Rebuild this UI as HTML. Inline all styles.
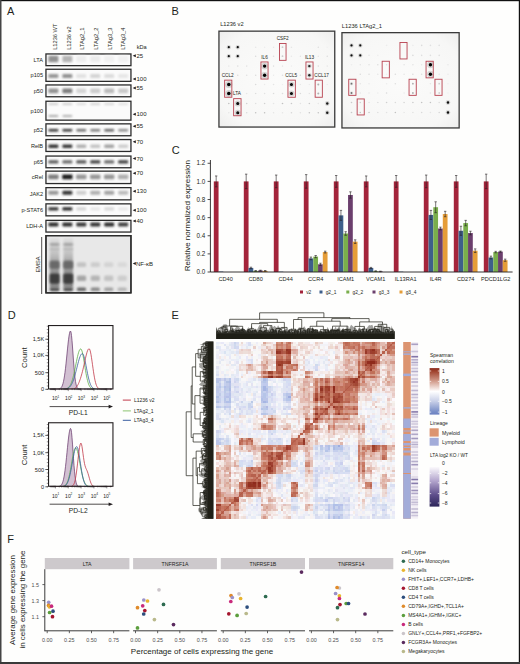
<!DOCTYPE html>
<html><head><meta charset="utf-8"><style>
html,body{margin:0;padding:0;background:#fff;}
svg{display:block;font-family:"Liberation Sans", sans-serif;}
</style></head><body>
<svg width="520" height="664" viewBox="0 0 520 664">
<defs>
<filter id="bl" x="-50%" y="-50%" width="200%" height="200%"><feGaussianBlur stdDeviation="0.7"/></filter>
<filter id="bb" x="-50%" y="-80%" width="200%" height="260%"><feGaussianBlur stdDeviation="1.1 0.85"/></filter>
<filter id="bl3" x="-50%" y="-80%" width="200%" height="260%"><feGaussianBlur stdDeviation="1.0 1.1"/></filter>
<linearGradient id="smear" x1="0" y1="0" x2="0" y2="1"><stop offset="0" stop-color="#dedede"/><stop offset="0.3" stop-color="#c4c4c4"/><stop offset="0.55" stop-color="#9a9a9a"/><stop offset="1" stop-color="#8a8a8a"/></linearGradient>
<filter id="bs" x="-50%" y="-50%" width="200%" height="200%"><feGaussianBlur stdDeviation="0.35"/></filter>
<filter id="bl2" x="-50%" y="-50%" width="200%" height="200%"><feGaussianBlur stdDeviation="1.6"/></filter>
<clipPath id="emsaclip"><rect x="46" y="236" width="85" height="57"/></clipPath>
<radialGradient id="memb" cx="50%" cy="50%" r="72%"><stop offset="0" stop-color="#fbfbfa"/><stop offset="0.75" stop-color="#f7f7f6"/><stop offset="1" stop-color="#ededec"/></radialGradient>
<linearGradient id="spear" x1="0" y1="0" x2="0" y2="1"><stop offset="0" stop-color="#8c2a1a"/><stop offset="0.07" stop-color="#a0432e"/><stop offset="0.29" stop-color="#d4a090"/><stop offset="0.5" stop-color="#ffffff"/><stop offset="0.71" stop-color="#c9d0e8"/><stop offset="0.93" stop-color="#7b90c8"/><stop offset="1" stop-color="#6a80c0"/></linearGradient>
<linearGradient id="ltag" x1="0" y1="0" x2="0" y2="1"><stop offset="0" stop-color="#fbf9fc"/><stop offset="0.35" stop-color="#b3a5cd"/><stop offset="0.7" stop-color="#5f4f8c"/><stop offset="1" stop-color="#2c2559"/></linearGradient>
</defs>
<rect x="0" y="0" width="520" height="664" fill="#fefefd"/>
<text x="7.00" y="15.20" font-size="11" text-anchor="start" fill="#231f20" >A</text><text transform="translate(56.80,49.80) rotate(-90)" font-size="5.7" text-anchor="start" fill="#231f20" >L1236 WT</text><text transform="translate(70.50,49.80) rotate(-90)" font-size="5.7" text-anchor="start" fill="#231f20" >L1236 v2</text><text transform="translate(84.20,49.80) rotate(-90)" font-size="5.7" text-anchor="start" fill="#231f20" >LTAg2_1</text><text transform="translate(97.90,49.80) rotate(-90)" font-size="5.7" text-anchor="start" fill="#231f20" >LTAg2_2</text><text transform="translate(111.60,49.80) rotate(-90)" font-size="5.7" text-anchor="start" fill="#231f20" >LTAg3_3</text><text transform="translate(125.30,49.80) rotate(-90)" font-size="5.7" text-anchor="start" fill="#231f20" >LTAg3_4</text><text x="136.70" y="49.00" font-size="5.6" text-anchor="start" fill="#231f20" >kDa</text><rect x="45.95" y="53.95" width="85.00" height="11.70" fill="#fbfbfb" stroke="#2b2b2b" stroke-width="1.3"/><text x="43.00" y="61.80" font-size="5.6" text-anchor="end" fill="#231f20" >LTA</text><path d="M132.7 55.70 L135.8 54.20 L135.8 57.20 Z" fill="#231f20"/><text x="136.50" y="57.80" font-size="6.0" text-anchor="start" fill="#231f20" >25</text><rect x="48.40" y="55.80" width="10.00" height="6.40" rx="1.2" fill="rgb(145,145,145)" filter="url(#bb)"/><rect x="62.35" y="55.80" width="10.00" height="6.40" rx="1.2" fill="rgb(180,180,180)" filter="url(#bb)"/><rect x="76.30" y="55.80" width="10.00" height="6.40" rx="1.2" fill="rgb(237,237,237)" filter="url(#bb)"/><rect x="90.25" y="55.80" width="10.00" height="6.40" rx="1.2" fill="rgb(235,235,235)" filter="url(#bb)"/><rect x="104.20" y="55.80" width="10.00" height="6.40" rx="1.2" fill="rgb(240,240,240)" filter="url(#bb)"/><rect x="118.15" y="55.80" width="10.00" height="6.40" rx="1.2" fill="rgb(240,240,240)" filter="url(#bb)"/><rect x="45.95" y="69.25" width="85.00" height="12.10" fill="#fbfbfb" stroke="#2b2b2b" stroke-width="1.3"/><text x="43.00" y="77.30" font-size="5.6" text-anchor="end" fill="#231f20" >p105</text><path d="M132.7 79.00 L135.8 77.50 L135.8 80.50 Z" fill="#231f20"/><text x="136.50" y="81.10" font-size="6.0" text-anchor="start" fill="#231f20" >100</text><rect x="48.40" y="73.90" width="10.00" height="4.20" rx="1.2" fill="rgb(150,150,150)" filter="url(#bb)"/><rect x="62.35" y="73.90" width="10.00" height="4.20" rx="1.2" fill="rgb(145,145,145)" filter="url(#bb)"/><rect x="76.30" y="73.90" width="10.00" height="4.20" rx="1.2" fill="rgb(225,225,225)" filter="url(#bb)"/><rect x="90.25" y="73.90" width="10.00" height="4.20" rx="1.2" fill="rgb(212,212,212)" filter="url(#bb)"/><rect x="104.20" y="73.90" width="10.00" height="4.20" rx="1.2" fill="rgb(220,220,220)" filter="url(#bb)"/><rect x="118.15" y="73.90" width="10.00" height="4.20" rx="1.2" fill="rgb(230,230,230)" filter="url(#bb)"/><rect x="45.95" y="84.95" width="85.00" height="11.80" fill="#fbfbfb" stroke="#2b2b2b" stroke-width="1.3"/><text x="43.00" y="92.85" font-size="5.6" text-anchor="end" fill="#231f20" >p50</text><path d="M132.7 88.00 L135.8 86.50 L135.8 89.50 Z" fill="#231f20"/><text x="136.50" y="90.10" font-size="6.0" text-anchor="start" fill="#231f20" >55</text><rect x="48.40" y="88.50" width="10.00" height="4.80" rx="1.2" fill="rgb(145,145,145)" filter="url(#bb)"/><rect x="62.35" y="88.50" width="10.00" height="4.80" rx="1.2" fill="rgb(125,125,125)" filter="url(#bb)"/><rect x="76.30" y="88.50" width="10.00" height="4.80" rx="1.2" fill="rgb(212,212,212)" filter="url(#bb)"/><rect x="90.25" y="88.50" width="10.00" height="4.80" rx="1.2" fill="rgb(202,202,202)" filter="url(#bb)"/><rect x="104.20" y="88.50" width="10.00" height="4.80" rx="1.2" fill="rgb(185,185,185)" filter="url(#bb)"/><rect x="118.15" y="88.50" width="10.00" height="4.80" rx="1.2" fill="rgb(200,200,200)" filter="url(#bb)"/><rect x="45.95" y="101.25" width="85.00" height="18.90" fill="#fbfbfb" stroke="#2b2b2b" stroke-width="1.3"/><text x="43.00" y="112.70" font-size="5.6" text-anchor="end" fill="#231f20" >p100</text><path d="M132.7 114.20 L135.8 112.70 L135.8 115.70 Z" fill="#231f20"/><text x="136.50" y="116.30" font-size="6.0" text-anchor="start" fill="#231f20" >100</text><rect x="48.40" y="103.30" width="10.00" height="1.80" rx="1.2" fill="rgb(200,200,200)" filter="url(#bb)"/><rect x="62.35" y="103.30" width="10.00" height="1.80" rx="1.2" fill="rgb(200,200,200)" filter="url(#bb)"/><rect x="76.30" y="103.30" width="10.00" height="1.80" rx="1.2" fill="rgb(215,215,215)" filter="url(#bb)"/><rect x="90.25" y="103.30" width="10.00" height="1.80" rx="1.2" fill="rgb(205,205,205)" filter="url(#bb)"/><rect x="104.20" y="103.30" width="10.00" height="1.80" rx="1.2" fill="rgb(210,210,210)" filter="url(#bb)"/><rect x="118.15" y="103.30" width="10.00" height="1.80" rx="1.2" fill="rgb(220,220,220)" filter="url(#bb)"/><rect x="48.40" y="115.00" width="10.00" height="2.00" rx="1.2" fill="rgb(169,169,169)" filter="url(#bb)"/><rect x="62.35" y="115.00" width="10.00" height="2.00" rx="1.2" fill="rgb(175,175,175)" filter="url(#bb)"/><rect x="45.95" y="123.85" width="85.00" height="11.90" fill="#fbfbfb" stroke="#2b2b2b" stroke-width="1.3"/><text x="43.00" y="131.80" font-size="5.6" text-anchor="end" fill="#231f20" >p52</text><path d="M132.7 126.30 L135.8 124.80 L135.8 127.80 Z" fill="#231f20"/><text x="136.50" y="128.40" font-size="6.0" text-anchor="start" fill="#231f20" >55</text><rect x="48.40" y="128.90" width="10.00" height="2.60" rx="1.2" fill="rgb(45,45,45)" filter="url(#bb)"/><rect x="62.35" y="128.90" width="10.00" height="2.60" rx="1.2" fill="rgb(49,49,49)" filter="url(#bb)"/><rect x="76.30" y="128.90" width="10.00" height="2.60" rx="1.2" fill="rgb(105,105,105)" filter="url(#bb)"/><rect x="90.25" y="128.90" width="10.00" height="2.60" rx="1.2" fill="rgb(120,120,120)" filter="url(#bb)"/><rect x="104.20" y="128.90" width="10.00" height="2.60" rx="1.2" fill="rgb(95,95,95)" filter="url(#bb)"/><rect x="118.15" y="128.90" width="10.00" height="2.60" rx="1.2" fill="rgb(137,137,137)" filter="url(#bb)"/><rect x="45.95" y="139.55" width="85.00" height="11.90" fill="#fbfbfb" stroke="#2b2b2b" stroke-width="1.3"/><text x="43.00" y="147.50" font-size="5.6" text-anchor="end" fill="#231f20" >RelB</text><path d="M132.7 141.70 L135.8 140.20 L135.8 143.20 Z" fill="#231f20"/><text x="136.50" y="143.80" font-size="6.0" text-anchor="start" fill="#231f20" >70</text><rect x="48.40" y="144.50" width="10.00" height="3.40" rx="1.2" fill="rgb(49,49,49)" filter="url(#bb)"/><rect x="62.35" y="144.50" width="10.00" height="3.40" rx="1.2" fill="rgb(54,54,54)" filter="url(#bb)"/><rect x="76.30" y="144.50" width="10.00" height="3.40" rx="1.2" fill="rgb(175,175,175)" filter="url(#bb)"/><rect x="90.25" y="144.50" width="10.00" height="3.40" rx="1.2" fill="rgb(195,195,195)" filter="url(#bb)"/><rect x="104.20" y="144.50" width="10.00" height="3.40" rx="1.2" fill="rgb(162,162,162)" filter="url(#bb)"/><rect x="118.15" y="144.50" width="10.00" height="3.40" rx="1.2" fill="rgb(205,205,205)" filter="url(#bb)"/><rect x="45.95" y="156.05" width="85.00" height="11.70" fill="#fbfbfb" stroke="#2b2b2b" stroke-width="1.3"/><text x="43.00" y="163.90" font-size="5.6" text-anchor="end" fill="#231f20" >p65</text><path d="M132.7 158.50 L135.8 157.00 L135.8 160.00 Z" fill="#231f20"/><text x="136.50" y="160.60" font-size="6.0" text-anchor="start" fill="#231f20" >70</text><rect x="48.40" y="160.20" width="10.00" height="3.40" rx="1.2" fill="rgb(90,90,90)" filter="url(#bb)"/><rect x="62.35" y="160.20" width="10.00" height="3.40" rx="1.2" fill="rgb(105,105,105)" filter="url(#bb)"/><rect x="76.30" y="160.20" width="10.00" height="3.40" rx="1.2" fill="rgb(84,84,84)" filter="url(#bb)"/><rect x="90.25" y="160.20" width="10.00" height="3.40" rx="1.2" fill="rgb(65,65,65)" filter="url(#bb)"/><rect x="104.20" y="160.20" width="10.00" height="3.40" rx="1.2" fill="rgb(107,107,107)" filter="url(#bb)"/><rect x="118.15" y="160.20" width="10.00" height="3.40" rx="1.2" fill="rgb(60,60,60)" filter="url(#bb)"/><rect x="45.95" y="171.15" width="85.00" height="12.40" fill="#fbfbfb" stroke="#2b2b2b" stroke-width="1.3"/><text x="43.00" y="179.35" font-size="5.6" text-anchor="end" fill="#231f20" >cRel</text><path d="M132.7 173.30 L135.8 171.80 L135.8 174.80 Z" fill="#231f20"/><text x="136.50" y="175.40" font-size="6.0" text-anchor="start" fill="#231f20" >70</text><rect x="48.20" y="174.40" width="10.40" height="4.80" rx="1.2" fill="rgb(125,125,125)" filter="url(#bb)"/><rect x="62.15" y="174.40" width="10.40" height="4.80" rx="1.2" fill="rgb(30,30,30)" filter="url(#bb)"/><rect x="76.10" y="174.40" width="10.40" height="4.80" rx="1.2" fill="rgb(150,150,150)" filter="url(#bb)"/><rect x="90.05" y="174.40" width="10.40" height="4.80" rx="1.2" fill="rgb(150,150,150)" filter="url(#bb)"/><rect x="104.00" y="174.40" width="10.40" height="4.80" rx="1.2" fill="rgb(150,150,150)" filter="url(#bb)"/><rect x="117.95" y="174.40" width="10.40" height="4.80" rx="1.2" fill="rgb(175,175,175)" filter="url(#bb)"/><rect x="45.95" y="187.65" width="85.00" height="12.20" fill="#fbfbfb" stroke="#2b2b2b" stroke-width="1.3"/><text x="43.00" y="195.75" font-size="5.6" text-anchor="end" fill="#231f20" >JAK2</text><path d="M132.7 191.20 L135.8 189.70 L135.8 192.70 Z" fill="#231f20"/><text x="136.50" y="193.30" font-size="6.0" text-anchor="start" fill="#231f20" >130</text><rect x="48.40" y="190.70" width="10.00" height="4.00" rx="1.2" fill="rgb(150,150,150)" filter="url(#bb)"/><rect x="62.35" y="190.70" width="10.00" height="4.00" rx="1.2" fill="rgb(54,54,54)" filter="url(#bb)"/><rect x="76.30" y="190.70" width="10.00" height="4.00" rx="1.2" fill="rgb(205,205,205)" filter="url(#bb)"/><rect x="90.25" y="190.70" width="10.00" height="4.00" rx="1.2" fill="rgb(175,175,175)" filter="url(#bb)"/><rect x="104.20" y="190.70" width="10.00" height="4.00" rx="1.2" fill="rgb(162,162,162)" filter="url(#bb)"/><rect x="118.15" y="190.70" width="10.00" height="4.00" rx="1.2" fill="rgb(187,187,187)" filter="url(#bb)"/><rect x="45.95" y="203.85" width="85.00" height="12.00" fill="#fbfbfb" stroke="#2b2b2b" stroke-width="1.3"/><text x="43.00" y="211.85" font-size="5.6" text-anchor="end" fill="#231f20" >p-STAT6</text><path d="M132.7 210.20 L135.8 208.70 L135.8 211.70 Z" fill="#231f20"/><text x="136.50" y="212.30" font-size="6.0" text-anchor="start" fill="#231f20" >100</text><rect x="48.40" y="207.20" width="10.00" height="3.20" rx="1.2" fill="rgb(49,49,49)" filter="url(#bb)"/><rect x="62.35" y="207.20" width="10.00" height="3.20" rx="1.2" fill="rgb(40,40,40)" filter="url(#bb)"/><rect x="76.30" y="207.20" width="10.00" height="3.20" rx="1.2" fill="rgb(212,212,212)" filter="url(#bb)"/><rect x="90.25" y="207.20" width="10.00" height="3.20" rx="1.2" fill="rgb(230,230,230)" filter="url(#bb)"/><rect x="104.20" y="207.20" width="10.00" height="3.20" rx="1.2" fill="rgb(215,215,215)" filter="url(#bb)"/><rect x="118.15" y="207.20" width="10.00" height="3.20" rx="1.2" fill="rgb(232,232,232)" filter="url(#bb)"/><rect x="45.95" y="220.35" width="85.00" height="11.70" fill="#fbfbfb" stroke="#2b2b2b" stroke-width="1.3"/><text x="43.00" y="228.20" font-size="5.6" text-anchor="end" fill="#231f20" >LDH-A</text><path d="M132.7 221.10 L135.8 219.60 L135.8 222.60 Z" fill="#231f20"/><text x="136.50" y="223.20" font-size="6.0" text-anchor="start" fill="#231f20" >40</text><rect x="48.40" y="222.60" width="10.00" height="3.80" rx="1.2" fill="rgb(45,45,45)" filter="url(#bb)"/><rect x="62.35" y="222.60" width="10.00" height="3.80" rx="1.2" fill="rgb(45,45,45)" filter="url(#bb)"/><rect x="76.30" y="222.60" width="10.00" height="3.80" rx="1.2" fill="rgb(57,57,57)" filter="url(#bb)"/><rect x="90.25" y="222.60" width="10.00" height="3.80" rx="1.2" fill="rgb(52,52,52)" filter="url(#bb)"/><rect x="104.20" y="222.60" width="10.00" height="3.80" rx="1.2" fill="rgb(45,45,45)" filter="url(#bb)"/><rect x="118.15" y="222.60" width="10.00" height="3.80" rx="1.2" fill="rgb(65,65,65)" filter="url(#bb)"/><rect x="45.95" y="235.65" width="85.00" height="57.20" fill="#e8e8e8" stroke="#2b2b2b" stroke-width="1.3"/><g clip-path="url(#emsaclip)"><rect x="49.80" y="238" width="9.6" height="50" fill="url(#smear)" filter="url(#bb)"/><rect x="49.70" y="243.10" width="9.8" height="2.80" rx="2" fill="rgb(165,165,165)" filter="url(#bl3)"/><rect x="49.70" y="247.90" width="9.8" height="2.40" rx="2" fill="rgb(185,185,185)" filter="url(#bl3)"/><rect x="49.70" y="260.70" width="9.8" height="8.00" rx="2" fill="rgb(105,105,105)" filter="url(#bl3)"/><rect x="49.70" y="273.40" width="9.8" height="10.40" rx="2" fill="rgb(62,62,62)" filter="url(#bl3)"/><rect x="49.70" y="287.40" width="9.8" height="3.80" rx="2" fill="rgb(80,80,80)" filter="url(#bl3)"/><rect x="63.40" y="238" width="9.6" height="50" fill="url(#smear)" filter="url(#bb)"/><rect x="63.30" y="243.10" width="9.8" height="2.80" rx="2" fill="rgb(165,165,165)" filter="url(#bl3)"/><rect x="63.30" y="247.90" width="9.8" height="2.40" rx="2" fill="rgb(185,185,185)" filter="url(#bl3)"/><rect x="63.30" y="260.70" width="9.8" height="8.00" rx="2" fill="rgb(105,105,105)" filter="url(#bl3)"/><rect x="63.30" y="273.40" width="9.8" height="10.40" rx="2" fill="rgb(62,62,62)" filter="url(#bl3)"/><rect x="63.30" y="287.40" width="9.8" height="3.80" rx="2" fill="rgb(80,80,80)" filter="url(#bl3)"/><rect x="76.90" y="262.30" width="9.2" height="4.80" rx="1.5" fill="rgb(195,195,195)" filter="url(#bl3)"/><rect x="76.90" y="275.50" width="9.2" height="5.60" rx="1.5" fill="rgb(165,165,165)" filter="url(#bl3)"/><rect x="76.90" y="287.50" width="9.2" height="3.60" rx="1.5" fill="rgb(105,105,105)" filter="url(#bl3)"/><rect x="90.70" y="262.30" width="9.2" height="4.80" rx="1.5" fill="rgb(204,204,204)" filter="url(#bl3)"/><rect x="90.70" y="275.50" width="9.2" height="5.60" rx="1.5" fill="rgb(181,181,181)" filter="url(#bl3)"/><rect x="90.70" y="287.50" width="9.2" height="3.60" rx="1.5" fill="rgb(136,136,136)" filter="url(#bl3)"/><rect x="104.10" y="262.30" width="9.2" height="4.80" rx="1.5" fill="rgb(211,211,211)" filter="url(#bl3)"/><rect x="104.10" y="275.50" width="9.2" height="5.60" rx="1.5" fill="rgb(195,195,195)" filter="url(#bl3)"/><rect x="104.10" y="287.50" width="9.2" height="3.60" rx="1.5" fill="rgb(162,162,162)" filter="url(#bl3)"/><rect x="117.60" y="262.30" width="9.2" height="4.80" rx="1.5" fill="rgb(217,217,217)" filter="url(#bl3)"/><rect x="117.60" y="275.50" width="9.2" height="5.60" rx="1.5" fill="rgb(205,205,205)" filter="url(#bl3)"/><rect x="117.60" y="287.50" width="9.2" height="3.60" rx="1.5" fill="rgb(181,181,181)" filter="url(#bl3)"/></g><rect x="45.95" y="235.65" width="85.00" height="57.20" fill="none" stroke="#2b2b2b" stroke-width="1.3"/><line x1="41.7" y1="237" x2="41.7" y2="294" stroke="#231f20" stroke-width="0.8"/><text transform="translate(40.00,264.40) rotate(-90)" font-size="5.7" text-anchor="middle" fill="#231f20" >EMSA</text><path d="M132.7 263.6 L135.8 262.1 L135.8 265.1 Z" fill="#231f20"/><text x="136.00" y="265.70" font-size="6.0" text-anchor="start" fill="#231f20" >NF-κB</text><text x="171.60" y="15.00" font-size="11" text-anchor="start" fill="#231f20" >B</text><text x="220.20" y="26.30" font-size="5.7" text-anchor="start" fill="#231f20" >L1236 v2</text><text x="341.80" y="27.90" font-size="5.75" text-anchor="start" fill="#231f20" >L1236 LTAg2_1</text><rect x="218.95" y="31.15" width="115.80" height="95.90" fill="url(#memb)" stroke="#3a3a3a" stroke-width="1.3"/><circle cx="228.80" cy="47.20" r="2.20" fill="#000" opacity="0.13" filter="url(#bl)"/><circle cx="228.80" cy="47.20" r="1.10" fill="rgb(12,12,12)" filter="url(#bs)"/><circle cx="237.75" cy="47.20" r="2.20" fill="#000" opacity="0.13" filter="url(#bl)"/><circle cx="237.75" cy="47.20" r="1.10" fill="rgb(12,12,12)" filter="url(#bs)"/><circle cx="255.65" cy="47.20" r="0.80" fill="rgb(231,231,231)" filter="url(#bs)"/><circle cx="264.60" cy="47.20" r="0.80" fill="rgb(236,236,236)" filter="url(#bs)"/><circle cx="273.55" cy="47.20" r="0.80" fill="rgb(230,230,230)" filter="url(#bs)"/><circle cx="282.50" cy="47.20" r="0.90" fill="rgb(203,203,203)" filter="url(#bs)"/><circle cx="291.45" cy="47.20" r="0.80" fill="rgb(229,229,229)" filter="url(#bs)"/><circle cx="318.30" cy="47.20" r="0.80" fill="rgb(223,223,223)" filter="url(#bs)"/><circle cx="327.25" cy="47.20" r="0.80" fill="rgb(240,240,240)" filter="url(#bs)"/><circle cx="228.80" cy="56.20" r="2.20" fill="#000" opacity="0.13" filter="url(#bl)"/><circle cx="228.80" cy="56.20" r="1.10" fill="rgb(12,12,12)" filter="url(#bs)"/><circle cx="237.75" cy="56.20" r="2.20" fill="#000" opacity="0.13" filter="url(#bl)"/><circle cx="237.75" cy="56.20" r="1.10" fill="rgb(12,12,12)" filter="url(#bs)"/><circle cx="255.65" cy="56.20" r="0.80" fill="rgb(218,218,218)" filter="url(#bs)"/><circle cx="264.60" cy="56.20" r="0.80" fill="rgb(234,234,234)" filter="url(#bs)"/><circle cx="273.55" cy="56.20" r="0.80" fill="rgb(223,223,223)" filter="url(#bs)"/><circle cx="282.50" cy="56.20" r="0.90" fill="rgb(203,203,203)" filter="url(#bs)"/><circle cx="291.45" cy="56.20" r="0.80" fill="rgb(233,233,233)" filter="url(#bs)"/><circle cx="300.40" cy="56.20" r="0.80" fill="rgb(228,228,228)" filter="url(#bs)"/><circle cx="318.30" cy="56.20" r="0.80" fill="rgb(229,229,229)" filter="url(#bs)"/><circle cx="327.25" cy="56.20" r="0.80" fill="rgb(222,222,222)" filter="url(#bs)"/><circle cx="228.80" cy="66.10" r="0.80" fill="rgb(232,232,232)" filter="url(#bs)"/><circle cx="237.75" cy="66.10" r="0.80" fill="rgb(225,225,225)" filter="url(#bs)"/><circle cx="246.70" cy="66.10" r="0.80" fill="rgb(228,228,228)" filter="url(#bs)"/><circle cx="264.60" cy="66.10" r="3.40" fill="#000" opacity="0.14" filter="url(#bl)"/><circle cx="264.60" cy="66.10" r="1.70" fill="rgb(0,0,0)" filter="url(#bs)"/><circle cx="273.55" cy="66.10" r="0.80" fill="rgb(225,225,225)" filter="url(#bs)"/><circle cx="282.50" cy="66.10" r="0.80" fill="rgb(230,230,230)" filter="url(#bs)"/><circle cx="291.45" cy="66.10" r="0.80" fill="rgb(239,239,239)" filter="url(#bs)"/><circle cx="309.35" cy="66.10" r="2.40" fill="#000" opacity="0.12" filter="url(#bl)"/><circle cx="309.35" cy="66.10" r="1.20" fill="rgb(37,37,37)" filter="url(#bs)"/><circle cx="318.30" cy="66.10" r="0.80" fill="rgb(222,222,222)" filter="url(#bs)"/><circle cx="327.25" cy="66.10" r="0.80" fill="rgb(233,233,233)" filter="url(#bs)"/><circle cx="228.80" cy="75.30" r="0.80" fill="rgb(226,226,226)" filter="url(#bs)"/><circle cx="237.75" cy="75.30" r="0.80" fill="rgb(221,221,221)" filter="url(#bs)"/><circle cx="246.70" cy="75.30" r="0.80" fill="rgb(226,226,226)" filter="url(#bs)"/><circle cx="255.65" cy="75.30" r="0.80" fill="rgb(220,220,220)" filter="url(#bs)"/><circle cx="264.60" cy="75.30" r="3.40" fill="#000" opacity="0.14" filter="url(#bl)"/><circle cx="264.60" cy="75.30" r="1.70" fill="rgb(0,0,0)" filter="url(#bs)"/><circle cx="273.55" cy="75.30" r="0.80" fill="rgb(236,236,236)" filter="url(#bs)"/><circle cx="282.50" cy="75.30" r="0.80" fill="rgb(224,224,224)" filter="url(#bs)"/><circle cx="291.45" cy="75.30" r="0.80" fill="rgb(234,234,234)" filter="url(#bs)"/><circle cx="300.40" cy="75.30" r="0.80" fill="rgb(220,220,220)" filter="url(#bs)"/><circle cx="309.35" cy="75.30" r="2.40" fill="#000" opacity="0.12" filter="url(#bl)"/><circle cx="309.35" cy="75.30" r="1.20" fill="rgb(37,37,37)" filter="url(#bs)"/><circle cx="318.30" cy="75.30" r="0.80" fill="rgb(221,221,221)" filter="url(#bs)"/><circle cx="228.80" cy="84.50" r="3.60" fill="#000" opacity="0.14" filter="url(#bl)"/><circle cx="228.80" cy="84.50" r="1.80" fill="rgb(0,0,0)" filter="url(#bs)"/><circle cx="255.65" cy="84.50" r="0.80" fill="rgb(219,219,219)" filter="url(#bs)"/><circle cx="264.60" cy="84.50" r="0.80" fill="rgb(235,235,235)" filter="url(#bs)"/><circle cx="273.55" cy="84.50" r="0.80" fill="rgb(229,229,229)" filter="url(#bs)"/><circle cx="282.50" cy="84.50" r="0.80" fill="rgb(239,239,239)" filter="url(#bs)"/><circle cx="291.45" cy="84.50" r="3.00" fill="#000" opacity="0.14" filter="url(#bl)"/><circle cx="291.45" cy="84.50" r="1.50" fill="rgb(7,7,7)" filter="url(#bs)"/><circle cx="300.40" cy="84.50" r="0.80" fill="rgb(232,232,232)" filter="url(#bs)"/><circle cx="309.35" cy="84.50" r="0.80" fill="rgb(236,236,236)" filter="url(#bs)"/><circle cx="318.30" cy="84.50" r="1.00" fill="rgb(178,178,178)" filter="url(#bs)"/><circle cx="327.25" cy="84.50" r="0.80" fill="rgb(237,237,237)" filter="url(#bs)"/><circle cx="228.80" cy="93.50" r="3.60" fill="#000" opacity="0.14" filter="url(#bl)"/><circle cx="228.80" cy="93.50" r="1.80" fill="rgb(0,0,0)" filter="url(#bs)"/><circle cx="237.75" cy="93.50" r="0.80" fill="rgb(230,230,230)" filter="url(#bs)"/><circle cx="246.70" cy="93.50" r="0.80" fill="rgb(230,230,230)" filter="url(#bs)"/><circle cx="255.65" cy="93.50" r="0.80" fill="rgb(221,221,221)" filter="url(#bs)"/><circle cx="264.60" cy="93.50" r="0.80" fill="rgb(227,227,227)" filter="url(#bs)"/><circle cx="273.55" cy="93.50" r="0.80" fill="rgb(220,220,220)" filter="url(#bs)"/><circle cx="282.50" cy="93.50" r="0.80" fill="rgb(222,222,222)" filter="url(#bs)"/><circle cx="291.45" cy="93.50" r="3.00" fill="#000" opacity="0.14" filter="url(#bl)"/><circle cx="291.45" cy="93.50" r="1.50" fill="rgb(7,7,7)" filter="url(#bs)"/><circle cx="300.40" cy="93.50" r="0.80" fill="rgb(218,218,218)" filter="url(#bs)"/><circle cx="309.35" cy="93.50" r="0.80" fill="rgb(228,228,228)" filter="url(#bs)"/><circle cx="318.30" cy="93.50" r="1.00" fill="rgb(178,178,178)" filter="url(#bs)"/><circle cx="228.80" cy="103.50" r="0.80" fill="rgb(194,194,194)" filter="url(#bs)"/><circle cx="237.75" cy="103.50" r="3.00" fill="#000" opacity="0.14" filter="url(#bl)"/><circle cx="237.75" cy="103.50" r="1.50" fill="rgb(7,7,7)" filter="url(#bs)"/><circle cx="246.70" cy="103.50" r="0.80" fill="rgb(210,210,210)" filter="url(#bs)"/><circle cx="255.65" cy="103.50" r="0.80" fill="rgb(224,224,224)" filter="url(#bs)"/><circle cx="264.60" cy="103.50" r="0.80" fill="rgb(210,210,210)" filter="url(#bs)"/><circle cx="273.55" cy="103.50" r="0.80" fill="rgb(230,230,230)" filter="url(#bs)"/><circle cx="282.50" cy="103.50" r="0.80" fill="rgb(193,193,193)" filter="url(#bs)"/><circle cx="291.45" cy="103.50" r="0.80" fill="rgb(201,201,201)" filter="url(#bs)"/><circle cx="300.40" cy="103.50" r="0.80" fill="rgb(227,227,227)" filter="url(#bs)"/><circle cx="309.35" cy="103.50" r="0.80" fill="rgb(202,202,202)" filter="url(#bs)"/><circle cx="318.30" cy="103.50" r="0.80" fill="rgb(231,231,231)" filter="url(#bs)"/><circle cx="327.25" cy="103.50" r="2.40" fill="#000" opacity="0.13" filter="url(#bl)"/><circle cx="327.25" cy="103.50" r="1.20" fill="rgb(24,24,24)" filter="url(#bs)"/><circle cx="228.80" cy="112.70" r="0.80" fill="rgb(231,231,231)" filter="url(#bs)"/><circle cx="237.75" cy="112.70" r="3.00" fill="#000" opacity="0.14" filter="url(#bl)"/><circle cx="237.75" cy="112.70" r="1.50" fill="rgb(7,7,7)" filter="url(#bs)"/><circle cx="246.70" cy="112.70" r="0.80" fill="rgb(219,219,219)" filter="url(#bs)"/><circle cx="255.65" cy="112.70" r="0.80" fill="rgb(194,194,194)" filter="url(#bs)"/><circle cx="264.60" cy="112.70" r="0.80" fill="rgb(193,193,193)" filter="url(#bs)"/><circle cx="273.55" cy="112.70" r="0.80" fill="rgb(230,230,230)" filter="url(#bs)"/><circle cx="282.50" cy="112.70" r="0.80" fill="rgb(231,231,231)" filter="url(#bs)"/><circle cx="291.45" cy="112.70" r="0.80" fill="rgb(216,216,216)" filter="url(#bs)"/><circle cx="300.40" cy="112.70" r="0.80" fill="rgb(226,226,226)" filter="url(#bs)"/><circle cx="309.35" cy="112.70" r="0.80" fill="rgb(198,198,198)" filter="url(#bs)"/><circle cx="318.30" cy="112.70" r="0.80" fill="rgb(195,195,195)" filter="url(#bs)"/><circle cx="327.25" cy="112.70" r="2.40" fill="#000" opacity="0.13" filter="url(#bl)"/><circle cx="327.25" cy="112.70" r="1.20" fill="rgb(24,24,24)" filter="url(#bs)"/><rect x="279.45" y="43.45" width="6.60" height="16.90" fill="none" stroke="#b7414f" stroke-width="0.9"/><rect x="260.95" y="61.95" width="7.10" height="17.10" fill="none" stroke="#b7414f" stroke-width="0.9"/><rect x="305.95" y="61.95" width="7.10" height="17.10" fill="none" stroke="#b7414f" stroke-width="0.9"/><rect x="224.65" y="80.15" width="7.20" height="17.10" fill="none" stroke="#b7414f" stroke-width="0.9"/><rect x="287.95" y="80.15" width="7.40" height="17.10" fill="none" stroke="#b7414f" stroke-width="0.9"/><rect x="315.15" y="80.15" width="7.20" height="17.10" fill="none" stroke="#b7414f" stroke-width="0.9"/><rect x="233.65" y="98.65" width="7.40" height="17.10" fill="none" stroke="#b7414f" stroke-width="0.9"/><rect x="341.95" y="32.65" width="117.20" height="95.30" fill="url(#memb)" stroke="#3a3a3a" stroke-width="1.3"/><circle cx="351.50" cy="45.40" r="2.20" fill="#000" opacity="0.13" filter="url(#bl)"/><circle cx="351.50" cy="45.40" r="1.10" fill="rgb(12,12,12)" filter="url(#bs)"/><circle cx="360.27" cy="45.40" r="2.20" fill="#000" opacity="0.13" filter="url(#bl)"/><circle cx="360.27" cy="45.40" r="1.10" fill="rgb(12,12,12)" filter="url(#bs)"/><circle cx="386.58" cy="45.40" r="0.80" fill="rgb(236,236,236)" filter="url(#bs)"/><circle cx="412.89" cy="45.40" r="0.80" fill="rgb(236,236,236)" filter="url(#bs)"/><circle cx="421.66" cy="45.40" r="0.80" fill="rgb(220,220,220)" filter="url(#bs)"/><circle cx="430.43" cy="45.40" r="0.80" fill="rgb(224,224,224)" filter="url(#bs)"/><circle cx="439.20" cy="45.40" r="0.80" fill="rgb(225,225,225)" filter="url(#bs)"/><circle cx="351.50" cy="55.40" r="2.20" fill="#000" opacity="0.13" filter="url(#bl)"/><circle cx="351.50" cy="55.40" r="1.10" fill="rgb(12,12,12)" filter="url(#bs)"/><circle cx="360.27" cy="55.40" r="2.20" fill="#000" opacity="0.13" filter="url(#bl)"/><circle cx="360.27" cy="55.40" r="1.10" fill="rgb(12,12,12)" filter="url(#bs)"/><circle cx="369.04" cy="55.40" r="0.80" fill="rgb(232,232,232)" filter="url(#bs)"/><circle cx="377.81" cy="55.40" r="0.80" fill="rgb(239,239,239)" filter="url(#bs)"/><circle cx="412.89" cy="55.40" r="0.80" fill="rgb(220,220,220)" filter="url(#bs)"/><circle cx="421.66" cy="55.40" r="0.80" fill="rgb(223,223,223)" filter="url(#bs)"/><circle cx="430.43" cy="55.40" r="0.80" fill="rgb(223,223,223)" filter="url(#bs)"/><circle cx="439.20" cy="55.40" r="0.80" fill="rgb(224,224,224)" filter="url(#bs)"/><circle cx="351.50" cy="64.80" r="0.80" fill="rgb(238,238,238)" filter="url(#bs)"/><circle cx="360.27" cy="64.80" r="0.80" fill="rgb(229,229,229)" filter="url(#bs)"/><circle cx="369.04" cy="64.80" r="0.80" fill="rgb(226,226,226)" filter="url(#bs)"/><circle cx="377.81" cy="64.80" r="0.80" fill="rgb(222,222,222)" filter="url(#bs)"/><circle cx="386.58" cy="64.80" r="0.80" fill="rgb(221,221,221)" filter="url(#bs)"/><circle cx="404.12" cy="64.80" r="0.80" fill="rgb(229,229,229)" filter="url(#bs)"/><circle cx="412.89" cy="64.80" r="0.80" fill="rgb(228,228,228)" filter="url(#bs)"/><circle cx="421.66" cy="64.80" r="0.80" fill="rgb(232,232,232)" filter="url(#bs)"/><circle cx="430.43" cy="64.80" r="3.40" fill="#000" opacity="0.14" filter="url(#bl)"/><circle cx="430.43" cy="64.80" r="1.70" fill="rgb(0,0,0)" filter="url(#bs)"/><circle cx="447.97" cy="64.80" r="0.80" fill="rgb(233,233,233)" filter="url(#bs)"/><circle cx="360.27" cy="74.20" r="0.80" fill="rgb(220,220,220)" filter="url(#bs)"/><circle cx="369.04" cy="74.20" r="0.80" fill="rgb(222,222,222)" filter="url(#bs)"/><circle cx="377.81" cy="74.20" r="0.80" fill="rgb(231,231,231)" filter="url(#bs)"/><circle cx="386.58" cy="74.20" r="0.80" fill="rgb(239,239,239)" filter="url(#bs)"/><circle cx="395.35" cy="74.20" r="0.80" fill="rgb(220,220,220)" filter="url(#bs)"/><circle cx="404.12" cy="74.20" r="0.80" fill="rgb(230,230,230)" filter="url(#bs)"/><circle cx="412.89" cy="74.20" r="0.80" fill="rgb(221,221,221)" filter="url(#bs)"/><circle cx="421.66" cy="74.20" r="0.80" fill="rgb(222,222,222)" filter="url(#bs)"/><circle cx="430.43" cy="74.20" r="3.40" fill="#000" opacity="0.14" filter="url(#bl)"/><circle cx="430.43" cy="74.20" r="1.70" fill="rgb(0,0,0)" filter="url(#bs)"/><circle cx="439.20" cy="74.20" r="0.80" fill="rgb(232,232,232)" filter="url(#bs)"/><circle cx="447.97" cy="74.20" r="0.80" fill="rgb(235,235,235)" filter="url(#bs)"/><circle cx="351.50" cy="83.70" r="1.80" fill="#000" opacity="0.08" filter="url(#bl)"/><circle cx="351.50" cy="83.70" r="0.90" fill="rgb(111,111,111)" filter="url(#bs)"/><circle cx="360.27" cy="83.70" r="0.80" fill="rgb(230,230,230)" filter="url(#bs)"/><circle cx="369.04" cy="83.70" r="0.80" fill="rgb(235,235,235)" filter="url(#bs)"/><circle cx="386.58" cy="83.70" r="0.80" fill="rgb(238,238,238)" filter="url(#bs)"/><circle cx="395.35" cy="83.70" r="0.80" fill="rgb(223,223,223)" filter="url(#bs)"/><circle cx="412.89" cy="83.70" r="0.90" fill="rgb(173,173,173)" filter="url(#bs)"/><circle cx="430.43" cy="83.70" r="0.80" fill="rgb(229,229,229)" filter="url(#bs)"/><circle cx="439.20" cy="83.70" r="0.90" fill="rgb(210,210,210)" filter="url(#bs)"/><circle cx="447.97" cy="83.70" r="0.80" fill="rgb(239,239,239)" filter="url(#bs)"/><circle cx="351.50" cy="93.00" r="1.80" fill="#000" opacity="0.08" filter="url(#bl)"/><circle cx="351.50" cy="93.00" r="0.90" fill="rgb(111,111,111)" filter="url(#bs)"/><circle cx="360.27" cy="93.00" r="0.80" fill="rgb(232,232,232)" filter="url(#bs)"/><circle cx="369.04" cy="93.00" r="0.80" fill="rgb(233,233,233)" filter="url(#bs)"/><circle cx="377.81" cy="93.00" r="0.80" fill="rgb(237,237,237)" filter="url(#bs)"/><circle cx="386.58" cy="93.00" r="0.80" fill="rgb(218,218,218)" filter="url(#bs)"/><circle cx="404.12" cy="93.00" r="0.80" fill="rgb(235,235,235)" filter="url(#bs)"/><circle cx="412.89" cy="93.00" r="0.90" fill="rgb(173,173,173)" filter="url(#bs)"/><circle cx="430.43" cy="93.00" r="0.80" fill="rgb(229,229,229)" filter="url(#bs)"/><circle cx="439.20" cy="93.00" r="0.90" fill="rgb(210,210,210)" filter="url(#bs)"/><circle cx="447.97" cy="93.00" r="0.80" fill="rgb(239,239,239)" filter="url(#bs)"/><circle cx="351.50" cy="102.50" r="0.80" fill="rgb(203,203,203)" filter="url(#bs)"/><circle cx="360.27" cy="102.50" r="0.80" fill="rgb(210,210,210)" filter="url(#bs)"/><circle cx="369.04" cy="102.50" r="0.80" fill="rgb(229,229,229)" filter="url(#bs)"/><circle cx="377.81" cy="102.50" r="0.80" fill="rgb(224,224,224)" filter="url(#bs)"/><circle cx="386.58" cy="102.50" r="0.80" fill="rgb(208,208,208)" filter="url(#bs)"/><circle cx="395.35" cy="102.50" r="0.80" fill="rgb(219,219,219)" filter="url(#bs)"/><circle cx="404.12" cy="102.50" r="0.80" fill="rgb(214,214,214)" filter="url(#bs)"/><circle cx="412.89" cy="102.50" r="0.80" fill="rgb(205,205,205)" filter="url(#bs)"/><circle cx="421.66" cy="102.50" r="0.80" fill="rgb(195,195,195)" filter="url(#bs)"/><circle cx="430.43" cy="102.50" r="0.80" fill="rgb(195,195,195)" filter="url(#bs)"/><circle cx="439.20" cy="102.50" r="0.80" fill="rgb(221,221,221)" filter="url(#bs)"/><circle cx="447.97" cy="102.50" r="2.40" fill="#000" opacity="0.13" filter="url(#bl)"/><circle cx="447.97" cy="102.50" r="1.20" fill="rgb(12,12,12)" filter="url(#bs)"/><circle cx="351.50" cy="112.50" r="0.80" fill="rgb(202,202,202)" filter="url(#bs)"/><circle cx="360.27" cy="112.50" r="0.80" fill="rgb(195,195,195)" filter="url(#bs)"/><circle cx="369.04" cy="112.50" r="0.80" fill="rgb(200,200,200)" filter="url(#bs)"/><circle cx="377.81" cy="112.50" r="0.80" fill="rgb(225,225,225)" filter="url(#bs)"/><circle cx="386.58" cy="112.50" r="0.80" fill="rgb(227,227,227)" filter="url(#bs)"/><circle cx="395.35" cy="112.50" r="0.80" fill="rgb(194,194,194)" filter="url(#bs)"/><circle cx="404.12" cy="112.50" r="0.80" fill="rgb(232,232,232)" filter="url(#bs)"/><circle cx="412.89" cy="112.50" r="0.80" fill="rgb(226,226,226)" filter="url(#bs)"/><circle cx="421.66" cy="112.50" r="0.80" fill="rgb(218,218,218)" filter="url(#bs)"/><circle cx="430.43" cy="112.50" r="0.80" fill="rgb(229,229,229)" filter="url(#bs)"/><circle cx="439.20" cy="112.50" r="0.80" fill="rgb(216,216,216)" filter="url(#bs)"/><circle cx="447.97" cy="112.50" r="2.40" fill="#000" opacity="0.13" filter="url(#bl)"/><circle cx="447.97" cy="112.50" r="1.20" fill="rgb(12,12,12)" filter="url(#bs)"/><rect x="399.95" y="42.45" width="7.10" height="16.50" fill="none" stroke="#b7414f" stroke-width="0.9"/><rect x="382.15" y="61.25" width="7.20" height="16.60" fill="none" stroke="#b7414f" stroke-width="0.9"/><rect x="426.05" y="61.25" width="7.20" height="16.60" fill="none" stroke="#b7414f" stroke-width="0.9"/><rect x="348.75" y="79.25" width="7.20" height="16.10" fill="none" stroke="#b7414f" stroke-width="0.9"/><rect x="409.05" y="79.25" width="7.20" height="16.10" fill="none" stroke="#b7414f" stroke-width="0.9"/><rect x="434.95" y="79.25" width="7.10" height="16.10" fill="none" stroke="#b7414f" stroke-width="0.9"/><rect x="357.15" y="98.95" width="7.10" height="16.00" fill="none" stroke="#b7414f" stroke-width="0.9"/><text x="282.70" y="40.10" font-size="4.7" text-anchor="middle" fill="#231f20" >CSF2</text><text x="264.50" y="58.50" font-size="4.7" text-anchor="middle" fill="#231f20" >IL6</text><text x="309.50" y="58.50" font-size="4.7" text-anchor="middle" fill="#231f20" >IL13</text><text x="227.70" y="76.50" font-size="4.7" text-anchor="middle" fill="#231f20" >CCL2</text><text x="291.20" y="76.50" font-size="4.7" text-anchor="middle" fill="#231f20" >CCL5</text><text x="321.60" y="76.50" font-size="4.7" text-anchor="middle" fill="#231f20" >CCL17</text><text x="237.00" y="95.20" font-size="4.7" text-anchor="middle" fill="#231f20" >LTA</text><text x="171.80" y="153.80" font-size="11" text-anchor="start" fill="#231f20" >C</text><line x1="210.4" y1="160" x2="210.4" y2="272.0" stroke="#231f20" stroke-width="0.9"/><line x1="207.6" y1="272.00" x2="210.4" y2="272.00" stroke="#231f20" stroke-width="0.8"/><text x="205.30" y="274.20" font-size="6.3" text-anchor="end" fill="#231f20" >0.0</text><line x1="207.6" y1="253.88" x2="210.4" y2="253.88" stroke="#231f20" stroke-width="0.8"/><text x="205.30" y="256.08" font-size="6.3" text-anchor="end" fill="#231f20" >0.2</text><line x1="207.6" y1="235.76" x2="210.4" y2="235.76" stroke="#231f20" stroke-width="0.8"/><text x="205.30" y="237.96" font-size="6.3" text-anchor="end" fill="#231f20" >0.4</text><line x1="207.6" y1="217.64" x2="210.4" y2="217.64" stroke="#231f20" stroke-width="0.8"/><text x="205.30" y="219.84" font-size="6.3" text-anchor="end" fill="#231f20" >0.6</text><line x1="207.6" y1="199.52" x2="210.4" y2="199.52" stroke="#231f20" stroke-width="0.8"/><text x="205.30" y="201.72" font-size="6.3" text-anchor="end" fill="#231f20" >0.8</text><line x1="207.6" y1="181.40" x2="210.4" y2="181.40" stroke="#231f20" stroke-width="0.8"/><text x="205.30" y="183.60" font-size="6.3" text-anchor="end" fill="#231f20" >1.0</text><line x1="207.6" y1="163.28" x2="210.4" y2="163.28" stroke="#231f20" stroke-width="0.8"/><text x="205.30" y="165.48" font-size="6.3" text-anchor="end" fill="#231f20" >1.2</text><rect x="213.80" y="181.40" width="4.75" height="90.60" fill="#a4243b"/><path d="M216.18 175.96V186.84M214.98 175.96h2.4M214.98 186.84h2.4" stroke="#231f20" stroke-width="0.6" fill="none"/><rect x="218.55" y="271.55" width="4.75" height="0.45" fill="#3e5f8b"/><text x="225.68" y="281.20" font-size="5.6" text-anchor="middle" fill="#231f20" >CD40</text><rect x="243.80" y="181.40" width="4.75" height="90.60" fill="#a4243b"/><path d="M246.18 174.15V188.65M244.98 174.15h2.4M244.98 188.65h2.4" stroke="#231f20" stroke-width="0.6" fill="none"/><rect x="248.55" y="267.92" width="4.75" height="4.08" fill="#3e5f8b"/><path d="M250.93 267.20V268.65M249.73 267.20h2.4M249.73 268.65h2.4" stroke="#231f20" stroke-width="0.6" fill="none"/><rect x="253.30" y="270.91" width="4.75" height="1.09" fill="#7aae4c"/><path d="M255.68 270.55V271.28M254.48 270.55h2.4M254.48 271.28h2.4" stroke="#231f20" stroke-width="0.6" fill="none"/><rect x="258.05" y="270.55" width="4.75" height="1.45" fill="#6b3f6d"/><path d="M260.43 270.19V270.91M259.23 270.19h2.4M259.23 270.91h2.4" stroke="#231f20" stroke-width="0.6" fill="none"/><rect x="262.80" y="270.91" width="4.75" height="1.09" fill="#e59d38"/><path d="M265.18 270.55V271.28M263.98 270.55h2.4M263.98 271.28h2.4" stroke="#231f20" stroke-width="0.6" fill="none"/><text x="255.68" y="281.20" font-size="5.6" text-anchor="middle" fill="#231f20" >CD80</text><rect x="273.80" y="181.40" width="4.75" height="90.60" fill="#a4243b"/><path d="M276.18 175.06V187.74M274.98 175.06h2.4M274.98 187.74h2.4" stroke="#231f20" stroke-width="0.6" fill="none"/><rect x="278.55" y="271.64" width="4.75" height="0.36" fill="#3e5f8b"/><text x="285.68" y="281.20" font-size="5.6" text-anchor="middle" fill="#231f20" >CD44</text><rect x="303.80" y="181.40" width="4.75" height="90.60" fill="#a4243b"/><path d="M306.18 174.61V188.19M304.98 174.61h2.4M304.98 188.19h2.4" stroke="#231f20" stroke-width="0.6" fill="none"/><rect x="308.55" y="258.41" width="4.75" height="13.59" fill="#3e5f8b"/><path d="M310.93 257.05V259.77M309.73 257.05h2.4M309.73 259.77h2.4" stroke="#231f20" stroke-width="0.6" fill="none"/><rect x="313.30" y="256.60" width="4.75" height="15.40" fill="#7aae4c"/><path d="M315.68 255.51V257.69M314.48 255.51h2.4M314.48 257.69h2.4" stroke="#231f20" stroke-width="0.6" fill="none"/><rect x="318.05" y="264.30" width="4.75" height="7.70" fill="#6b3f6d"/><path d="M320.43 263.21V265.39M319.23 263.21h2.4M319.23 265.39h2.4" stroke="#231f20" stroke-width="0.6" fill="none"/><rect x="322.80" y="252.07" width="4.75" height="19.93" fill="#e59d38"/><path d="M325.18 251.16V252.97M323.98 251.16h2.4M323.98 252.97h2.4" stroke="#231f20" stroke-width="0.6" fill="none"/><text x="315.68" y="281.20" font-size="5.6" text-anchor="middle" fill="#231f20" >CCR4</text><rect x="333.80" y="181.40" width="4.75" height="90.60" fill="#a4243b"/><path d="M336.18 175.51V187.29M334.98 175.51h2.4M334.98 187.29h2.4" stroke="#231f20" stroke-width="0.6" fill="none"/><rect x="338.55" y="215.38" width="4.75" height="56.62" fill="#3e5f8b"/><path d="M340.93 210.39V220.36M339.73 210.39h2.4M339.73 220.36h2.4" stroke="#231f20" stroke-width="0.6" fill="none"/><rect x="343.30" y="233.50" width="4.75" height="38.50" fill="#7aae4c"/><path d="M345.68 231.68V235.31M344.48 231.68h2.4M344.48 235.31h2.4" stroke="#231f20" stroke-width="0.6" fill="none"/><rect x="348.05" y="194.99" width="4.75" height="77.01" fill="#6b3f6d"/><path d="M350.43 191.82V198.16M349.23 191.82h2.4M349.23 198.16h2.4" stroke="#231f20" stroke-width="0.6" fill="none"/><rect x="352.80" y="241.65" width="4.75" height="30.35" fill="#e59d38"/><path d="M355.18 239.84V243.46M353.98 239.84h2.4M353.98 243.46h2.4" stroke="#231f20" stroke-width="0.6" fill="none"/><text x="345.68" y="281.20" font-size="5.6" text-anchor="middle" fill="#231f20" >ICAM1</text><rect x="363.80" y="181.40" width="4.75" height="90.60" fill="#a4243b"/><path d="M366.18 175.96V186.84M364.98 175.96h2.4M364.98 186.84h2.4" stroke="#231f20" stroke-width="0.6" fill="none"/><rect x="368.55" y="267.92" width="4.75" height="4.08" fill="#3e5f8b"/><path d="M370.93 267.38V268.47M369.73 267.38h2.4M369.73 268.47h2.4" stroke="#231f20" stroke-width="0.6" fill="none"/><rect x="373.30" y="271.09" width="4.75" height="0.91" fill="#7aae4c"/><path d="M375.68 270.82V271.37M374.48 270.82h2.4M374.48 271.37h2.4" stroke="#231f20" stroke-width="0.6" fill="none"/><rect x="378.05" y="271.46" width="4.75" height="0.54" fill="#6b3f6d"/><path d="M380.43 271.18V271.73M379.23 271.18h2.4M379.23 271.73h2.4" stroke="#231f20" stroke-width="0.6" fill="none"/><text x="375.68" y="281.20" font-size="5.6" text-anchor="middle" fill="#231f20" >VCAM1</text><rect x="393.80" y="181.40" width="4.75" height="90.60" fill="#a4243b"/><path d="M396.18 175.51V187.29M394.98 175.51h2.4M394.98 187.29h2.4" stroke="#231f20" stroke-width="0.6" fill="none"/><rect x="398.55" y="271.64" width="4.75" height="0.36" fill="#3e5f8b"/><text x="405.68" y="281.20" font-size="5.6" text-anchor="middle" fill="#231f20" >IL13RA1</text><rect x="423.80" y="181.40" width="4.75" height="90.60" fill="#a4243b"/><path d="M426.18 175.06V187.74M424.98 175.06h2.4M424.98 187.74h2.4" stroke="#231f20" stroke-width="0.6" fill="none"/><rect x="428.55" y="214.92" width="4.75" height="57.08" fill="#3e5f8b"/><path d="M430.93 210.39V219.45M429.73 210.39h2.4M429.73 219.45h2.4" stroke="#231f20" stroke-width="0.6" fill="none"/><rect x="433.30" y="207.22" width="4.75" height="64.78" fill="#7aae4c"/><path d="M435.68 201.79V212.66M434.48 201.79h2.4M434.48 212.66h2.4" stroke="#231f20" stroke-width="0.6" fill="none"/><rect x="438.05" y="228.51" width="4.75" height="43.49" fill="#6b3f6d"/><path d="M440.43 227.15V229.87M439.23 227.15h2.4M439.23 229.87h2.4" stroke="#231f20" stroke-width="0.6" fill="none"/><rect x="442.80" y="214.02" width="4.75" height="57.98" fill="#e59d38"/><path d="M445.18 211.30V216.73M443.98 211.30h2.4M443.98 216.73h2.4" stroke="#231f20" stroke-width="0.6" fill="none"/><text x="435.68" y="281.20" font-size="5.6" text-anchor="middle" fill="#231f20" >IL4R</text><rect x="453.80" y="181.40" width="4.75" height="90.60" fill="#a4243b"/><path d="M456.18 175.51V187.29M454.98 175.51h2.4M454.98 187.29h2.4" stroke="#231f20" stroke-width="0.6" fill="none"/><rect x="458.55" y="230.78" width="4.75" height="41.22" fill="#3e5f8b"/><path d="M460.93 226.25V235.31M459.73 226.25h2.4M459.73 235.31h2.4" stroke="#231f20" stroke-width="0.6" fill="none"/><rect x="463.30" y="223.08" width="4.75" height="48.92" fill="#7aae4c"/><path d="M465.68 220.36V225.79M464.48 220.36h2.4M464.48 225.79h2.4" stroke="#231f20" stroke-width="0.6" fill="none"/><rect x="468.05" y="233.04" width="4.75" height="38.96" fill="#6b3f6d"/><path d="M470.43 231.23V234.85M469.23 231.23h2.4M469.23 234.85h2.4" stroke="#231f20" stroke-width="0.6" fill="none"/><rect x="472.80" y="250.71" width="4.75" height="21.29" fill="#e59d38"/><path d="M475.18 248.90V252.52M473.98 248.90h2.4M473.98 252.52h2.4" stroke="#231f20" stroke-width="0.6" fill="none"/><text x="465.68" y="281.20" font-size="5.6" text-anchor="middle" fill="#231f20" >CD274</text><rect x="483.80" y="181.40" width="4.75" height="90.60" fill="#a4243b"/><path d="M486.18 174.15V188.65M484.98 174.15h2.4M484.98 188.65h2.4" stroke="#231f20" stroke-width="0.6" fill="none"/><rect x="488.55" y="257.50" width="4.75" height="14.50" fill="#3e5f8b"/><path d="M490.93 256.14V258.86M489.73 256.14h2.4M489.73 258.86h2.4" stroke="#231f20" stroke-width="0.6" fill="none"/><rect x="493.30" y="252.07" width="4.75" height="19.93" fill="#7aae4c"/><path d="M495.68 251.34V252.79M494.48 251.34h2.4M494.48 252.79h2.4" stroke="#231f20" stroke-width="0.6" fill="none"/><rect x="498.05" y="251.62" width="4.75" height="20.38" fill="#6b3f6d"/><path d="M500.43 251.07V252.16M499.23 251.07h2.4M499.23 252.16h2.4" stroke="#231f20" stroke-width="0.6" fill="none"/><rect x="502.80" y="260.22" width="4.75" height="11.78" fill="#e59d38"/><path d="M505.18 259.13V261.31M503.98 259.13h2.4M503.98 261.31h2.4" stroke="#231f20" stroke-width="0.6" fill="none"/><text x="495.68" y="281.20" font-size="5.6" text-anchor="middle" fill="#231f20" >PDCD1LG2</text><line x1="210.4" y1="272.0" x2="512.6" y2="272.0" stroke="#231f20" stroke-width="0.9"/><text transform="translate(189.80,215.70) rotate(-90)" font-size="8.0" text-anchor="middle" fill="#231f20" >Relative normalized expression</text><rect x="300.00" y="290.5" width="3" height="3" fill="#a4243b"/><text x="306.20" y="293.80" font-size="4.8" text-anchor="start" fill="#231f20" >v2</text><rect x="319.50" y="290.5" width="3" height="3" fill="#3e5f8b"/><text x="325.70" y="293.80" font-size="4.8" text-anchor="start" fill="#231f20" >g2_1</text><rect x="346.30" y="290.5" width="3" height="3" fill="#7aae4c"/><text x="352.50" y="293.80" font-size="4.8" text-anchor="start" fill="#231f20" >g2_2</text><rect x="372.50" y="290.5" width="3" height="3" fill="#6b3f6d"/><text x="378.70" y="293.80" font-size="4.8" text-anchor="start" fill="#231f20" >g3_3</text><rect x="399.50" y="290.5" width="3" height="3" fill="#e59d38"/><text x="405.70" y="293.80" font-size="4.8" text-anchor="start" fill="#231f20" >g3_4</text><text x="7.80" y="319.00" font-size="11" text-anchor="start" fill="#231f20" >D</text><clipPath id="hclip0"><rect x="48.0" y="325.0" width="65.5" height="64.30000000000001"/></clipPath><g clip-path="url(#hclip0)"><path d="M50.0 389.30 L50.5 389.30 L51.0 389.30 L51.5 389.30 L52.0 389.30 L52.5 389.30 L53.0 389.30 L53.5 389.30 L54.0 389.30 L54.5 389.30 L55.0 389.30 L55.5 389.29 L56.0 389.29 L56.5 389.28 L57.0 389.27 L57.5 389.24 L58.0 389.20 L58.5 389.14 L59.0 389.04 L59.5 388.88 L60.0 388.65 L60.5 388.32 L61.0 387.83 L61.5 387.16 L62.0 386.25 L62.5 385.02 L63.0 383.43 L63.5 381.41 L64.0 378.91 L64.5 375.89 L65.0 372.34 L65.5 368.29 L66.0 363.79 L66.5 358.96 L67.0 353.94 L67.5 348.92 L68.0 344.13 L68.5 339.78 L69.0 336.12 L69.5 333.33 L70.0 331.59 L70.5 331.00 L71.0 332.15 L71.5 335.48 L72.0 340.60 L72.5 346.97 L73.0 353.94 L73.5 360.92 L74.0 367.42 L74.5 373.09 L75.0 377.76 L75.5 381.41 L76.0 384.12 L76.5 386.03 L77.0 387.32 L77.5 388.14 L78.0 388.65 L78.5 388.95 L79.0 389.12 L79.5 389.21 L80.0 389.26 L80.5 389.28 L81.0 389.29 L81.5 389.30 L82.0 389.30 L82.5 389.30 L83.0 389.30 L83.5 389.30 L84.0 389.30 L84.5 389.30 L85.0 389.30 L85.5 389.30 L86.0 389.30 L86.5 389.30 L87.0 389.30 L87.5 389.30 L88.0 389.30 L88.5 389.30 L89.0 389.30 L89.5 389.30 L90.0 389.30 L90.5 389.30 L91.0 389.30 L91.5 389.30 L92.0 389.30 L92.5 389.30 L93.0 389.30 L93.5 389.30 L94.0 389.30 L94.5 389.30 L95.0 389.30 L95.5 389.30 L96.0 389.30 L96.5 389.30 L97.0 389.30 L97.5 389.30 L98.0 389.30 L98.5 389.30 L99.0 389.30 L99.5 389.30 L100.0 389.30 L100.5 389.30 L101.0 389.30 L101.5 389.30 L102.0 389.30 L102.5 389.30 L103.0 389.30 L103.5 389.30 L104.0 389.30 L104.5 389.30 L105.0 389.30 L105.5 389.30 L106.0 389.30 L106.5 389.30 L107.0 389.30 L107.5 389.30 L108.0 389.30 L108.5 389.30 L109.0 389.30 L109.5 389.30 L110.0 389.30 L110.5 389.30 L111.0 389.30 L111.5 389.30 L112.0 389.30 L112 389.3 L50 389.3 Z" fill="#d2c0d2" stroke="#6a3b6d" stroke-width="0.75"/><path d="M50.0 389.30 L50.5 389.30 L51.0 389.30 L51.5 389.30 L52.0 389.30 L52.5 389.30 L53.0 389.30 L53.5 389.30 L54.0 389.30 L54.5 389.30 L55.0 389.30 L55.5 389.30 L56.0 389.30 L56.5 389.30 L57.0 389.30 L57.5 389.30 L58.0 389.30 L58.5 389.30 L59.0 389.30 L59.5 389.30 L60.0 389.29 L60.5 389.29 L61.0 389.29 L61.5 389.28 L62.0 389.27 L62.5 389.26 L63.0 389.24 L63.5 389.21 L64.0 389.18 L64.5 389.13 L65.0 389.06 L65.5 388.97 L66.0 388.85 L66.5 388.69 L67.0 388.49 L67.5 388.23 L68.0 387.90 L68.5 387.48 L69.0 386.96 L69.5 386.34 L70.0 385.58 L70.5 384.67 L71.0 383.61 L71.5 382.37 L72.0 380.95 L72.5 379.34 L73.0 377.55 L73.5 375.57 L74.0 373.44 L74.5 371.16 L75.0 368.76 L75.5 366.29 L76.0 363.80 L76.5 361.32 L77.0 358.92 L77.5 356.66 L78.0 354.59 L78.5 352.77 L79.0 351.26 L79.5 350.09 L80.0 349.31 L80.5 348.93 L81.0 349.02 L81.5 349.74 L82.0 351.08 L82.5 352.98 L83.0 355.35 L83.5 358.08 L84.0 361.06 L84.5 364.17 L85.0 367.30 L85.5 370.36 L86.0 373.25 L86.5 375.93 L87.0 378.34 L87.5 380.46 L88.0 382.29 L88.5 383.83 L89.0 385.10 L89.5 386.13 L90.0 386.95 L90.5 387.58 L91.0 388.06 L91.5 388.43 L92.0 388.69 L92.5 388.88 L93.0 389.02 L93.5 389.11 L94.0 389.18 L94.5 389.22 L95.0 389.25 L95.5 389.27 L96.0 389.28 L96.5 389.29 L97.0 389.29 L97.5 389.30 L98.0 389.30 L98.5 389.30 L99.0 389.30 L99.5 389.30 L100.0 389.30 L100.5 389.30 L101.0 389.30 L101.5 389.30 L102.0 389.30 L102.5 389.30 L103.0 389.30 L103.5 389.30 L104.0 389.30 L104.5 389.30 L105.0 389.30 L105.5 389.30 L106.0 389.30 L106.5 389.30 L107.0 389.30 L107.5 389.30 L108.0 389.30 L108.5 389.30 L109.0 389.30 L109.5 389.30 L110.0 389.30 L110.5 389.30 L111.0 389.30 L111.5 389.30 L112.0 389.30" fill="none" stroke="#5fae4a" stroke-width="0.8"/><path d="M50.0 389.30 L50.5 389.30 L51.0 389.30 L51.5 389.30 L52.0 389.30 L52.5 389.30 L53.0 389.30 L53.5 389.30 L54.0 389.30 L54.5 389.30 L55.0 389.30 L55.5 389.30 L56.0 389.30 L56.5 389.30 L57.0 389.30 L57.5 389.30 L58.0 389.30 L58.5 389.30 L59.0 389.30 L59.5 389.30 L60.0 389.29 L60.5 389.29 L61.0 389.29 L61.5 389.28 L62.0 389.27 L62.5 389.26 L63.0 389.24 L63.5 389.22 L64.0 389.19 L64.5 389.14 L65.0 389.09 L65.5 389.02 L66.0 388.92 L66.5 388.81 L67.0 388.66 L67.5 388.47 L68.0 388.23 L68.5 387.94 L69.0 387.58 L69.5 387.15 L70.0 386.63 L70.5 386.02 L71.0 385.30 L71.5 384.47 L72.0 383.51 L72.5 382.42 L73.0 381.20 L73.5 379.84 L74.0 378.34 L74.5 376.72 L75.0 374.98 L75.5 373.14 L76.0 371.22 L76.5 369.25 L77.0 367.25 L77.5 365.25 L78.0 363.30 L78.5 361.43 L79.0 359.68 L79.5 358.09 L80.0 356.70 L80.5 355.53 L81.0 354.62 L81.5 353.99 L82.0 353.66 L82.5 353.64 L83.0 354.12 L83.5 355.10 L84.0 356.54 L84.5 358.39 L85.0 360.56 L85.5 362.97 L86.0 365.54 L86.5 368.17 L87.0 370.79 L87.5 373.33 L88.0 375.72 L88.5 377.92 L89.0 379.91 L89.5 381.66 L90.0 383.18 L90.5 384.47 L91.0 385.54 L91.5 386.42 L92.0 387.13 L92.5 387.68 L93.0 388.12 L93.5 388.44 L94.0 388.69 L94.5 388.87 L95.0 389.01 L95.5 389.10 L96.0 389.17 L96.5 389.21 L97.0 389.24 L97.5 389.26 L98.0 389.28 L98.5 389.29 L99.0 389.29 L99.5 389.29 L100.0 389.30 L100.5 389.30 L101.0 389.30 L101.5 389.30 L102.0 389.30 L102.5 389.30 L103.0 389.30 L103.5 389.30 L104.0 389.30 L104.5 389.30 L105.0 389.30 L105.5 389.30 L106.0 389.30 L106.5 389.30 L107.0 389.30 L107.5 389.30 L108.0 389.30 L108.5 389.30 L109.0 389.30 L109.5 389.30 L110.0 389.30 L110.5 389.30 L111.0 389.30 L111.5 389.30 L112.0 389.30" fill="none" stroke="#3a5ea0" stroke-width="0.8"/><path d="M50.0 389.30 L50.5 389.30 L51.0 389.30 L51.5 389.30 L52.0 389.30 L52.5 389.30 L53.0 389.30 L53.5 389.30 L54.0 389.30 L54.5 389.30 L55.0 389.30 L55.5 389.30 L56.0 389.30 L56.5 389.30 L57.0 389.30 L57.5 389.30 L58.0 389.30 L58.5 389.30 L59.0 389.30 L59.5 389.30 L60.0 389.30 L60.5 389.30 L61.0 389.30 L61.5 389.30 L62.0 389.30 L62.5 389.30 L63.0 389.30 L63.5 389.30 L64.0 389.30 L64.5 389.30 L65.0 389.30 L65.5 389.30 L66.0 389.30 L66.5 389.30 L67.0 389.30 L67.5 389.30 L68.0 389.30 L68.5 389.30 L69.0 389.30 L69.5 389.29 L70.0 389.29 L70.5 389.28 L71.0 389.27 L71.5 389.25 L72.0 389.22 L72.5 389.17 L73.0 389.10 L73.5 389.00 L74.0 388.85 L74.5 388.65 L75.0 388.39 L75.5 388.04 L76.0 387.60 L76.5 387.05 L77.0 386.38 L77.5 385.59 L78.0 384.67 L78.5 383.63 L79.0 382.46 L79.5 381.18 L80.0 379.79 L80.5 378.30 L81.0 376.71 L81.5 375.01 L82.0 373.21 L82.5 371.30 L83.0 369.29 L83.5 367.17 L84.0 364.97 L84.5 362.71 L85.0 360.43 L85.5 358.18 L86.0 356.03 L86.5 354.03 L87.0 352.27 L87.5 350.79 L88.0 349.68 L88.5 348.97 L89.0 348.70 L89.5 349.01 L90.0 350.15 L90.5 352.07 L91.0 354.64 L91.5 357.72 L92.0 361.15 L92.5 364.73 L93.0 368.32 L93.5 371.77 L94.0 374.96 L94.5 377.83 L95.0 380.31 L95.5 382.41 L96.0 384.13 L96.5 385.51 L97.0 386.58 L97.5 387.39 L98.0 387.98 L98.5 388.41 L99.0 388.72 L99.5 388.92 L100.0 389.06 L100.5 389.15 L101.0 389.21 L101.5 389.25 L102.0 389.27 L102.5 389.28 L103.0 389.29 L103.5 389.29 L104.0 389.30 L104.5 389.30 L105.0 389.30 L105.5 389.30 L106.0 389.30 L106.5 389.30 L107.0 389.30 L107.5 389.30 L108.0 389.30 L108.5 389.30 L109.0 389.30 L109.5 389.30 L110.0 389.30 L110.5 389.30 L111.0 389.30 L111.5 389.30 L112.0 389.30" fill="none" stroke="#c23a4a" stroke-width="0.8"/></g><rect x="48.55" y="325.55" width="64.40" height="63.40" fill="none" stroke="#231f20" stroke-width="1.1"/><line x1="45.3" y1="339.2" x2="48.0" y2="339.2" stroke="#231f20" stroke-width="0.7"/><text x="44.20" y="341.20" font-size="5.6" text-anchor="end" fill="#231f20" >1,5K</text><line x1="45.3" y1="355.4" x2="48.0" y2="355.4" stroke="#231f20" stroke-width="0.7"/><text x="44.20" y="357.40" font-size="5.6" text-anchor="end" fill="#231f20" >1,0K</text><line x1="45.3" y1="372.7" x2="48.0" y2="372.7" stroke="#231f20" stroke-width="0.7"/><text x="44.20" y="374.70" font-size="5.6" text-anchor="end" fill="#231f20" >500</text><line x1="45.3" y1="389.3" x2="48.0" y2="389.3" stroke="#231f20" stroke-width="0.7"/><text x="44.20" y="391.30" font-size="5.6" text-anchor="end" fill="#231f20" >0</text><line x1="46.8" y1="389.30" x2="48.0" y2="389.30" stroke="#231f20" stroke-width="0.5"/><line x1="46.8" y1="385.98" x2="48.0" y2="385.98" stroke="#231f20" stroke-width="0.5"/><line x1="46.8" y1="382.66" x2="48.0" y2="382.66" stroke="#231f20" stroke-width="0.5"/><line x1="46.8" y1="379.34" x2="48.0" y2="379.34" stroke="#231f20" stroke-width="0.5"/><line x1="46.8" y1="376.02" x2="48.0" y2="376.02" stroke="#231f20" stroke-width="0.5"/><line x1="46.8" y1="372.70" x2="48.0" y2="372.70" stroke="#231f20" stroke-width="0.5"/><line x1="46.8" y1="369.38" x2="48.0" y2="369.38" stroke="#231f20" stroke-width="0.5"/><line x1="46.8" y1="366.06" x2="48.0" y2="366.06" stroke="#231f20" stroke-width="0.5"/><line x1="46.8" y1="362.74" x2="48.0" y2="362.74" stroke="#231f20" stroke-width="0.5"/><line x1="46.8" y1="359.42" x2="48.0" y2="359.42" stroke="#231f20" stroke-width="0.5"/><line x1="46.8" y1="356.10" x2="48.0" y2="356.10" stroke="#231f20" stroke-width="0.5"/><line x1="46.8" y1="352.78" x2="48.0" y2="352.78" stroke="#231f20" stroke-width="0.5"/><line x1="46.8" y1="349.46" x2="48.0" y2="349.46" stroke="#231f20" stroke-width="0.5"/><line x1="46.8" y1="346.14" x2="48.0" y2="346.14" stroke="#231f20" stroke-width="0.5"/><line x1="46.8" y1="342.82" x2="48.0" y2="342.82" stroke="#231f20" stroke-width="0.5"/><line x1="46.8" y1="339.50" x2="48.0" y2="339.50" stroke="#231f20" stroke-width="0.5"/><line x1="46.8" y1="336.18" x2="48.0" y2="336.18" stroke="#231f20" stroke-width="0.5"/><line x1="46.8" y1="332.86" x2="48.0" y2="332.86" stroke="#231f20" stroke-width="0.5"/><line x1="46.8" y1="329.54" x2="48.0" y2="329.54" stroke="#231f20" stroke-width="0.5"/><line x1="46.8" y1="326.22" x2="48.0" y2="326.22" stroke="#231f20" stroke-width="0.5"/><line x1="50.29" y1="388.5" x2="50.29" y2="390.10" stroke="#231f20" stroke-width="0.5"/><line x1="51.53" y1="388.5" x2="51.53" y2="390.10" stroke="#231f20" stroke-width="0.5"/><line x1="52.55" y1="388.5" x2="52.55" y2="390.10" stroke="#231f20" stroke-width="0.5"/><line x1="53.41" y1="388.5" x2="53.41" y2="390.10" stroke="#231f20" stroke-width="0.5"/><line x1="54.15" y1="388.5" x2="54.15" y2="390.10" stroke="#231f20" stroke-width="0.5"/><line x1="54.81" y1="388.5" x2="54.81" y2="390.10" stroke="#231f20" stroke-width="0.5"/><line x1="55.40" y1="388.5" x2="55.40" y2="391.10" stroke="#231f20" stroke-width="0.5"/><line x1="59.27" y1="388.5" x2="59.27" y2="390.10" stroke="#231f20" stroke-width="0.5"/><line x1="61.53" y1="388.5" x2="61.53" y2="390.10" stroke="#231f20" stroke-width="0.5"/><line x1="63.14" y1="388.5" x2="63.14" y2="390.10" stroke="#231f20" stroke-width="0.5"/><line x1="64.38" y1="388.5" x2="64.38" y2="390.10" stroke="#231f20" stroke-width="0.5"/><line x1="65.40" y1="388.5" x2="65.40" y2="390.10" stroke="#231f20" stroke-width="0.5"/><line x1="66.26" y1="388.5" x2="66.26" y2="390.10" stroke="#231f20" stroke-width="0.5"/><line x1="67.00" y1="388.5" x2="67.00" y2="390.10" stroke="#231f20" stroke-width="0.5"/><line x1="67.66" y1="388.5" x2="67.66" y2="390.10" stroke="#231f20" stroke-width="0.5"/><line x1="68.25" y1="388.5" x2="68.25" y2="391.10" stroke="#231f20" stroke-width="0.5"/><line x1="72.12" y1="388.5" x2="72.12" y2="390.10" stroke="#231f20" stroke-width="0.5"/><line x1="74.38" y1="388.5" x2="74.38" y2="390.10" stroke="#231f20" stroke-width="0.5"/><line x1="75.99" y1="388.5" x2="75.99" y2="390.10" stroke="#231f20" stroke-width="0.5"/><line x1="77.23" y1="388.5" x2="77.23" y2="390.10" stroke="#231f20" stroke-width="0.5"/><line x1="78.25" y1="388.5" x2="78.25" y2="390.10" stroke="#231f20" stroke-width="0.5"/><line x1="79.11" y1="388.5" x2="79.11" y2="390.10" stroke="#231f20" stroke-width="0.5"/><line x1="79.85" y1="388.5" x2="79.85" y2="390.10" stroke="#231f20" stroke-width="0.5"/><line x1="80.51" y1="388.5" x2="80.51" y2="390.10" stroke="#231f20" stroke-width="0.5"/><line x1="81.10" y1="388.5" x2="81.10" y2="391.10" stroke="#231f20" stroke-width="0.5"/><line x1="84.97" y1="388.5" x2="84.97" y2="390.10" stroke="#231f20" stroke-width="0.5"/><line x1="87.23" y1="388.5" x2="87.23" y2="390.10" stroke="#231f20" stroke-width="0.5"/><line x1="88.84" y1="388.5" x2="88.84" y2="390.10" stroke="#231f20" stroke-width="0.5"/><line x1="90.08" y1="388.5" x2="90.08" y2="390.10" stroke="#231f20" stroke-width="0.5"/><line x1="91.10" y1="388.5" x2="91.10" y2="390.10" stroke="#231f20" stroke-width="0.5"/><line x1="91.96" y1="388.5" x2="91.96" y2="390.10" stroke="#231f20" stroke-width="0.5"/><line x1="92.70" y1="388.5" x2="92.70" y2="390.10" stroke="#231f20" stroke-width="0.5"/><line x1="93.36" y1="388.5" x2="93.36" y2="390.10" stroke="#231f20" stroke-width="0.5"/><line x1="93.95" y1="388.5" x2="93.95" y2="391.10" stroke="#231f20" stroke-width="0.5"/><line x1="97.82" y1="388.5" x2="97.82" y2="390.10" stroke="#231f20" stroke-width="0.5"/><line x1="100.08" y1="388.5" x2="100.08" y2="390.10" stroke="#231f20" stroke-width="0.5"/><line x1="101.69" y1="388.5" x2="101.69" y2="390.10" stroke="#231f20" stroke-width="0.5"/><line x1="102.93" y1="388.5" x2="102.93" y2="390.10" stroke="#231f20" stroke-width="0.5"/><line x1="103.95" y1="388.5" x2="103.95" y2="390.10" stroke="#231f20" stroke-width="0.5"/><line x1="104.81" y1="388.5" x2="104.81" y2="390.10" stroke="#231f20" stroke-width="0.5"/><line x1="105.55" y1="388.5" x2="105.55" y2="390.10" stroke="#231f20" stroke-width="0.5"/><line x1="106.21" y1="388.5" x2="106.21" y2="390.10" stroke="#231f20" stroke-width="0.5"/><line x1="106.80" y1="388.5" x2="106.80" y2="391.10" stroke="#231f20" stroke-width="0.5"/><line x1="110.67" y1="388.5" x2="110.67" y2="390.10" stroke="#231f20" stroke-width="0.5"/><text x="54.80" y="400.10" font-size="5.0" text-anchor="middle" fill="#231f20" >10</text><text x="57.40" y="397.90" font-size="3.2" text-anchor="start" fill="#231f20" >1</text><text x="67.90" y="400.10" font-size="5.0" text-anchor="middle" fill="#231f20" >10</text><text x="70.50" y="397.90" font-size="3.2" text-anchor="start" fill="#231f20" >2</text><text x="80.60" y="400.10" font-size="5.0" text-anchor="middle" fill="#231f20" >10</text><text x="83.20" y="397.90" font-size="3.2" text-anchor="start" fill="#231f20" >3</text><text x="93.60" y="400.10" font-size="5.0" text-anchor="middle" fill="#231f20" >10</text><text x="96.20" y="397.90" font-size="3.2" text-anchor="start" fill="#231f20" >4</text><text x="106.00" y="400.10" font-size="5.0" text-anchor="middle" fill="#231f20" >10</text><text x="108.60" y="397.90" font-size="3.2" text-anchor="start" fill="#231f20" >5</text><line x1="49.6" y1="406.6" x2="110.0" y2="406.6" stroke="#231f20" stroke-width="0.8"/><path d="M113.0 406.6 L108.6 404.80 L108.6 408.40 Z" fill="#231f20"/><text x="78.20" y="415.40" font-size="6.7" text-anchor="middle" fill="#231f20" >PD-L1</text><text transform="translate(27.00,357.65) rotate(-90)" font-size="7.75" text-anchor="middle" fill="#231f20" >Count</text><clipPath id="hclip1"><rect x="48.0" y="422.2" width="65.5" height="64.60000000000002"/></clipPath><g clip-path="url(#hclip1)"><path d="M50.0 486.80 L50.5 486.80 L51.0 486.80 L51.5 486.80 L52.0 486.80 L52.5 486.80 L53.0 486.80 L53.5 486.80 L54.0 486.80 L54.5 486.80 L55.0 486.80 L55.5 486.79 L56.0 486.79 L56.5 486.78 L57.0 486.77 L57.5 486.75 L58.0 486.71 L58.5 486.65 L59.0 486.56 L59.5 486.42 L60.0 486.20 L60.5 485.89 L61.0 485.44 L61.5 484.81 L62.0 483.95 L62.5 482.79 L63.0 481.27 L63.5 479.34 L64.0 476.93 L64.5 474.01 L65.0 470.56 L65.5 466.60 L66.0 462.18 L66.5 457.39 L67.0 452.39 L67.5 447.35 L68.0 442.48 L68.5 438.02 L69.0 434.19 L69.5 431.21 L70.0 429.25 L70.5 428.42 L71.0 429.21 L71.5 432.37 L72.0 437.54 L72.5 444.11 L73.0 451.38 L73.5 458.66 L74.0 465.39 L74.5 471.20 L75.0 475.92 L75.5 479.53 L76.0 482.15 L76.5 483.95 L77.0 485.13 L77.5 485.86 L78.0 486.30 L78.5 486.54 L79.0 486.67 L79.5 486.74 L80.0 486.77 L80.5 486.79 L81.0 486.80 L81.5 486.80 L82.0 486.80 L82.5 486.80 L83.0 486.80 L83.5 486.80 L84.0 486.80 L84.5 486.80 L85.0 486.80 L85.5 486.80 L86.0 486.80 L86.5 486.80 L87.0 486.80 L87.5 486.80 L88.0 486.80 L88.5 486.80 L89.0 486.80 L89.5 486.80 L90.0 486.80 L90.5 486.80 L91.0 486.80 L91.5 486.80 L92.0 486.80 L92.5 486.80 L93.0 486.80 L93.5 486.80 L94.0 486.80 L94.5 486.80 L95.0 486.80 L95.5 486.80 L96.0 486.80 L96.5 486.80 L97.0 486.80 L97.5 486.80 L98.0 486.80 L98.5 486.80 L99.0 486.80 L99.5 486.80 L100.0 486.80 L100.5 486.80 L101.0 486.80 L101.5 486.80 L102.0 486.80 L102.5 486.80 L103.0 486.80 L103.5 486.80 L104.0 486.80 L104.5 486.80 L105.0 486.80 L105.5 486.80 L106.0 486.80 L106.5 486.80 L107.0 486.80 L107.5 486.80 L108.0 486.80 L108.5 486.80 L109.0 486.80 L109.5 486.80 L110.0 486.80 L110.5 486.80 L111.0 486.80 L111.5 486.80 L112.0 486.80 L112 486.8 L50 486.8 Z" fill="#d2c0d2" stroke="#6a3b6d" stroke-width="0.75"/><path d="M50.0 486.80 L50.5 486.80 L51.0 486.80 L51.5 486.80 L52.0 486.80 L52.5 486.80 L53.0 486.80 L53.5 486.80 L54.0 486.80 L54.5 486.80 L55.0 486.80 L55.5 486.80 L56.0 486.80 L56.5 486.80 L57.0 486.80 L57.5 486.80 L58.0 486.80 L58.5 486.80 L59.0 486.79 L59.5 486.79 L60.0 486.78 L60.5 486.77 L61.0 486.75 L61.5 486.72 L62.0 486.68 L62.5 486.62 L63.0 486.53 L63.5 486.40 L64.0 486.22 L64.5 485.97 L65.0 485.64 L65.5 485.19 L66.0 484.62 L66.5 483.88 L67.0 482.94 L67.5 481.79 L68.0 480.40 L68.5 478.75 L69.0 476.83 L69.5 474.64 L70.0 472.20 L70.5 469.54 L71.0 466.72 L71.5 463.80 L72.0 460.85 L72.5 457.99 L73.0 455.31 L73.5 452.91 L74.0 450.89 L74.5 449.34 L75.0 448.34 L75.5 447.91 L76.0 448.07 L76.5 448.74 L77.0 449.91 L77.5 451.52 L78.0 453.51 L78.5 455.81 L79.0 458.34 L79.5 461.02 L80.0 463.75 L80.5 466.48 L81.0 469.12 L81.5 471.62 L82.0 473.95 L82.5 476.06 L83.0 477.95 L83.5 479.61 L84.0 481.03 L84.5 482.23 L85.0 483.23 L85.5 484.05 L86.0 484.71 L86.5 485.23 L87.0 485.64 L87.5 485.95 L88.0 486.19 L88.5 486.37 L89.0 486.50 L89.5 486.59 L90.0 486.66 L90.5 486.70 L91.0 486.74 L91.5 486.76 L92.0 486.77 L92.5 486.78 L93.0 486.79 L93.5 486.79 L94.0 486.80 L94.5 486.80 L95.0 486.80 L95.5 486.80 L96.0 486.80 L96.5 486.80 L97.0 486.80 L97.5 486.80 L98.0 486.80 L98.5 486.80 L99.0 486.80 L99.5 486.80 L100.0 486.80 L100.5 486.80 L101.0 486.80 L101.5 486.80 L102.0 486.80 L102.5 486.80 L103.0 486.80 L103.5 486.80 L104.0 486.80 L104.5 486.80 L105.0 486.80 L105.5 486.80 L106.0 486.80 L106.5 486.80 L107.0 486.80 L107.5 486.80 L108.0 486.80 L108.5 486.80 L109.0 486.80 L109.5 486.80 L110.0 486.80 L110.5 486.80 L111.0 486.80 L111.5 486.80 L112.0 486.80" fill="none" stroke="#5fae4a" stroke-width="0.8"/><path d="M50.0 486.80 L50.5 486.80 L51.0 486.80 L51.5 486.80 L52.0 486.80 L52.5 486.80 L53.0 486.80 L53.5 486.80 L54.0 486.80 L54.5 486.80 L55.0 486.80 L55.5 486.80 L56.0 486.80 L56.5 486.80 L57.0 486.80 L57.5 486.80 L58.0 486.80 L58.5 486.79 L59.0 486.79 L59.5 486.79 L60.0 486.78 L60.5 486.77 L61.0 486.75 L61.5 486.72 L62.0 486.68 L62.5 486.63 L63.0 486.55 L63.5 486.44 L64.0 486.29 L64.5 486.08 L65.0 485.81 L65.5 485.45 L66.0 484.98 L66.5 484.39 L67.0 483.64 L67.5 482.72 L68.0 481.61 L68.5 480.28 L69.0 478.71 L69.5 476.91 L70.0 474.86 L70.5 472.58 L71.0 470.10 L71.5 467.45 L72.0 464.68 L72.5 461.85 L73.0 459.04 L73.5 456.32 L74.0 453.79 L74.5 451.53 L75.0 449.62 L75.5 448.14 L76.0 447.13 L76.5 446.64 L77.0 446.74 L77.5 447.58 L78.0 449.14 L78.5 451.32 L79.0 454.02 L79.5 457.09 L80.0 460.39 L80.5 463.77 L81.0 467.10 L81.5 470.27 L82.0 473.20 L82.5 475.82 L83.0 478.11 L83.5 480.05 L84.0 481.66 L84.5 482.96 L85.0 483.98 L85.5 484.77 L86.0 485.37 L86.5 485.81 L87.0 486.13 L87.5 486.35 L88.0 486.51 L88.5 486.61 L89.0 486.68 L89.5 486.73 L90.0 486.76 L90.5 486.77 L91.0 486.78 L91.5 486.79 L92.0 486.80 L92.5 486.80 L93.0 486.80 L93.5 486.80 L94.0 486.80 L94.5 486.80 L95.0 486.80 L95.5 486.80 L96.0 486.80 L96.5 486.80 L97.0 486.80 L97.5 486.80 L98.0 486.80 L98.5 486.80 L99.0 486.80 L99.5 486.80 L100.0 486.80 L100.5 486.80 L101.0 486.80 L101.5 486.80 L102.0 486.80 L102.5 486.80 L103.0 486.80 L103.5 486.80 L104.0 486.80 L104.5 486.80 L105.0 486.80 L105.5 486.80 L106.0 486.80 L106.5 486.80 L107.0 486.80 L107.5 486.80 L108.0 486.80 L108.5 486.80 L109.0 486.80 L109.5 486.80 L110.0 486.80 L110.5 486.80 L111.0 486.80 L111.5 486.80 L112.0 486.80" fill="none" stroke="#3a5ea0" stroke-width="0.8"/><path d="M50.0 486.80 L50.5 486.80 L51.0 486.80 L51.5 486.80 L52.0 486.80 L52.5 486.80 L53.0 486.80 L53.5 486.80 L54.0 486.80 L54.5 486.80 L55.0 486.80 L55.5 486.80 L56.0 486.80 L56.5 486.80 L57.0 486.80 L57.5 486.80 L58.0 486.80 L58.5 486.80 L59.0 486.80 L59.5 486.80 L60.0 486.80 L60.5 486.80 L61.0 486.80 L61.5 486.80 L62.0 486.80 L62.5 486.80 L63.0 486.80 L63.5 486.80 L64.0 486.80 L64.5 486.80 L65.0 486.80 L65.5 486.80 L66.0 486.80 L66.5 486.80 L67.0 486.80 L67.5 486.80 L68.0 486.80 L68.5 486.79 L69.0 486.79 L69.5 486.78 L70.0 486.75 L70.5 486.71 L71.0 486.64 L71.5 486.53 L72.0 486.33 L72.5 486.03 L73.0 485.56 L73.5 484.87 L74.0 483.89 L74.5 482.53 L75.0 480.71 L75.5 478.38 L76.0 475.49 L76.5 472.06 L77.0 468.15 L77.5 463.88 L78.0 459.44 L78.5 455.07 L79.0 451.05 L79.5 447.64 L80.0 445.07 L80.5 443.50 L81.0 443.10 L81.5 444.21 L82.0 446.64 L82.5 449.96 L83.0 453.70 L83.5 457.41 L84.0 460.73 L84.5 463.49 L85.0 465.62 L85.5 467.23 L86.0 468.47 L86.5 469.54 L87.0 470.64 L87.5 471.91 L88.0 473.41 L88.5 475.10 L89.0 476.90 L89.5 478.70 L90.0 480.40 L90.5 481.92 L91.0 483.21 L91.5 484.26 L92.0 485.06 L92.5 485.66 L93.0 486.07 L93.5 486.36 L94.0 486.54 L94.5 486.65 L95.0 486.72 L95.5 486.76 L96.0 486.78 L96.5 486.79 L97.0 486.79 L97.5 486.80 L98.0 486.80 L98.5 486.80 L99.0 486.80 L99.5 486.80 L100.0 486.80 L100.5 486.80 L101.0 486.80 L101.5 486.80 L102.0 486.80 L102.5 486.80 L103.0 486.80 L103.5 486.80 L104.0 486.80 L104.5 486.80 L105.0 486.80 L105.5 486.80 L106.0 486.80 L106.5 486.80 L107.0 486.80 L107.5 486.80 L108.0 486.80 L108.5 486.80 L109.0 486.80 L109.5 486.80 L110.0 486.80 L110.5 486.80 L111.0 486.80 L111.5 486.80 L112.0 486.80" fill="none" stroke="#c23a4a" stroke-width="0.8"/></g><rect x="48.55" y="422.75" width="64.40" height="63.50" fill="none" stroke="#231f20" stroke-width="1.1"/><line x1="45.3" y1="435.4" x2="48.0" y2="435.4" stroke="#231f20" stroke-width="0.7"/><text x="44.20" y="437.40" font-size="5.6" text-anchor="end" fill="#231f20" >1,5K</text><line x1="45.3" y1="452.7" x2="48.0" y2="452.7" stroke="#231f20" stroke-width="0.7"/><text x="44.20" y="454.70" font-size="5.6" text-anchor="end" fill="#231f20" >1,0K</text><line x1="45.3" y1="469.5" x2="48.0" y2="469.5" stroke="#231f20" stroke-width="0.7"/><text x="44.20" y="471.50" font-size="5.6" text-anchor="end" fill="#231f20" >500</text><line x1="45.3" y1="486.8" x2="48.0" y2="486.8" stroke="#231f20" stroke-width="0.7"/><text x="44.20" y="488.80" font-size="5.6" text-anchor="end" fill="#231f20" >0</text><line x1="46.8" y1="486.80" x2="48.0" y2="486.80" stroke="#231f20" stroke-width="0.5"/><line x1="46.8" y1="483.34" x2="48.0" y2="483.34" stroke="#231f20" stroke-width="0.5"/><line x1="46.8" y1="479.88" x2="48.0" y2="479.88" stroke="#231f20" stroke-width="0.5"/><line x1="46.8" y1="476.42" x2="48.0" y2="476.42" stroke="#231f20" stroke-width="0.5"/><line x1="46.8" y1="472.96" x2="48.0" y2="472.96" stroke="#231f20" stroke-width="0.5"/><line x1="46.8" y1="469.50" x2="48.0" y2="469.50" stroke="#231f20" stroke-width="0.5"/><line x1="46.8" y1="466.04" x2="48.0" y2="466.04" stroke="#231f20" stroke-width="0.5"/><line x1="46.8" y1="462.58" x2="48.0" y2="462.58" stroke="#231f20" stroke-width="0.5"/><line x1="46.8" y1="459.12" x2="48.0" y2="459.12" stroke="#231f20" stroke-width="0.5"/><line x1="46.8" y1="455.66" x2="48.0" y2="455.66" stroke="#231f20" stroke-width="0.5"/><line x1="46.8" y1="452.20" x2="48.0" y2="452.20" stroke="#231f20" stroke-width="0.5"/><line x1="46.8" y1="448.74" x2="48.0" y2="448.74" stroke="#231f20" stroke-width="0.5"/><line x1="46.8" y1="445.28" x2="48.0" y2="445.28" stroke="#231f20" stroke-width="0.5"/><line x1="46.8" y1="441.82" x2="48.0" y2="441.82" stroke="#231f20" stroke-width="0.5"/><line x1="46.8" y1="438.36" x2="48.0" y2="438.36" stroke="#231f20" stroke-width="0.5"/><line x1="46.8" y1="434.90" x2="48.0" y2="434.90" stroke="#231f20" stroke-width="0.5"/><line x1="46.8" y1="431.44" x2="48.0" y2="431.44" stroke="#231f20" stroke-width="0.5"/><line x1="46.8" y1="427.98" x2="48.0" y2="427.98" stroke="#231f20" stroke-width="0.5"/><line x1="46.8" y1="424.52" x2="48.0" y2="424.52" stroke="#231f20" stroke-width="0.5"/><line x1="50.29" y1="485.8" x2="50.29" y2="487.40" stroke="#231f20" stroke-width="0.5"/><line x1="51.53" y1="485.8" x2="51.53" y2="487.40" stroke="#231f20" stroke-width="0.5"/><line x1="52.55" y1="485.8" x2="52.55" y2="487.40" stroke="#231f20" stroke-width="0.5"/><line x1="53.41" y1="485.8" x2="53.41" y2="487.40" stroke="#231f20" stroke-width="0.5"/><line x1="54.15" y1="485.8" x2="54.15" y2="487.40" stroke="#231f20" stroke-width="0.5"/><line x1="54.81" y1="485.8" x2="54.81" y2="487.40" stroke="#231f20" stroke-width="0.5"/><line x1="55.40" y1="485.8" x2="55.40" y2="488.40" stroke="#231f20" stroke-width="0.5"/><line x1="59.27" y1="485.8" x2="59.27" y2="487.40" stroke="#231f20" stroke-width="0.5"/><line x1="61.53" y1="485.8" x2="61.53" y2="487.40" stroke="#231f20" stroke-width="0.5"/><line x1="63.14" y1="485.8" x2="63.14" y2="487.40" stroke="#231f20" stroke-width="0.5"/><line x1="64.38" y1="485.8" x2="64.38" y2="487.40" stroke="#231f20" stroke-width="0.5"/><line x1="65.40" y1="485.8" x2="65.40" y2="487.40" stroke="#231f20" stroke-width="0.5"/><line x1="66.26" y1="485.8" x2="66.26" y2="487.40" stroke="#231f20" stroke-width="0.5"/><line x1="67.00" y1="485.8" x2="67.00" y2="487.40" stroke="#231f20" stroke-width="0.5"/><line x1="67.66" y1="485.8" x2="67.66" y2="487.40" stroke="#231f20" stroke-width="0.5"/><line x1="68.25" y1="485.8" x2="68.25" y2="488.40" stroke="#231f20" stroke-width="0.5"/><line x1="72.12" y1="485.8" x2="72.12" y2="487.40" stroke="#231f20" stroke-width="0.5"/><line x1="74.38" y1="485.8" x2="74.38" y2="487.40" stroke="#231f20" stroke-width="0.5"/><line x1="75.99" y1="485.8" x2="75.99" y2="487.40" stroke="#231f20" stroke-width="0.5"/><line x1="77.23" y1="485.8" x2="77.23" y2="487.40" stroke="#231f20" stroke-width="0.5"/><line x1="78.25" y1="485.8" x2="78.25" y2="487.40" stroke="#231f20" stroke-width="0.5"/><line x1="79.11" y1="485.8" x2="79.11" y2="487.40" stroke="#231f20" stroke-width="0.5"/><line x1="79.85" y1="485.8" x2="79.85" y2="487.40" stroke="#231f20" stroke-width="0.5"/><line x1="80.51" y1="485.8" x2="80.51" y2="487.40" stroke="#231f20" stroke-width="0.5"/><line x1="81.10" y1="485.8" x2="81.10" y2="488.40" stroke="#231f20" stroke-width="0.5"/><line x1="84.97" y1="485.8" x2="84.97" y2="487.40" stroke="#231f20" stroke-width="0.5"/><line x1="87.23" y1="485.8" x2="87.23" y2="487.40" stroke="#231f20" stroke-width="0.5"/><line x1="88.84" y1="485.8" x2="88.84" y2="487.40" stroke="#231f20" stroke-width="0.5"/><line x1="90.08" y1="485.8" x2="90.08" y2="487.40" stroke="#231f20" stroke-width="0.5"/><line x1="91.10" y1="485.8" x2="91.10" y2="487.40" stroke="#231f20" stroke-width="0.5"/><line x1="91.96" y1="485.8" x2="91.96" y2="487.40" stroke="#231f20" stroke-width="0.5"/><line x1="92.70" y1="485.8" x2="92.70" y2="487.40" stroke="#231f20" stroke-width="0.5"/><line x1="93.36" y1="485.8" x2="93.36" y2="487.40" stroke="#231f20" stroke-width="0.5"/><line x1="93.95" y1="485.8" x2="93.95" y2="488.40" stroke="#231f20" stroke-width="0.5"/><line x1="97.82" y1="485.8" x2="97.82" y2="487.40" stroke="#231f20" stroke-width="0.5"/><line x1="100.08" y1="485.8" x2="100.08" y2="487.40" stroke="#231f20" stroke-width="0.5"/><line x1="101.69" y1="485.8" x2="101.69" y2="487.40" stroke="#231f20" stroke-width="0.5"/><line x1="102.93" y1="485.8" x2="102.93" y2="487.40" stroke="#231f20" stroke-width="0.5"/><line x1="103.95" y1="485.8" x2="103.95" y2="487.40" stroke="#231f20" stroke-width="0.5"/><line x1="104.81" y1="485.8" x2="104.81" y2="487.40" stroke="#231f20" stroke-width="0.5"/><line x1="105.55" y1="485.8" x2="105.55" y2="487.40" stroke="#231f20" stroke-width="0.5"/><line x1="106.21" y1="485.8" x2="106.21" y2="487.40" stroke="#231f20" stroke-width="0.5"/><line x1="106.80" y1="485.8" x2="106.80" y2="488.40" stroke="#231f20" stroke-width="0.5"/><line x1="110.67" y1="485.8" x2="110.67" y2="487.40" stroke="#231f20" stroke-width="0.5"/><text x="54.80" y="497.60" font-size="5.0" text-anchor="middle" fill="#231f20" >10</text><text x="57.40" y="495.40" font-size="3.2" text-anchor="start" fill="#231f20" >1</text><text x="67.90" y="497.60" font-size="5.0" text-anchor="middle" fill="#231f20" >10</text><text x="70.50" y="495.40" font-size="3.2" text-anchor="start" fill="#231f20" >2</text><text x="80.60" y="497.60" font-size="5.0" text-anchor="middle" fill="#231f20" >10</text><text x="83.20" y="495.40" font-size="3.2" text-anchor="start" fill="#231f20" >3</text><text x="93.60" y="497.60" font-size="5.0" text-anchor="middle" fill="#231f20" >10</text><text x="96.20" y="495.40" font-size="3.2" text-anchor="start" fill="#231f20" >4</text><text x="106.00" y="497.60" font-size="5.0" text-anchor="middle" fill="#231f20" >10</text><text x="108.60" y="495.40" font-size="3.2" text-anchor="start" fill="#231f20" >5</text><line x1="49.6" y1="504.2" x2="110.0" y2="504.2" stroke="#231f20" stroke-width="0.8"/><path d="M113.0 504.2 L108.6 502.40 L108.6 506.00 Z" fill="#231f20"/><text x="78.20" y="513.00" font-size="6.7" text-anchor="middle" fill="#231f20" >PD-L2</text><text transform="translate(27.00,455.00) rotate(-90)" font-size="7.75" text-anchor="middle" fill="#231f20" >Count</text><line x1="122.8" y1="400.1" x2="130.9" y2="400.1" stroke="#c23a4a" stroke-width="1.0"/><text x="134.00" y="401.90" font-size="5.0" text-anchor="start" fill="#231f20" >L1236 v2</text><line x1="122.8" y1="410.9" x2="130.9" y2="410.9" stroke="#8cc470" stroke-width="1.0"/><text x="134.00" y="412.70" font-size="5.0" text-anchor="start" fill="#231f20" >LTAg2_1</text><line x1="122.8" y1="420.3" x2="130.9" y2="420.3" stroke="#3a5ea0" stroke-width="1.0"/><text x="134.00" y="422.10" font-size="5.0" text-anchor="start" fill="#231f20" >LTAg3_4</text><text x="7.20" y="542.50" font-size="11" text-anchor="start" fill="#231f20" >F</text><rect x="44.8" y="558.0" width="84.60" height="11.2" fill="#cdc9cc"/><text x="87.10" y="565.60" font-size="5.2" text-anchor="middle" fill="#231f20" >LTA</text><line x1="44.8" y1="630.8" x2="129.4" y2="630.8" stroke="#3b3b3b" stroke-width="1.0"/><line x1="47.20" y1="630.8" x2="47.20" y2="633.2" stroke="#3b3b3b" stroke-width="0.8"/><text x="47.20" y="642.00" font-size="5.4" text-anchor="middle" fill="#4d4d4d" >0.00</text><line x1="69.35" y1="630.8" x2="69.35" y2="633.2" stroke="#3b3b3b" stroke-width="0.8"/><text x="69.35" y="642.00" font-size="5.4" text-anchor="middle" fill="#4d4d4d" >0.25</text><line x1="91.50" y1="630.8" x2="91.50" y2="633.2" stroke="#3b3b3b" stroke-width="0.8"/><text x="91.50" y="642.00" font-size="5.4" text-anchor="middle" fill="#4d4d4d" >0.50</text><line x1="113.65" y1="630.8" x2="113.65" y2="633.2" stroke="#3b3b3b" stroke-width="0.8"/><text x="113.65" y="642.00" font-size="5.4" text-anchor="middle" fill="#4d4d4d" >0.75</text><rect x="133.1" y="558.0" width="83.80" height="11.2" fill="#cdc9cc"/><text x="175.00" y="565.60" font-size="5.2" text-anchor="middle" fill="#231f20" >TNFRSF1A</text><line x1="133.1" y1="630.8" x2="216.9" y2="630.8" stroke="#3b3b3b" stroke-width="1.0"/><line x1="135.50" y1="630.8" x2="135.50" y2="633.2" stroke="#3b3b3b" stroke-width="0.8"/><text x="135.50" y="642.00" font-size="5.4" text-anchor="middle" fill="#4d4d4d" >0.00</text><line x1="157.65" y1="630.8" x2="157.65" y2="633.2" stroke="#3b3b3b" stroke-width="0.8"/><text x="157.65" y="642.00" font-size="5.4" text-anchor="middle" fill="#4d4d4d" >0.25</text><line x1="179.80" y1="630.8" x2="179.80" y2="633.2" stroke="#3b3b3b" stroke-width="0.8"/><text x="179.80" y="642.00" font-size="5.4" text-anchor="middle" fill="#4d4d4d" >0.50</text><line x1="201.95" y1="630.8" x2="201.95" y2="633.2" stroke="#3b3b3b" stroke-width="0.8"/><text x="201.95" y="642.00" font-size="5.4" text-anchor="middle" fill="#4d4d4d" >0.75</text><rect x="220.8" y="558.0" width="84.20" height="11.2" fill="#cdc9cc"/><text x="262.90" y="565.60" font-size="5.2" text-anchor="middle" fill="#231f20" >TNFRSF1B</text><line x1="220.8" y1="630.8" x2="305.0" y2="630.8" stroke="#3b3b3b" stroke-width="1.0"/><line x1="223.20" y1="630.8" x2="223.20" y2="633.2" stroke="#3b3b3b" stroke-width="0.8"/><text x="223.20" y="642.00" font-size="5.4" text-anchor="middle" fill="#4d4d4d" >0.00</text><line x1="245.35" y1="630.8" x2="245.35" y2="633.2" stroke="#3b3b3b" stroke-width="0.8"/><text x="245.35" y="642.00" font-size="5.4" text-anchor="middle" fill="#4d4d4d" >0.25</text><line x1="267.50" y1="630.8" x2="267.50" y2="633.2" stroke="#3b3b3b" stroke-width="0.8"/><text x="267.50" y="642.00" font-size="5.4" text-anchor="middle" fill="#4d4d4d" >0.50</text><line x1="289.65" y1="630.8" x2="289.65" y2="633.2" stroke="#3b3b3b" stroke-width="0.8"/><text x="289.65" y="642.00" font-size="5.4" text-anchor="middle" fill="#4d4d4d" >0.75</text><rect x="309.0" y="558.0" width="84.30" height="11.2" fill="#cdc9cc"/><text x="351.15" y="565.60" font-size="5.2" text-anchor="middle" fill="#231f20" >TNFRSF14</text><line x1="309.0" y1="630.8" x2="393.3" y2="630.8" stroke="#3b3b3b" stroke-width="1.0"/><line x1="311.40" y1="630.8" x2="311.40" y2="633.2" stroke="#3b3b3b" stroke-width="0.8"/><text x="311.40" y="642.00" font-size="5.4" text-anchor="middle" fill="#4d4d4d" >0.00</text><line x1="333.55" y1="630.8" x2="333.55" y2="633.2" stroke="#3b3b3b" stroke-width="0.8"/><text x="333.55" y="642.00" font-size="5.4" text-anchor="middle" fill="#4d4d4d" >0.25</text><line x1="355.70" y1="630.8" x2="355.70" y2="633.2" stroke="#3b3b3b" stroke-width="0.8"/><text x="355.70" y="642.00" font-size="5.4" text-anchor="middle" fill="#4d4d4d" >0.50</text><line x1="377.85" y1="630.8" x2="377.85" y2="633.2" stroke="#3b3b3b" stroke-width="0.8"/><text x="377.85" y="642.00" font-size="5.4" text-anchor="middle" fill="#4d4d4d" >0.75</text><line x1="44.8" y1="569.2" x2="44.8" y2="631.3" stroke="#3b3b3b" stroke-width="1.0"/><line x1="42.4" y1="584.6" x2="44.8" y2="584.6" stroke="#3b3b3b" stroke-width="0.8"/><text x="38.90" y="586.50" font-size="5.4" text-anchor="end" fill="#4d4d4d" >1.5</text><line x1="42.4" y1="600.6" x2="44.8" y2="600.6" stroke="#3b3b3b" stroke-width="0.8"/><text x="38.90" y="602.50" font-size="5.4" text-anchor="end" fill="#4d4d4d" >1.3</text><line x1="42.4" y1="616.7" x2="44.8" y2="616.7" stroke="#3b3b3b" stroke-width="0.8"/><text x="38.90" y="618.60" font-size="5.4" text-anchor="end" fill="#4d4d4d" >1.1</text><text transform="translate(14.60,600.00) rotate(-90)" font-size="7.95" text-anchor="middle" fill="#231f20" >Average gene expression</text><text transform="translate(25.20,599.60) rotate(-90)" font-size="7.95" text-anchor="middle" fill="#231f20" >in cells expressing the gene</text><text x="202.00" y="654.00" font-size="8.0" text-anchor="middle" fill="#231f20" >Percentage of cells expressing the gene</text><circle cx="48.7" cy="602.3" r="1.85" fill="#9b92c9"/><circle cx="48.5" cy="605.4" r="1.85" fill="#e08b2b"/><circle cx="49.4" cy="606.8" r="1.85" fill="#e9b52f"/><circle cx="51.5" cy="606.2" r="1.85" fill="#c92a7c"/><circle cx="53.0" cy="611.2" r="1.85" fill="#2d4e7d"/><circle cx="49.6" cy="612.5" r="1.85" fill="#5c9e3d"/><circle cx="52.5" cy="616.7" r="1.85" fill="#a5172f"/><circle cx="159.0" cy="589.8" r="1.85" fill="#cbc5ca"/><circle cx="143.8" cy="600.0" r="1.85" fill="#9b92c9"/><circle cx="147.5" cy="601.0" r="1.85" fill="#e9b52f"/><circle cx="163.5" cy="604.4" r="1.85" fill="#2e6b50"/><circle cx="142.7" cy="605.8" r="1.85" fill="#c92a7c"/><circle cx="137.5" cy="607.7" r="1.85" fill="#e08b2b"/><circle cx="144.8" cy="610.6" r="1.85" fill="#a5172f"/><circle cx="143.7" cy="614.0" r="1.85" fill="#2d4e7d"/><circle cx="154.4" cy="619.6" r="1.85" fill="#b9b98b"/><circle cx="173.5" cy="624.6" r="1.85" fill="#5b2b5f"/><circle cx="137.5" cy="627.9" r="1.85" fill="#5c9e3d"/><circle cx="301.5" cy="572.1" r="1.85" fill="#5b2b5f"/><circle cx="239.0" cy="593.8" r="1.85" fill="#cbc5ca"/><circle cx="231.0" cy="595.6" r="1.85" fill="#e08b2b"/><circle cx="232.3" cy="597.5" r="1.85" fill="#9b92c9"/><circle cx="240.6" cy="598.5" r="1.85" fill="#e9b52f"/><circle cx="265.6" cy="596.5" r="1.85" fill="#2e6b50"/><circle cx="230.8" cy="601.5" r="1.85" fill="#c92a7c"/><circle cx="247.1" cy="607.1" r="1.85" fill="#2d4e7d"/><circle cx="246.2" cy="613.5" r="1.85" fill="#b9b98b"/><circle cx="228.8" cy="613.8" r="1.85" fill="#a5172f"/><circle cx="237.1" cy="615.4" r="1.85" fill="#5c9e3d"/><circle cx="339.4" cy="588.0" r="1.85" fill="#cbc5ca"/><circle cx="337.1" cy="587.5" r="1.85" fill="#e08b2b"/><circle cx="335.6" cy="593.5" r="1.85" fill="#9b92c9"/><circle cx="339.4" cy="595.8" r="1.85" fill="#e9b52f"/><circle cx="339.4" cy="598.5" r="1.85" fill="#c92a7c"/><circle cx="346.2" cy="603.5" r="1.85" fill="#5c9e3d"/><circle cx="348.5" cy="603.5" r="1.85" fill="#2d4e7d"/><circle cx="340.0" cy="604.6" r="1.85" fill="#a5172f"/><circle cx="337.5" cy="607.7" r="1.85" fill="#2e6b50"/><circle cx="365.0" cy="614.0" r="1.85" fill="#5b2b5f"/><circle cx="337.5" cy="619.6" r="1.85" fill="#b9b98b"/><text x="401.40" y="553.80" font-size="6.25" text-anchor="start" fill="#231f20" >cell_type</text><circle cx="403.4" cy="561.20" r="1.75" fill="#2e6b50"/><text x="408.20" y="563.00" font-size="5.0" text-anchor="start" fill="#231f20" >CD14+ Monocytes</text><circle cx="403.4" cy="570.23" r="1.75" fill="#e9b52f"/><text x="408.20" y="572.03" font-size="5.0" text-anchor="start" fill="#231f20" >NK cells</text><circle cx="403.4" cy="579.26" r="1.75" fill="#9b92c9"/><text x="408.20" y="581.06" font-size="5.0" text-anchor="start" fill="#231f20" >FHIT+,LEF1+,CCR7+,LDHB+</text><circle cx="403.4" cy="588.29" r="1.75" fill="#a5172f"/><text x="408.20" y="590.09" font-size="5.0" text-anchor="start" fill="#231f20" >CD8 T cells</text><circle cx="403.4" cy="597.32" r="1.75" fill="#2d4e7d"/><text x="408.20" y="599.12" font-size="5.0" text-anchor="start" fill="#231f20" >CD4 T cells</text><circle cx="403.4" cy="606.35" r="1.75" fill="#e08b2b"/><text x="408.20" y="608.15" font-size="5.0" text-anchor="start" fill="#231f20" >CD79A+,IGHD+,TCL1A+</text><circle cx="403.4" cy="615.38" r="1.75" fill="#5c9e3d"/><text x="408.20" y="617.18" font-size="5.0" text-anchor="start" fill="#231f20" >MS4A1+,IGHM+,IGKC+</text><circle cx="403.4" cy="624.41" r="1.75" fill="#c92a7c"/><text x="408.20" y="626.21" font-size="5.0" text-anchor="start" fill="#231f20" >B cells</text><circle cx="403.4" cy="633.44" r="1.75" fill="#cbc5ca"/><text x="408.20" y="635.24" font-size="5.0" text-anchor="start" fill="#231f20" >GNLY+,CCL4+,PRF1,+FGFBP2+</text><circle cx="403.4" cy="642.47" r="1.75" fill="#5b2b5f"/><text x="408.20" y="644.27" font-size="5.0" text-anchor="start" fill="#231f20" >FCGR3A+ Monocytes</text><circle cx="403.4" cy="651.50" r="1.75" fill="#b9b98b"/><text x="408.20" y="653.30" font-size="5.0" text-anchor="start" fill="#231f20" >Megakaryocytes</text><text x="171.60" y="319.20" font-size="11" text-anchor="start" fill="#231f20" >E</text><g transform="translate(216.2,341.5) scale(2.47917,2.46250)" shape-rendering="crispEdges"><path fill="#e8edf7" d="M0 0h1v1h-1zM5 0h1v1h-1zM12 1h1v1h-1zM14 1h1v1h-1zM4 3h1v1h-1zM2 4h1v1h-1zM5 4h1v1h-1zM7 4h1v1h-1zM47 4h1v1h-1zM4 5h2v1h-2zM38 6h1v1h-1zM43 6h2v1h-2zM6 7h1v1h-1zM8 7h1v1h-1zM39 7h1v1h-1zM36 8h1v1h-1zM44 10h1v1h-1zM0 11h1v1h-1zM4 13h1v1h-1zM7 13h1v1h-1zM10 13h1v1h-1zM0 14h1v1h-1zM3 14h1v1h-1zM6 14h1v1h-1zM9 15h1v1h-1zM14 15h1v1h-1zM23 15h1v1h-1zM14 16h1v1h-1zM26 16h1v1h-1zM11 17h1v1h-1zM11 18h3v1h-3zM25 18h1v1h-1zM23 19h1v1h-1zM15 20h1v1h-1zM64 21h2v1h-2zM10 22h1v1h-1zM26 22h1v1h-1zM63 22h1v1h-1zM64 23h1v1h-1zM11 24h2v1h-2zM67 24h1v1h-1zM9 25h1v1h-1zM25 25h1v1h-1zM27 25h1v1h-1zM25 26h1v1h-1zM61 27h1v1h-1zM0 28h2v1h-2zM11 28h1v1h-1zM4 29h1v1h-1zM11 29h1v1h-1zM58 29h1v1h-1zM5 30h1v1h-1zM61 31h1v1h-1zM1 32h1v1h-1zM12 32h1v1h-1zM61 32h1v1h-1zM64 32h1v1h-1zM65 33h1v1h-1zM10 34h1v1h-1zM13 35h1v1h-1zM63 35h1v1h-1zM13 36h1v1h-1zM16 36h1v1h-1zM24 36h1v1h-1zM29 36h1v1h-1zM63 36h1v1h-1zM17 37h3v1h-3zM1 38h1v1h-1zM13 38h1v1h-1zM16 38h1v1h-1zM29 39h1v1h-1zM67 39h1v1h-1zM18 40h1v1h-1zM29 40h1v1h-1zM67 40h1v1h-1zM28 41h1v1h-1zM54 42h1v1h-1zM41 43h1v1h-1zM56 43h1v1h-1zM46 45h1v1h-1zM55 45h1v1h-1zM12 46h1v1h-1zM35 47h1v1h-1zM41 47h1v1h-1zM46 47h1v1h-1zM12 48h1v1h-1zM71 48h1v1h-1zM42 49h1v1h-1zM35 50h1v1h-1zM52 50h1v1h-1zM34 54h1v1h-1zM31 55h1v1h-1zM33 55h1v1h-1zM35 55h1v1h-1zM39 55h1v1h-1zM51 56h1v1h-1zM23 57h1v1h-1zM43 57h1v1h-1zM55 57h2v1h-2zM70 57h1v1h-1zM33 58h1v1h-1zM35 58h1v1h-1zM44 58h1v1h-1zM53 58h1v1h-1zM41 59h1v1h-1zM43 59h1v1h-1zM53 59h1v1h-1zM70 59h1v1h-1zM53 60h2v1h-2zM43 61h1v1h-1zM49 61h1v1h-1zM58 61h1v1h-1zM42 62h1v1h-1zM56 62h1v1h-1zM67 64h1v1h-1zM17 65h1v1h-1zM44 65h1v1h-1zM54 66h1v1h-1zM71 66h1v1h-1zM12 67h1v1h-1zM42 67h1v1h-1zM61 67h1v1h-1zM65 67h1v1h-1zM14 68h1v1h-1zM41 68h1v1h-1zM60 68h1v1h-1zM25 69h1v1h-1zM63 69h1v1h-1zM65 69h1v1h-1zM16 70h1v1h-1zM35 70h1v1h-1zM39 70h1v1h-1zM43 70h1v1h-1zM14 71h2v1h-2zM43 71h1v1h-1zM55 71h1v1h-1zM57 71h1v1h-1zM60 71h1v1h-1zM71 71h1v1h-1z"/><path fill="#ededf7" d="M1 0h1v1h-1zM16 0h1v1h-1zM11 1h1v1h-1zM10 2h1v1h-1zM17 2h1v1h-1zM2 3h2v1h-2zM1 4h1v1h-1zM0 5h1v1h-1zM8 5h1v1h-1zM17 5h1v1h-1zM0 6h1v1h-1zM14 6h1v1h-1zM1 7h1v1h-1zM7 7h1v1h-1zM37 7h1v1h-1zM7 8h1v1h-1zM12 8h1v1h-1zM39 8h1v1h-1zM45 8h1v1h-1zM37 9h1v1h-1zM8 10h1v1h-1zM36 10h3v1h-3zM39 11h1v1h-1zM41 11h1v1h-1zM2 12h1v1h-1zM13 12h1v1h-1zM8 14h1v1h-1zM13 15h1v1h-1zM25 15h1v1h-1zM24 17h1v1h-1zM17 18h1v1h-1zM6 19h1v1h-1zM12 19h1v1h-1zM24 19h1v1h-1zM9 20h1v1h-1zM11 20h1v1h-1zM11 21h1v1h-1zM25 21h2v1h-2zM68 21h1v1h-1zM11 22h1v1h-1zM16 22h1v1h-1zM9 23h2v1h-2zM14 23h1v1h-1zM25 23h2v1h-2zM16 24h1v1h-1zM32 24h1v1h-1zM28 25h1v1h-1zM17 26h1v1h-1zM24 26h1v1h-1zM8 27h1v1h-1zM3 28h1v1h-1zM17 28h1v1h-1zM7 29h1v1h-1zM17 29h1v1h-1zM57 29h1v1h-1zM1 30h1v1h-1zM62 30h1v1h-1zM3 31h1v1h-1zM7 31h2v1h-2zM3 32h1v1h-1zM7 32h1v1h-1zM63 32h1v1h-1zM61 33h1v1h-1zM9 34h1v1h-1zM11 34h1v1h-1zM61 34h2v1h-2zM64 34h1v1h-1zM1 35h2v1h-2zM61 35h1v1h-1zM11 36h1v1h-1zM14 36h1v1h-1zM19 36h1v1h-1zM25 36h1v1h-1zM27 36h1v1h-1zM64 36h1v1h-1zM11 37h1v1h-1zM65 37h1v1h-1zM67 37h1v1h-1zM2 38h1v1h-1zM15 38h1v1h-1zM22 38h3v1h-3zM60 38h1v1h-1zM63 38h1v1h-1zM7 39h1v1h-1zM28 39h1v1h-1zM52 39h1v1h-1zM71 39h1v1h-1zM52 40h2v1h-2zM66 40h1v1h-1zM20 41h1v1h-1zM29 41h1v1h-1zM55 41h1v1h-1zM55 42h1v1h-1zM55 43h1v1h-1zM11 45h1v1h-1zM10 46h1v1h-1zM35 46h1v1h-1zM56 46h1v1h-1zM12 47h2v1h-2zM33 47h1v1h-1zM43 47h1v1h-1zM54 47h1v1h-1zM44 48h1v1h-1zM47 48h1v1h-1zM51 48h1v1h-1zM55 48h1v1h-1zM40 49h1v1h-1zM44 50h1v1h-1zM46 51h1v1h-1zM41 52h1v1h-1zM32 53h1v1h-1zM43 53h1v1h-1zM71 53h1v1h-1zM31 54h1v1h-1zM42 54h2v1h-2zM45 54h1v1h-1zM53 54h1v1h-1zM56 54h1v1h-1zM41 55h1v1h-1zM47 55h1v1h-1zM49 55h1v1h-1zM30 56h1v1h-1zM33 56h1v1h-1zM56 56h1v1h-1zM35 57h1v1h-1zM41 57h1v1h-1zM49 57h1v1h-1zM65 57h1v1h-1zM49 58h1v1h-1zM56 58h1v1h-1zM42 59h1v1h-1zM48 59h3v1h-3zM52 59h1v1h-1zM63 59h1v1h-1zM26 60h1v1h-1zM39 60h1v1h-1zM46 60h1v1h-1zM49 60h3v1h-3zM63 60h1v1h-1zM25 61h1v1h-1zM48 61h1v1h-1zM65 61h1v1h-1zM48 62h1v1h-1zM51 62h1v1h-1zM71 62h1v1h-1zM61 63h1v1h-1zM66 63h1v1h-1zM71 63h1v1h-1zM56 64h1v1h-1zM16 65h1v1h-1zM30 65h3v1h-3zM42 65h1v1h-1zM52 65h1v1h-1zM54 65h1v1h-1zM63 65h1v1h-1zM70 65h2v1h-2zM13 66h1v1h-1zM17 66h1v1h-1zM62 66h1v1h-1zM13 67h1v1h-1zM17 67h1v1h-1zM54 67h1v1h-1zM12 68h1v1h-1zM15 68h1v1h-1zM43 68h1v1h-1zM56 68h1v1h-1zM58 68h1v1h-1zM61 68h1v1h-1zM13 69h1v1h-1zM17 69h1v1h-1zM36 69h1v1h-1zM52 69h1v1h-1zM56 69h1v1h-1zM59 69h1v1h-1zM30 70h1v1h-1zM32 70h1v1h-1zM36 70h1v1h-1zM41 70h1v1h-1zM54 70h1v1h-1zM71 70h1v1h-1zM30 71h1v1h-1zM56 71h1v1h-1z"/><path fill="#e8e8f7" d="M2 0h1v1h-1zM12 0h1v1h-1zM8 3h1v1h-1zM5 6h1v1h-1zM9 6h1v1h-1zM12 6h1v1h-1zM42 6h1v1h-1zM12 7h1v1h-1zM13 8h1v1h-1zM41 8h1v1h-1zM44 11h1v1h-1zM8 13h1v1h-1zM6 15h1v1h-1zM22 15h1v1h-1zM6 16h1v1h-1zM9 18h1v1h-1zM15 18h1v1h-1zM24 18h1v1h-1zM9 19h1v1h-1zM13 20h1v1h-1zM22 20h1v1h-1zM15 22h1v1h-1zM17 22h1v1h-1zM24 23h1v1h-1zM23 25h1v1h-1zM15 27h1v1h-1zM17 27h1v1h-1zM25 27h1v1h-1zM60 27h1v1h-1zM26 28h1v1h-1zM28 28h1v1h-1zM7 30h1v1h-1zM63 30h1v1h-1zM13 31h1v1h-1zM62 31h1v1h-1zM10 33h1v1h-1zM2 36h1v1h-1zM9 36h2v1h-2zM15 36h1v1h-1zM17 36h1v1h-1zM26 36h1v1h-1zM9 37h1v1h-1zM16 37h1v1h-1zM23 37h1v1h-1zM61 37h1v1h-1zM64 39h1v1h-1zM66 41h1v1h-1zM43 42h1v1h-1zM56 42h1v1h-1zM35 45h1v1h-1zM43 46h1v1h-1zM11 47h1v1h-1zM14 47h1v1h-1zM39 47h1v1h-1zM43 49h1v1h-1zM42 50h2v1h-2zM46 50h1v1h-1zM33 51h1v1h-1zM43 51h1v1h-1zM39 53h1v1h-1zM35 54h1v1h-1zM44 54h1v1h-1zM49 54h1v1h-1zM24 55h1v1h-1zM34 55h1v1h-1zM31 56h2v1h-2zM35 56h1v1h-1zM44 56h1v1h-1zM49 56h1v1h-1zM53 56h1v1h-1zM26 57h1v1h-1zM51 58h1v1h-1zM63 58h1v1h-1zM26 59h1v1h-1zM64 59h2v1h-2zM71 59h1v1h-1zM24 60h1v1h-1zM28 60h1v1h-1zM40 60h1v1h-1zM69 60h1v1h-1zM52 62h2v1h-2zM63 62h2v1h-2zM69 62h1v1h-1zM27 63h1v1h-1zM56 63h1v1h-1zM68 63h2v1h-2zM17 64h1v1h-1zM69 64h2v1h-2zM45 65h1v1h-1zM55 66h1v1h-1zM16 67h1v1h-1zM41 67h1v1h-1zM16 68h1v1h-1zM62 68h1v1h-1zM66 68h1v1h-1zM32 69h1v1h-1zM71 69h1v1h-1zM56 70h1v1h-1zM12 71h1v1h-1zM34 71h1v1h-1z"/><path fill="#f7f7fc" d="M3 0h1v1h-1zM38 0h1v1h-1zM43 0h2v1h-2zM2 2h1v1h-1zM44 2h1v1h-1zM40 3h1v1h-1zM50 3h1v1h-1zM42 4h1v1h-1zM20 5h1v1h-1zM47 5h1v1h-1zM11 6h1v1h-1zM38 8h1v1h-1zM3 10h1v1h-1zM34 10h1v1h-1zM42 11h1v1h-1zM7 12h1v1h-1zM9 13h1v1h-1zM12 13h1v1h-1zM17 13h1v1h-1zM43 13h1v1h-1zM16 16h1v1h-1zM26 17h1v1h-1zM13 22h1v1h-1zM68 22h1v1h-1zM66 24h1v1h-1zM6 25h1v1h-1zM59 26h1v1h-1zM6 29h1v1h-1zM60 29h1v1h-1zM9 31h1v1h-1zM68 31h1v1h-1zM29 32h1v1h-1zM26 33h1v1h-1zM32 33h1v1h-1zM63 33h1v1h-1zM71 33h1v1h-1zM13 34h1v1h-1zM6 37h1v1h-1zM14 37h1v1h-1zM32 37h1v1h-1zM6 38h1v1h-1zM6 39h1v1h-1zM20 39h1v1h-1zM27 39h1v1h-1zM46 39h1v1h-1zM56 39h1v1h-1zM6 40h1v1h-1zM6 41h1v1h-1zM8 45h1v1h-1zM12 45h1v1h-1zM54 45h1v1h-1zM32 46h1v1h-1zM39 48h1v1h-1zM67 48h1v1h-1zM65 49h1v1h-1zM68 49h1v1h-1zM71 49h1v1h-1zM27 52h1v1h-1zM28 57h1v1h-1zM34 57h1v1h-1zM36 58h1v1h-1zM47 58h1v1h-1zM41 60h2v1h-2zM41 62h1v1h-1zM58 62h1v1h-1zM15 63h1v1h-1zM26 63h1v1h-1zM58 63h1v1h-1zM35 65h1v1h-1zM12 66h1v1h-1zM71 68h1v1h-1zM12 69h1v1h-1zM69 69h1v1h-1z"/><path fill="#f7f7f7" d="M4 0h1v1h-1zM9 0h1v1h-1zM11 0h1v1h-1zM14 0h2v1h-2zM17 0h1v1h-1zM32 0h1v1h-1zM1 1h2v1h-2zM17 1h1v1h-1zM47 1h1v1h-1zM3 2h1v1h-1zM9 2h1v1h-1zM14 2h1v1h-1zM16 2h1v1h-1zM33 2h1v1h-1zM42 2h1v1h-1zM0 3h1v1h-1zM16 3h1v1h-1zM39 3h1v1h-1zM15 4h3v1h-3zM35 4h1v1h-1zM40 4h1v1h-1zM46 4h1v1h-1zM2 5h1v1h-1zM6 5h1v1h-1zM11 5h1v1h-1zM16 5h1v1h-1zM46 5h1v1h-1zM50 5h1v1h-1zM4 6h1v1h-1zM6 6h2v1h-2zM10 6h1v1h-1zM15 6h2v1h-2zM23 6h1v1h-1zM30 6h1v1h-1zM34 6h1v1h-1zM36 6h1v1h-1zM46 6h1v1h-1zM50 6h1v1h-1zM0 7h1v1h-1zM15 7h1v1h-1zM38 7h1v1h-1zM40 7h1v1h-1zM2 8h2v1h-2zM9 8h1v1h-1zM11 8h1v1h-1zM15 8h1v1h-1zM17 8h1v1h-1zM34 8h1v1h-1zM47 8h1v1h-1zM0 9h2v1h-2zM3 9h1v1h-1zM23 9h1v1h-1zM42 9h1v1h-1zM46 9h1v1h-1zM2 10h1v1h-1zM4 10h1v1h-1zM7 10h1v1h-1zM45 10h2v1h-2zM2 11h1v1h-1zM17 11h1v1h-1zM33 11h1v1h-1zM5 12h1v1h-1zM9 12h1v1h-1zM11 12h1v1h-1zM46 12h1v1h-1zM5 13h1v1h-1zM14 13h1v1h-1zM40 13h1v1h-1zM9 14h1v1h-1zM12 14h1v1h-1zM32 14h4v1h-4zM42 14h2v1h-2zM46 14h1v1h-1zM67 14h1v1h-1zM10 15h2v1h-2zM24 15h1v1h-1zM21 16h1v1h-1zM30 16h1v1h-1zM13 17h1v1h-1zM15 17h1v1h-1zM25 17h1v1h-1zM31 19h2v1h-2zM25 20h1v1h-1zM12 21h1v1h-1zM14 22h1v1h-1zM66 22h1v1h-1zM12 23h1v1h-1zM16 23h1v1h-1zM32 23h1v1h-1zM68 23h1v1h-1zM30 24h2v1h-2zM57 24h1v1h-1zM59 24h1v1h-1zM70 24h1v1h-1zM24 25h1v1h-1zM26 25h1v1h-1zM61 25h2v1h-2zM64 25h4v1h-4zM7 26h1v1h-1zM16 26h1v1h-1zM31 26h1v1h-1zM61 26h1v1h-1zM63 26h1v1h-1zM6 27h1v1h-1zM8 28h1v1h-1zM59 28h1v1h-1zM64 28h1v1h-1zM2 29h1v1h-1zM25 29h1v1h-1zM59 29h1v1h-1zM62 29h1v1h-1zM2 30h2v1h-2zM12 30h1v1h-1zM14 30h1v1h-1zM26 30h2v1h-2zM29 30h2v1h-2zM57 30h1v1h-1zM70 30h1v1h-1zM64 31h1v1h-1zM67 31h1v1h-1zM70 31h1v1h-1zM11 32h1v1h-1zM19 32h1v1h-1zM35 32h1v1h-1zM60 32h1v1h-1zM68 32h1v1h-1zM70 32h1v1h-1zM6 33h1v1h-1zM8 33h1v1h-1zM14 33h1v1h-1zM25 33h1v1h-1zM30 33h1v1h-1zM43 33h1v1h-1zM64 33h1v1h-1zM0 34h1v1h-1zM2 34h1v1h-1zM34 34h1v1h-1zM42 34h1v1h-1zM0 35h1v1h-1zM24 35h1v1h-1zM31 35h1v1h-1zM65 35h1v1h-1zM5 36h1v1h-1zM18 36h1v1h-1zM20 36h1v1h-1zM39 36h1v1h-1zM61 36h1v1h-1zM65 36h1v1h-1zM2 37h1v1h-1zM4 37h2v1h-2zM24 37h1v1h-1zM55 37h1v1h-1zM60 37h1v1h-1zM64 37h1v1h-1zM68 37h1v1h-1zM3 38h1v1h-1zM20 38h1v1h-1zM48 38h1v1h-1zM54 38h1v1h-1zM61 38h2v1h-2zM64 38h1v1h-1zM44 39h1v1h-1zM47 39h2v1h-2zM54 39h1v1h-1zM60 39h1v1h-1zM66 39h1v1h-1zM69 39h2v1h-2zM27 40h1v1h-1zM41 40h2v1h-2zM44 40h1v1h-1zM54 40h2v1h-2zM69 40h1v1h-1zM19 41h1v1h-1zM43 41h1v1h-1zM53 41h2v1h-2zM69 41h2v1h-2zM1 42h1v1h-1zM6 44h1v1h-1zM10 45h1v1h-1zM6 46h1v1h-1zM54 46h1v1h-1zM69 46h1v1h-1zM71 46h1v1h-1zM9 47h1v1h-1zM34 47h1v1h-1zM56 47h1v1h-1zM0 48h1v1h-1zM33 48h1v1h-1zM52 48h1v1h-1zM62 48h1v1h-1zM68 48h1v1h-1zM39 49h1v1h-1zM45 49h1v1h-1zM51 49h1v1h-1zM54 49h1v1h-1zM56 49h1v1h-1zM47 50h1v1h-1zM65 50h1v1h-1zM30 51h1v1h-1zM68 51h1v1h-1zM7 52h1v1h-1zM56 52h1v1h-1zM11 53h1v1h-1zM31 53h1v1h-1zM33 53h1v1h-1zM66 53h2v1h-2zM69 53h2v1h-2zM6 54h1v1h-1zM8 54h1v1h-1zM11 54h1v1h-1zM60 54h1v1h-1zM63 54h1v1h-1zM69 54h1v1h-1zM7 55h1v1h-1zM45 55h1v1h-1zM48 55h1v1h-1zM54 55h1v1h-1zM65 55h1v1h-1zM63 56h3v1h-3zM44 57h1v1h-1zM69 57h1v1h-1zM71 57h1v1h-1zM29 58h1v1h-1zM42 58h1v1h-1zM54 58h1v1h-1zM6 59h1v1h-1zM27 59h1v1h-1zM29 59h1v1h-1zM44 59h2v1h-2zM6 60h1v1h-1zM18 60h1v1h-1zM34 60h1v1h-1zM47 60h1v1h-1zM56 60h1v1h-1zM59 60h1v1h-1zM66 60h1v1h-1zM23 61h1v1h-1zM26 61h1v1h-1zM29 61h1v1h-1zM38 61h1v1h-1zM42 61h1v1h-1zM44 61h1v1h-1zM56 61h1v1h-1zM63 61h1v1h-1zM24 62h1v1h-1zM34 62h1v1h-1zM46 62h1v1h-1zM57 62h1v1h-1zM59 62h1v1h-1zM11 63h1v1h-1zM14 63h1v1h-1zM29 63h1v1h-1zM38 63h1v1h-1zM12 64h1v1h-1zM19 64h1v1h-1zM33 64h1v1h-1zM35 64h1v1h-1zM54 64h1v1h-1zM61 64h1v1h-1zM15 65h1v1h-1zM25 65h1v1h-1zM28 65h1v1h-1zM38 65h1v1h-1zM43 65h1v1h-1zM56 65h1v1h-1zM66 65h1v1h-1zM34 66h2v1h-2zM34 67h1v1h-1zM71 67h1v1h-1zM25 68h1v1h-1zM27 68h1v1h-1zM33 68h1v1h-1zM57 68h1v1h-1zM69 68h1v1h-1zM24 69h1v1h-1zM26 69h1v1h-1zM33 69h1v1h-1zM37 69h1v1h-1zM41 69h2v1h-2zM60 69h2v1h-2zM66 69h1v1h-1zM70 69h1v1h-1zM10 70h1v1h-1zM14 70h1v1h-1zM29 70h1v1h-1zM31 70h1v1h-1zM33 70h1v1h-1zM55 70h1v1h-1zM62 70h1v1h-1zM65 70h1v1h-1zM70 70h1v1h-1zM16 71h2v1h-2zM23 71h2v1h-2zM36 71h2v1h-2zM54 71h1v1h-1zM62 71h1v1h-1z"/><path fill="#e3e3f2" d="M6 0h1v1h-1zM6 2h1v1h-1zM36 7h1v1h-1zM8 8h1v1h-1zM0 10h1v1h-1zM7 17h2v1h-2zM12 17h1v1h-1zM14 17h1v1h-1zM6 20h1v1h-1zM10 20h1v1h-1zM27 20h1v1h-1zM6 22h1v1h-1zM11 23h1v1h-1zM23 23h1v1h-1zM9 24h1v1h-1zM8 26h1v1h-1zM22 26h2v1h-2zM11 27h1v1h-1zM10 29h1v1h-1zM64 35h1v1h-1zM13 37h1v1h-1zM65 39h1v1h-1zM67 41h1v1h-1zM51 44h1v1h-1zM50 47h1v1h-1zM48 48h1v1h-1zM44 49h1v1h-1zM51 50h1v1h-1zM35 51h1v1h-1zM46 53h1v1h-1zM39 56h1v1h-1zM54 57h1v1h-1zM34 58h1v1h-1zM54 59h1v1h-1zM48 60h1v1h-1zM51 61h1v1h-1zM71 64h1v1h-1zM49 65h1v1h-1zM51 65h1v1h-1zM63 68h1v1h-1zM68 69h1v1h-1zM51 70h1v1h-1zM61 71h1v1h-1z"/><path fill="#cad4ed" d="M7 0h1v1h-1zM4 15h1v1h-1zM18 15h1v1h-1zM1 16h1v1h-1zM0 17h1v1h-1zM21 18h1v1h-1zM1 20h1v1h-1zM4 20h1v1h-1zM1 22h1v1h-1zM4 23h1v1h-1zM10 24h1v1h-1zM5 25h1v1h-1zM13 25h1v1h-1zM13 26h1v1h-1zM18 26h1v1h-1zM3 27h1v1h-1zM22 27h1v1h-1zM19 28h1v1h-1zM22 37h1v1h-1zM2 39h1v1h-1zM25 39h1v1h-1zM1 40h1v1h-1zM4 40h1v1h-1zM63 41h1v1h-1zM46 42h1v1h-1zM40 43h1v1h-1zM42 44h1v1h-1zM13 50h1v1h-1zM47 52h1v1h-1zM52 52h2v1h-2zM29 54h1v1h-1zM25 57h1v1h-1zM45 63h1v1h-1zM63 63h1v1h-1zM46 66h1v1h-1zM63 66h1v1h-1zM68 66h1v1h-1zM31 67h1v1h-1zM40 67h1v1h-1zM48 67h1v1h-1zM44 68h1v1h-1zM49 70h1v1h-1z"/><path fill="#d9def2" d="M8 0h1v1h-1zM13 0h1v1h-1zM13 1h1v1h-1zM14 7h1v1h-1zM14 8h1v1h-1zM0 13h1v1h-1zM8 16h1v1h-1zM28 17h1v1h-1zM7 19h1v1h-1zM22 19h1v1h-1zM29 19h1v1h-1zM7 20h1v1h-1zM23 21h1v1h-1zM7 22h1v1h-1zM22 22h1v1h-1zM7 23h2v1h-2zM2 24h1v1h-1zM22 24h1v1h-1zM1 25h1v1h-1zM8 25h1v1h-1zM20 25h1v1h-1zM9 26h2v1h-2zM21 26h1v1h-1zM27 26h1v1h-1zM7 27h1v1h-1zM21 27h1v1h-1zM5 28h1v1h-1zM10 28h1v1h-1zM14 28h1v1h-1zM18 28h1v1h-1zM21 28h2v1h-2zM12 29h1v1h-1zM28 29h1v1h-1zM0 30h1v1h-1zM0 31h1v1h-1zM67 36h1v1h-1zM0 37h1v1h-1zM23 39h1v1h-1zM25 40h1v1h-1zM64 40h1v1h-1zM3 41h1v1h-1zM23 41h1v1h-1zM52 42h1v1h-1zM43 45h1v1h-1zM47 45h2v1h-2zM50 45h1v1h-1zM40 46h1v1h-1zM48 46h1v1h-1zM50 46h1v1h-1zM45 47h1v1h-1zM47 47h1v1h-1zM52 47h1v1h-1zM11 48h1v1h-1zM30 48h1v1h-1zM32 48h1v1h-1zM43 48h1v1h-1zM50 48h1v1h-1zM13 49h1v1h-1zM49 49h1v1h-1zM42 51h1v1h-1zM48 51h1v1h-1zM50 51h1v1h-1zM34 52h1v1h-1zM39 52h1v1h-1zM48 52h1v1h-1zM34 53h1v1h-1zM41 53h1v1h-1zM50 53h1v1h-1zM52 53h2v1h-2zM24 54h1v1h-1zM39 54h1v1h-1zM41 54h1v1h-1zM28 55h1v1h-1zM24 56h1v1h-1zM28 56h1v1h-1zM63 57h2v1h-2zM24 58h1v1h-1zM46 58h1v1h-1zM70 58h2v1h-2zM24 59h1v1h-1zM40 62h1v1h-1zM17 63h1v1h-1zM30 63h2v1h-2zM41 63h1v1h-1zM44 63h1v1h-1zM47 63h2v1h-2zM16 64h1v1h-1zM41 64h2v1h-2zM48 64h2v1h-2zM51 64h2v1h-2zM64 64h1v1h-1zM14 66h1v1h-1zM40 66h1v1h-1zM43 66h1v1h-1zM66 66h1v1h-1zM52 67h2v1h-2zM63 67h1v1h-1zM67 67h1v1h-1zM30 68h1v1h-1zM40 68h1v1h-1zM52 68h1v1h-1zM68 68h1v1h-1zM47 69h1v1h-1zM64 69h1v1h-1zM46 70h1v1h-1zM67 70h1v1h-1zM40 71h2v1h-2zM52 71h1v1h-1zM58 71h1v1h-1zM63 71h1v1h-1zM67 71h1v1h-1z"/><path fill="#edd9d4" d="M10 0h1v1h-1zM33 0h2v1h-2zM42 0h1v1h-1zM40 1h1v1h-1zM23 2h1v1h-1zM31 2h1v1h-1zM36 2h1v1h-1zM41 2h1v1h-1zM45 2h1v1h-1zM11 3h1v1h-1zM66 3h1v1h-1zM9 4h2v1h-2zM13 4h1v1h-1zM18 4h1v1h-1zM21 4h1v1h-1zM34 5h1v1h-1zM40 5h1v1h-1zM48 5h1v1h-1zM68 5h1v1h-1zM18 6h1v1h-1zM31 7h1v1h-1zM45 7h1v1h-1zM35 8h1v1h-1zM50 8h1v1h-1zM9 9h3v1h-3zM16 9h1v1h-1zM48 9h1v1h-1zM54 9h1v1h-1zM66 9h1v1h-1zM9 10h1v1h-1zM15 10h1v1h-1zM10 11h1v1h-1zM20 11h1v1h-1zM22 11h1v1h-1zM31 13h1v1h-1zM34 13h1v1h-1zM45 13h1v1h-1zM47 13h1v1h-1zM56 13h1v1h-1zM10 14h1v1h-1zM47 14h1v1h-1zM31 16h1v1h-1zM31 17h1v1h-1zM62 17h1v1h-1zM70 18h2v1h-2zM33 19h1v1h-1zM30 22h1v1h-1zM62 23h1v1h-1zM33 25h3v1h-3zM69 26h1v1h-1zM31 28h1v1h-1zM34 28h1v1h-1zM30 29h1v1h-1zM38 29h1v1h-1zM9 30h1v1h-1zM16 30h1v1h-1zM61 30h1v1h-1zM25 31h1v1h-1zM27 31h1v1h-1zM66 31h1v1h-1zM27 32h1v1h-1zM43 32h1v1h-1zM59 32h1v1h-1zM15 33h1v1h-1zM33 33h1v1h-1zM69 35h1v1h-1zM8 36h1v1h-1zM31 36h1v1h-1zM46 36h1v1h-1zM49 36h1v1h-1zM30 37h1v1h-1zM46 37h1v1h-1zM48 37h1v1h-1zM46 38h1v1h-1zM53 38h1v1h-1zM58 38h1v1h-1zM17 39h1v1h-1zM38 39h1v1h-1zM45 39h1v1h-1zM45 40h1v1h-1zM49 41h1v1h-1zM33 44h1v1h-1zM16 45h1v1h-1zM8 46h1v1h-1zM30 46h1v1h-1zM61 46h1v1h-1zM15 47h1v1h-1zM36 47h1v1h-1zM69 47h1v1h-1zM6 49h1v1h-1zM60 49h1v1h-1zM10 51h1v1h-1zM60 51h1v1h-1zM64 51h1v1h-1zM69 51h1v1h-1zM11 52h1v1h-1zM30 52h1v1h-1zM9 53h1v1h-1zM27 53h1v1h-1zM29 53h1v1h-1zM70 54h2v1h-2zM11 55h1v1h-1zM62 55h1v1h-1zM66 55h1v1h-1zM10 56h2v1h-2zM38 56h1v1h-1zM61 56h1v1h-1zM71 56h1v1h-1zM21 57h1v1h-1zM2 58h1v1h-1zM22 58h1v1h-1zM19 60h1v1h-1zM62 60h1v1h-1zM68 60h1v1h-1zM6 61h1v1h-1zM20 61h1v1h-1zM22 61h1v1h-1zM57 61h1v1h-1zM60 61h1v1h-1zM62 61h1v1h-1zM67 61h1v1h-1zM18 62h1v1h-1zM61 62h2v1h-2zM67 62h1v1h-1zM13 63h1v1h-1zM25 63h1v1h-1zM22 65h1v1h-1zM9 67h1v1h-1z"/><path fill="#fcf7f7" d="M18 0h1v1h-1zM37 2h1v1h-1zM6 8h1v1h-1zM66 16h1v1h-1zM12 22h1v1h-1zM15 25h1v1h-1zM29 28h1v1h-1zM17 32h1v1h-1zM20 32h1v1h-1zM4 33h1v1h-1zM69 34h1v1h-1zM4 36h1v1h-1zM70 36h1v1h-1zM28 38h1v1h-1zM49 38h1v1h-1zM39 39h1v1h-1zM51 39h1v1h-1zM62 40h1v1h-1zM68 50h1v1h-1zM71 55h1v1h-1zM46 56h1v1h-1zM28 59h1v1h-1zM27 60h1v1h-1zM29 65h1v1h-1zM35 67h1v1h-1zM56 67h1v1h-1z"/><path fill="#d9a798" d="M19 0h1v1h-1zM58 7h1v1h-1zM68 8h1v1h-1zM20 10h1v1h-1zM69 12h1v1h-1zM64 13h1v1h-1zM48 14h1v1h-1zM56 14h1v1h-1zM69 14h1v1h-1zM39 15h1v1h-1zM41 15h1v1h-1zM68 15h1v1h-1zM40 25h1v1h-1zM37 26h1v1h-1zM43 26h1v1h-1zM45 28h1v1h-1zM36 30h1v1h-1zM46 31h1v1h-1zM27 35h1v1h-1zM41 35h1v1h-1zM5 42h1v1h-1zM36 44h1v1h-1zM68 44h1v1h-1zM3 47h1v1h-1zM7 50h1v1h-1zM28 50h1v1h-1zM61 51h1v1h-1zM20 54h1v1h-1zM1 57h1v1h-1zM4 57h1v1h-1zM68 58h1v1h-1zM9 60h1v1h-1zM11 62h1v1h-1zM21 64h1v1h-1zM37 66h1v1h-1zM4 69h1v1h-1z"/><path fill="#e8cfc5" d="M20 0h1v1h-1zM19 1h1v1h-1zM23 5h1v1h-1zM70 6h1v1h-1zM54 7h1v1h-1zM16 12h1v1h-1zM52 13h1v1h-1zM44 14h2v1h-2zM69 15h1v1h-1zM33 16h1v1h-1zM34 17h1v1h-1zM64 17h1v1h-1zM36 18h1v1h-1zM58 19h1v1h-1zM38 22h1v1h-1zM21 30h1v1h-1zM56 30h1v1h-1zM49 33h1v1h-1zM53 35h1v1h-1zM46 40h1v1h-1zM8 48h1v1h-1zM1 53h1v1h-1zM2 57h1v1h-1zM68 57h1v1h-1zM33 62h1v1h-1zM23 63h1v1h-1zM2 65h1v1h-1zM37 67h1v1h-1zM8 70h1v1h-1zM18 70h1v1h-1z"/><path fill="#edd4cf" d="M21 0h1v1h-1zM49 0h1v1h-1zM68 0h1v1h-1zM21 2h1v1h-1zM12 3h1v1h-1zM19 3h1v1h-1zM36 4h1v1h-1zM31 5h1v1h-1zM51 5h1v1h-1zM56 5h1v1h-1zM67 6h1v1h-1zM22 9h1v1h-1zM55 9h1v1h-1zM68 9h1v1h-1zM12 10h1v1h-1zM22 10h1v1h-1zM48 10h1v1h-1zM50 10h2v1h-2zM9 11h1v1h-1zM34 11h2v1h-2zM52 11h1v1h-1zM70 13h1v1h-1zM68 14h1v1h-1zM34 15h1v1h-1zM32 16h1v1h-1zM62 16h1v1h-1zM30 18h1v1h-1zM63 18h1v1h-1zM60 19h1v1h-1zM61 20h1v1h-1zM68 20h2v1h-2zM71 20h1v1h-1zM61 21h1v1h-1zM31 22h1v1h-1zM71 22h1v1h-1zM30 23h1v1h-1zM61 23h1v1h-1zM36 25h1v1h-1zM63 25h1v1h-1zM33 26h1v1h-1zM33 27h1v1h-1zM33 29h1v1h-1zM19 30h1v1h-1zM33 30h1v1h-1zM35 30h1v1h-1zM38 30h1v1h-1zM58 30h1v1h-1zM24 31h1v1h-1zM31 31h1v1h-1zM59 31h1v1h-1zM26 32h1v1h-1zM55 32h1v1h-1zM41 33h1v1h-1zM43 34h1v1h-1zM8 35h1v1h-1zM15 35h1v1h-1zM34 35h1v1h-1zM67 35h1v1h-1zM41 36h2v1h-2zM44 36h1v1h-1zM51 36h1v1h-1zM55 36h1v1h-1zM38 37h1v1h-1zM41 38h1v1h-1zM45 38h1v1h-1zM37 39h1v1h-1zM57 39h1v1h-1zM62 39h1v1h-1zM17 40h1v1h-1zM49 40h1v1h-1zM15 41h2v1h-2zM38 41h1v1h-1zM48 41h1v1h-1zM0 43h1v1h-1zM10 44h1v1h-1zM12 44h1v1h-1zM71 45h1v1h-1zM31 46h1v1h-1zM65 46h1v1h-1zM30 47h1v1h-1zM16 49h1v1h-1zM61 49h2v1h-2zM17 50h1v1h-1zM8 51h1v1h-1zM31 52h1v1h-1zM10 53h1v1h-1zM36 53h1v1h-1zM2 54h1v1h-1zM21 54h1v1h-1zM22 55h1v1h-1zM58 55h1v1h-1zM36 56h1v1h-1zM70 56h1v1h-1zM19 57h1v1h-1zM59 57h1v1h-1zM6 58h1v1h-1zM57 58h1v1h-1zM8 59h1v1h-1zM22 59h1v1h-1zM2 60h1v1h-1zM17 60h1v1h-1zM18 61h1v1h-1zM22 62h1v1h-1zM60 62h1v1h-1zM9 63h1v1h-1zM20 63h1v1h-1zM36 63h1v1h-1zM9 65h1v1h-1zM59 65h1v1h-1zM57 66h1v1h-1zM10 68h1v1h-1zM38 68h1v1h-1zM8 69h1v1h-1zM28 71h1v1h-1z"/><path fill="#f2dede" d="M22 0h1v1h-1zM37 1h1v1h-1zM30 2h1v1h-1zM49 3h1v1h-1zM49 8h1v1h-1zM33 10h1v1h-1zM41 13h1v1h-1zM67 13h1v1h-1zM67 17h1v1h-1zM69 18h1v1h-1zM32 20h1v1h-1zM33 24h1v1h-1zM66 27h1v1h-1zM69 27h1v1h-1zM71 27h1v1h-1zM66 28h1v1h-1zM69 28h1v1h-1zM66 29h1v1h-1zM20 31h1v1h-1zM33 31h1v1h-1zM8 34h1v1h-1zM70 34h1v1h-1zM3 35h1v1h-1zM7 35h1v1h-1zM7 36h1v1h-1zM58 36h1v1h-1zM40 38h1v1h-1zM47 38h1v1h-1zM70 38h1v1h-1zM47 41h1v1h-1zM71 41h1v1h-1zM2 44h1v1h-1zM6 47h1v1h-1zM28 48h1v1h-1zM0 49h1v1h-1zM64 50h1v1h-1zM67 51h1v1h-1zM2 52h1v1h-1zM6 53h1v1h-1zM63 53h1v1h-1zM7 54h1v1h-1zM6 56h1v1h-1zM22 57h1v1h-1zM23 59h1v1h-1zM37 63h1v1h-1zM36 64h1v1h-1zM18 65h1v1h-1zM24 65h1v1h-1zM7 69h1v1h-1zM19 69h1v1h-1zM27 69h1v1h-1zM22 71h1v1h-1z"/><path fill="#f2f2f7" d="M23 0h1v1h-1zM4 1h1v1h-1zM16 1h1v1h-1zM42 1h3v1h-3zM5 2h1v1h-1zM11 2h1v1h-1zM15 3h1v1h-1zM43 3h2v1h-2zM46 3h1v1h-1zM0 4h1v1h-1zM39 4h1v1h-1zM45 4h1v1h-1zM3 5h1v1h-1zM38 5h2v1h-2zM2 6h1v1h-1zM17 6h1v1h-1zM37 6h1v1h-1zM39 6h2v1h-2zM3 7h3v1h-3zM42 7h1v1h-1zM46 7h1v1h-1zM0 8h1v1h-1zM4 8h1v1h-1zM42 8h1v1h-1zM44 8h1v1h-1zM2 9h1v1h-1zM8 9h1v1h-1zM43 9h1v1h-1zM1 10h1v1h-1zM5 10h2v1h-2zM42 10h2v1h-2zM47 10h1v1h-1zM1 11h1v1h-1zM7 11h1v1h-1zM36 11h1v1h-1zM38 11h1v1h-1zM45 11h1v1h-1zM10 12h1v1h-1zM34 12h1v1h-1zM1 13h1v1h-1zM15 13h1v1h-1zM42 13h1v1h-1zM2 14h1v1h-1zM4 14h1v1h-1zM14 14h1v1h-1zM41 14h1v1h-1zM9 16h3v1h-3zM17 16h1v1h-1zM22 16h1v1h-1zM10 17h1v1h-1zM17 17h1v1h-1zM21 17h1v1h-1zM10 18h1v1h-1zM26 18h1v1h-1zM15 19h1v1h-1zM17 19h1v1h-1zM25 19h1v1h-1zM14 20h1v1h-1zM24 20h1v1h-1zM16 21h2v1h-2zM24 21h1v1h-1zM67 21h1v1h-1zM9 22h1v1h-1zM25 22h1v1h-1zM64 22h1v1h-1zM67 22h1v1h-1zM17 23h1v1h-1zM67 23h1v1h-1zM8 24h1v1h-1zM15 24h1v1h-1zM17 24h1v1h-1zM25 24h2v1h-2zM61 24h1v1h-1zM22 25h1v1h-1zM32 25h1v1h-1zM57 25h1v1h-1zM59 25h1v1h-1zM68 25h1v1h-1zM6 26h1v1h-1zM26 26h1v1h-1zM30 26h1v1h-1zM60 26h1v1h-1zM67 26h1v1h-1zM26 27h1v1h-1zM59 27h1v1h-1zM64 27h2v1h-2zM25 28h1v1h-1zM57 28h2v1h-2zM61 28h2v1h-2zM65 28h1v1h-1zM15 29h2v1h-2zM24 29h1v1h-1zM61 29h1v1h-1zM65 29h1v1h-1zM4 30h1v1h-1zM18 30h1v1h-1zM31 30h1v1h-1zM5 31h2v1h-2zM65 31h1v1h-1zM0 32h1v1h-1zM4 32h1v1h-1zM8 32h1v1h-1zM14 32h1v1h-1zM32 32h1v1h-1zM65 32h3v1h-3zM2 33h1v1h-1zM7 33h1v1h-1zM9 33h1v1h-1zM60 33h1v1h-1zM66 33h1v1h-1zM3 34h1v1h-1zM65 34h1v1h-1zM9 35h2v1h-2zM12 35h1v1h-1zM14 35h1v1h-1zM60 35h1v1h-1zM12 36h1v1h-1zM60 36h1v1h-1zM66 36h1v1h-1zM71 36h1v1h-1zM15 37h1v1h-1zM20 37h1v1h-1zM25 37h1v1h-1zM28 37h2v1h-2zM62 37h1v1h-1zM10 38h2v1h-2zM17 38h1v1h-1zM19 38h1v1h-1zM25 38h1v1h-1zM27 38h1v1h-1zM29 38h1v1h-1zM65 38h2v1h-2zM68 38h2v1h-2zM8 39h1v1h-1zM53 39h1v1h-1zM68 39h1v1h-1zM7 40h2v1h-2zM51 40h1v1h-1zM65 40h1v1h-1zM68 40h1v1h-1zM70 40h2v1h-2zM18 41h1v1h-1zM56 41h1v1h-1zM60 41h1v1h-1zM62 41h1v1h-1zM68 41h1v1h-1zM8 44h1v1h-1zM39 44h1v1h-1zM55 44h1v1h-1zM13 45h1v1h-1zM39 45h1v1h-1zM9 46h1v1h-1zM11 46h1v1h-1zM33 46h2v1h-2zM10 47h1v1h-1zM34 48h1v1h-1zM40 48h1v1h-1zM42 48h1v1h-1zM53 48h1v1h-1zM56 48h1v1h-1zM35 49h1v1h-1zM41 49h1v1h-1zM47 49h1v1h-1zM52 49h1v1h-1zM69 49h2v1h-2zM33 50h1v1h-1zM45 50h1v1h-1zM66 50h1v1h-1zM70 50h1v1h-1zM66 51h1v1h-1zM70 51h1v1h-1zM32 52h1v1h-1zM69 52h1v1h-1zM64 53h1v1h-1zM33 54h1v1h-1zM47 54h2v1h-2zM50 54h1v1h-1zM52 54h1v1h-1zM65 54h1v1h-1zM30 55h1v1h-1zM32 55h1v1h-1zM42 55h1v1h-1zM50 55h1v1h-1zM34 56h1v1h-1zM42 56h1v1h-1zM47 56h1v1h-1zM52 56h1v1h-1zM27 57h1v1h-1zM42 57h1v1h-1zM50 57h2v1h-2zM28 58h1v1h-1zM41 58h1v1h-1zM43 58h1v1h-1zM35 59h1v1h-1zM46 59h1v1h-1zM23 60h1v1h-1zM25 60h1v1h-1zM43 60h2v1h-2zM55 60h1v1h-1zM64 60h2v1h-2zM71 60h1v1h-1zM24 61h1v1h-1zM27 61h1v1h-1zM39 61h1v1h-1zM41 61h1v1h-1zM46 61h1v1h-1zM53 61h3v1h-3zM59 61h1v1h-1zM70 61h1v1h-1zM25 62h1v1h-1zM27 62h3v1h-3zM39 62h1v1h-1zM43 62h1v1h-1zM49 62h1v1h-1zM55 62h1v1h-1zM70 62h1v1h-1zM54 63h2v1h-2zM62 63h1v1h-1zM70 63h1v1h-1zM38 64h1v1h-1zM60 64h1v1h-1zM11 65h1v1h-1zM27 65h1v1h-1zM33 65h2v1h-2zM46 65h1v1h-1zM55 65h1v1h-1zM61 65h1v1h-1zM15 66h1v1h-1zM56 66h1v1h-1zM60 66h1v1h-1zM69 66h1v1h-1zM14 67h1v1h-1zM58 67h1v1h-1zM62 67h1v1h-1zM70 67h1v1h-1zM13 68h1v1h-1zM17 68h1v1h-1zM55 68h1v1h-1zM65 68h1v1h-1zM11 69h1v1h-1zM14 69h1v1h-1zM16 69h1v1h-1zM30 69h1v1h-1zM35 69h1v1h-1zM38 69h1v1h-1zM57 69h1v1h-1zM62 69h1v1h-1zM12 70h1v1h-1zM15 70h1v1h-1zM26 70h1v1h-1zM34 70h1v1h-1zM58 70h1v1h-1zM60 70h2v1h-2zM13 71h1v1h-1zM25 71h1v1h-1zM31 71h2v1h-2zM39 71h1v1h-1z"/><path fill="#cf8975" d="M24 0h1v1h-1zM54 0h1v1h-1zM26 2h1v1h-1zM58 2h1v1h-1zM60 2h1v1h-1zM64 2h1v1h-1zM59 4h1v1h-1zM60 5h1v1h-1zM65 5h1v1h-1zM61 6h1v1h-1zM57 7h1v1h-1zM27 11h2v1h-2zM63 11h1v1h-1zM29 12h1v1h-1zM64 14h1v1h-1zM40 15h1v1h-1zM48 15h1v1h-1zM45 17h1v1h-1zM49 20h1v1h-1zM39 21h1v1h-1zM51 22h1v1h-1zM46 23h1v1h-1zM56 23h1v1h-1zM48 25h1v1h-1zM54 26h1v1h-1zM49 31h1v1h-1zM22 34h1v1h-1zM20 35h1v1h-1zM32 42h1v1h-1zM59 42h1v1h-1zM60 43h1v1h-1zM31 44h1v1h-1zM60 44h1v1h-1zM59 46h1v1h-1zM20 49h1v1h-1zM37 49h1v1h-1zM19 51h1v1h-1zM16 52h1v1h-1zM20 52h1v1h-1zM16 54h1v1h-1zM57 54h1v1h-1zM12 55h2v1h-2zM17 55h1v1h-1zM60 58h1v1h-1zM5 63h1v1h-1zM2 66h1v1h-1zM8 66h1v1h-1z"/><path fill="#d49884" d="M25 0h1v1h-1zM59 0h1v1h-1zM25 2h1v1h-1zM71 3h1v1h-1zM70 5h1v1h-1zM27 6h1v1h-1zM58 9h1v1h-1zM29 11h1v1h-1zM62 13h1v1h-1zM58 17h1v1h-1zM35 19h1v1h-1zM24 42h1v1h-1zM60 42h1v1h-1zM65 44h1v1h-1zM58 45h1v1h-1zM0 46h1v1h-1zM62 46h1v1h-1zM29 47h1v1h-1zM57 48h1v1h-1zM19 54h1v1h-1zM20 57h1v1h-1z"/><path fill="#c57a61" d="M26 0h1v1h-1zM24 1h1v1h-1zM30 9h1v1h-1zM30 10h1v1h-1zM58 12h1v1h-1zM21 13h1v1h-1zM25 13h1v1h-1zM59 13h1v1h-1zM29 14h1v1h-1zM40 16h1v1h-1zM48 16h1v1h-1zM44 17h1v1h-1zM49 18h1v1h-1zM51 18h1v1h-1zM53 20h1v1h-1zM46 22h1v1h-1zM53 22h1v1h-1zM55 23h1v1h-1zM49 25h1v1h-1zM54 27h1v1h-1zM37 31h1v1h-1zM40 34h1v1h-1zM45 35h1v1h-1zM14 41h1v1h-1zM57 42h1v1h-1zM19 43h1v1h-1zM20 44h1v1h-1zM57 46h1v1h-1zM19 49h1v1h-1zM23 53h1v1h-1zM12 56h1v1h-1zM30 57h1v1h-1zM9 58h1v1h-1zM13 62h1v1h-1z"/><path fill="#e3bbb1" d="M27 0h1v1h-1zM66 0h2v1h-2zM66 1h2v1h-2zM52 3h2v1h-2zM30 4h1v1h-1zM48 6h1v1h-1zM54 6h1v1h-1zM55 7h1v1h-1zM71 7h1v1h-1zM20 9h1v1h-1zM53 9h1v1h-1zM71 9h1v1h-1zM14 10h1v1h-1zM55 10h1v1h-1zM71 10h1v1h-1zM12 11h1v1h-1zM71 11h1v1h-1zM54 13h1v1h-1zM36 15h1v1h-1zM61 16h1v1h-1zM64 16h1v1h-1zM67 16h1v1h-1zM70 16h1v1h-1zM41 17h1v1h-1zM65 17h1v1h-1zM70 17h1v1h-1zM33 18h1v1h-1zM35 18h1v1h-1zM38 18h1v1h-1zM62 18h1v1h-1zM34 19h1v1h-1zM36 19h1v1h-1zM34 23h2v1h-2zM34 24h1v1h-1zM38 24h1v1h-1zM37 28h1v1h-1zM44 30h1v1h-1zM55 31h1v1h-1zM49 32h1v1h-1zM45 33h1v1h-1zM53 33h1v1h-1zM29 34h1v1h-1zM52 35h1v1h-1zM56 35h1v1h-1zM47 37h1v1h-1zM58 37h1v1h-1zM36 38h1v1h-1zM58 40h1v1h-1zM59 41h1v1h-1zM12 42h2v1h-2zM37 42h1v1h-1zM70 42h1v1h-1zM4 43h1v1h-1zM9 43h1v1h-1zM12 43h1v1h-1zM33 43h1v1h-1zM66 44h1v1h-1zM61 45h1v1h-1zM63 46h1v1h-1zM2 47h1v1h-1zM62 47h2v1h-2zM4 49h1v1h-1zM29 49h1v1h-1zM3 51h1v1h-1zM24 51h1v1h-1zM62 51h1v1h-1zM1 52h1v1h-1zM0 53h1v1h-1zM68 56h1v1h-1zM18 57h1v1h-1zM67 57h1v1h-1zM20 58h1v1h-1zM1 59h1v1h-1zM59 59h1v1h-1zM8 61h1v1h-1zM6 62h1v1h-1zM2 64h1v1h-1zM5 65h1v1h-1zM6 66h1v1h-1zM36 66h1v1h-1zM22 67h1v1h-1zM20 68h1v1h-1zM36 68h1v1h-1zM5 69h1v1h-1zM19 70h1v1h-1zM18 71h1v1h-1z"/><path fill="#ca8470" d="M28 0h1v1h-1zM61 0h1v1h-1zM64 0h1v1h-1zM70 0h1v1h-1zM25 1h1v1h-1zM54 1h1v1h-1zM64 1h1v1h-1zM71 1h1v1h-1zM52 2h1v1h-1zM57 4h1v1h-1zM61 5h1v1h-1zM36 12h1v1h-1zM53 14h1v1h-1zM42 16h1v1h-1zM47 16h1v1h-1zM49 17h1v1h-1zM57 18h1v1h-1zM48 20h1v1h-1zM41 21h1v1h-1zM54 22h1v1h-1zM51 23h1v1h-1zM46 24h1v1h-1zM55 24h1v1h-1zM47 25h1v1h-1zM42 26h1v1h-1zM51 27h1v1h-1zM45 29h1v1h-1zM55 29h1v1h-1zM50 31h1v1h-1zM37 33h1v1h-1zM21 34h1v1h-1zM38 34h1v1h-1zM59 35h1v1h-1zM12 39h1v1h-1zM34 39h1v1h-1zM11 40h1v1h-1zM20 43h1v1h-1zM18 45h1v1h-1zM1 46h1v1h-1zM23 46h1v1h-1zM68 46h1v1h-1zM18 47h1v1h-1zM26 49h1v1h-1zM37 50h1v1h-1zM32 59h1v1h-1zM0 60h1v1h-1zM31 60h1v1h-1zM0 64h1v1h-1zM3 66h1v1h-1zM5 68h1v1h-1z"/><path fill="#c0705c" d="M29 0h1v1h-1zM69 0h1v1h-1zM53 1h1v1h-1zM69 1h1v1h-1zM59 2h1v1h-1zM70 2h2v1h-2zM57 3h1v1h-1zM65 4h1v1h-1zM24 6h1v1h-1zM31 9h1v1h-1zM59 9h1v1h-1zM62 12h1v1h-1zM42 15h1v1h-1zM52 15h1v1h-1zM45 16h1v1h-1zM49 16h1v1h-1zM46 18h1v1h-1zM48 18h1v1h-1zM50 18h1v1h-1zM48 19h1v1h-1zM56 19h1v1h-1zM40 20h1v1h-1zM43 20h1v1h-1zM53 21h1v1h-1zM55 22h1v1h-1zM52 23h2v1h-2zM40 26h1v1h-1zM55 26h1v1h-1zM56 29h1v1h-1zM40 30h1v1h-1zM21 31h2v1h-2zM41 31h2v1h-2zM45 31h1v1h-1zM51 31h1v1h-1zM36 33h1v1h-1zM38 35h1v1h-1zM9 40h1v1h-1zM12 40h1v1h-1zM68 42h1v1h-1zM18 43h1v1h-1zM21 43h2v1h-2zM30 43h1v1h-1zM19 46h2v1h-2zM67 46h1v1h-1zM22 48h1v1h-1zM23 49h1v1h-1zM19 50h1v1h-1zM15 52h1v1h-1zM18 52h1v1h-1zM19 53h1v1h-1zM10 59h1v1h-1zM31 59h1v1h-1zM12 61h1v1h-1zM0 62h1v1h-1zM31 62h1v1h-1zM5 64h1v1h-1zM7 66h1v1h-1zM0 69h1v1h-1zM5 70h1v1h-1zM2 71h2v1h-2zM5 71h1v1h-1z"/><path fill="#e3c0bb" d="M30 0h1v1h-1zM53 5h1v1h-1zM55 11h2v1h-2zM50 14h1v1h-1zM60 15h1v1h-1zM60 16h1v1h-1zM64 26h1v1h-1zM15 44h1v1h-1zM15 45h1v1h-1zM4 61h2v1h-2zM27 66h1v1h-1z"/><path fill="#f7eded" d="M31 0h1v1h-1zM45 0h1v1h-1zM45 1h1v1h-1zM38 2h1v1h-1zM50 2h1v1h-1zM35 3h1v1h-1zM45 3h1v1h-1zM34 4h1v1h-1zM50 4h1v1h-1zM41 5h1v1h-1zM49 5h1v1h-1zM3 6h1v1h-1zM21 6h1v1h-1zM33 6h1v1h-1zM66 7h1v1h-1zM16 10h1v1h-1zM41 10h1v1h-1zM32 12h1v1h-1zM41 12h1v1h-1zM44 12h1v1h-1zM67 12h1v1h-1zM39 13h1v1h-1zM66 13h1v1h-1zM68 13h1v1h-1zM40 14h1v1h-1zM66 15h1v1h-1zM69 19h1v1h-1zM63 20h1v1h-1zM66 20h1v1h-1zM69 21h1v1h-1zM31 23h1v1h-1zM15 26h1v1h-1zM68 26h1v1h-1zM70 26h2v1h-2zM68 27h1v1h-1zM70 27h1v1h-1zM15 30h1v1h-1zM20 30h1v1h-1zM66 30h1v1h-1zM71 30h1v1h-1zM26 31h1v1h-1zM25 32h1v1h-1zM38 32h1v1h-1zM69 32h1v1h-1zM35 33h1v1h-1zM39 33h1v1h-1zM42 33h1v1h-1zM69 33h1v1h-1zM15 34h1v1h-1zM24 34h1v1h-1zM33 34h1v1h-1zM44 34h1v1h-1zM6 35h1v1h-1zM3 36h1v1h-1zM43 36h1v1h-1zM43 37h1v1h-1zM51 37h1v1h-1zM56 37h1v1h-1zM66 37h1v1h-1zM71 37h1v1h-1zM7 38h1v1h-1zM42 38h1v1h-1zM44 38h1v1h-1zM43 39h1v1h-1zM48 40h1v1h-1zM6 43h1v1h-1zM2 48h1v1h-1zM1 49h1v1h-1zM46 49h1v1h-1zM55 49h1v1h-1zM15 50h1v1h-1zM63 50h1v1h-1zM55 51h1v1h-1zM6 52h1v1h-1zM9 52h2v1h-2zM55 52h1v1h-1zM64 52h1v1h-1zM9 55h1v1h-1zM61 55h1v1h-1zM70 55h1v1h-1zM21 56h1v1h-1zM37 56h1v1h-1zM45 56h1v1h-1zM29 57h1v1h-1zM38 57h1v1h-1zM23 58h1v1h-1zM36 59h1v1h-1zM33 60h1v1h-1zM19 61h1v1h-1zM19 62h1v1h-1zM33 63h1v1h-1zM29 64h1v1h-1zM19 65h1v1h-1zM36 65h1v1h-1zM10 66h1v1h-1zM35 68h1v1h-1zM59 68h1v1h-1zM9 69h1v1h-1zM23 69h1v1h-1zM11 70h1v1h-1zM22 70h1v1h-1zM9 71h1v1h-1z"/><path fill="#f7ede8" d="M35 0h1v1h-1zM9 1h1v1h-1zM21 1h1v1h-1zM37 3h1v1h-1zM13 5h1v1h-1zM21 11h1v1h-1zM23 11h1v1h-1zM35 12h1v1h-1zM43 12h1v1h-1zM11 13h1v1h-1zM16 13h1v1h-1zM30 13h1v1h-1zM30 15h1v1h-1zM14 21h1v1h-1zM58 24h1v1h-1zM58 25h1v1h-1zM70 29h1v1h-1zM16 31h1v1h-1zM6 32h1v1h-1zM24 32h1v1h-1zM68 34h1v1h-1zM26 35h1v1h-1zM6 36h1v1h-1zM10 37h1v1h-1zM71 38h1v1h-1zM60 40h1v1h-1zM60 48h1v1h-1zM60 50h1v1h-1zM30 53h1v1h-1zM54 54h1v1h-1zM58 59h1v1h-1zM58 60h1v1h-1zM28 63h1v1h-1zM41 65h1v1h-1zM11 68h1v1h-1zM55 69h1v1h-1z"/><path fill="#f2e8e8" d="M36 0h2v1h-2zM10 1h1v1h-1zM22 1h1v1h-1zM32 1h1v1h-1zM49 1h2v1h-2zM19 2h1v1h-1zM22 2h1v1h-1zM32 2h1v1h-1zM49 2h1v1h-1zM33 3h1v1h-1zM33 4h1v1h-1zM38 4h1v1h-1zM48 4h2v1h-2zM19 5h1v1h-1zM35 5h1v1h-1zM43 5h1v1h-1zM45 5h1v1h-1zM16 7h1v1h-1zM48 7h1v1h-1zM4 9h1v1h-1zM35 9h1v1h-1zM10 10h1v1h-1zM16 11h1v1h-1zM47 11h1v1h-1zM66 11h1v1h-1zM31 12h1v1h-1zM39 12h1v1h-1zM42 12h1v1h-1zM32 13h1v1h-1zM32 18h1v1h-1zM68 18h1v1h-1zM64 20h1v1h-1zM67 20h1v1h-1zM57 21h2v1h-2zM70 21h1v1h-1zM58 22h1v1h-1zM69 22h2v1h-2zM66 23h1v1h-1zM60 24h1v1h-1zM17 25h1v1h-1zM57 26h2v1h-2zM66 26h1v1h-1zM32 27h1v1h-1zM57 27h1v1h-1zM63 27h1v1h-1zM71 28h1v1h-1zM63 29h1v1h-1zM25 30h1v1h-1zM69 30h1v1h-1zM15 31h1v1h-1zM9 32h2v1h-2zM15 32h1v1h-1zM18 32h1v1h-1zM67 33h1v1h-1zM7 34h1v1h-1zM16 34h1v1h-1zM71 34h1v1h-1zM5 35h1v1h-1zM32 35h1v1h-1zM71 35h1v1h-1zM53 36h1v1h-1zM54 37h1v1h-1zM18 38h1v1h-1zM55 38h1v1h-1zM17 41h1v1h-1zM45 41h2v1h-2zM52 41h1v1h-1zM2 42h1v1h-1zM6 42h1v1h-1zM11 43h1v1h-1zM7 46h1v1h-1zM54 48h1v1h-1zM66 48h1v1h-1zM15 49h1v1h-1zM63 49h1v1h-1zM7 51h1v1h-1zM9 51h1v1h-1zM28 51h1v1h-1zM71 51h1v1h-1zM8 52h1v1h-1zM29 52h1v1h-1zM70 52h1v1h-1zM46 54h1v1h-1zM55 54h1v1h-1zM37 55h1v1h-1zM60 55h1v1h-1zM64 55h1v1h-1zM22 56h1v1h-1zM58 56h1v1h-1zM38 58h1v1h-1zM21 59h1v1h-1zM22 60h1v1h-1zM28 61h1v1h-1zM61 61h1v1h-1zM20 62h1v1h-1zM38 62h1v1h-1zM19 63h1v1h-1zM20 64h1v1h-1zM25 64h1v1h-1zM37 64h1v1h-1zM25 66h1v1h-1zM10 67h1v1h-1zM24 67h1v1h-1zM57 67h1v1h-1zM29 68h1v1h-1zM29 69h1v1h-1zM31 69h1v1h-1z"/><path fill="#f7f2f2" d="M39 0h1v1h-1zM39 1h1v1h-1zM43 2h1v1h-1zM7 3h1v1h-1zM17 3h1v1h-1zM41 3h1v1h-1zM47 3h1v1h-1zM41 4h1v1h-1zM9 5h2v1h-2zM33 5h1v1h-1zM44 5h1v1h-1zM13 6h1v1h-1zM10 7h2v1h-2zM16 8h1v1h-1zM48 8h1v1h-1zM5 9h1v1h-1zM39 9h1v1h-1zM17 10h1v1h-1zM67 10h1v1h-1zM5 11h1v1h-1zM1 12h1v1h-1zM4 12h1v1h-1zM6 12h1v1h-1zM14 12h2v1h-2zM2 13h1v1h-1zM33 13h1v1h-1zM1 14h1v1h-1zM5 14h1v1h-1zM11 14h1v1h-1zM13 14h1v1h-1zM39 14h1v1h-1zM12 15h1v1h-1zM38 17h1v1h-1zM31 18h1v1h-1zM66 19h1v1h-1zM31 20h1v1h-1zM31 21h1v1h-1zM65 22h1v1h-1zM13 23h1v1h-1zM68 24h1v1h-1zM32 26h1v1h-1zM16 27h1v1h-1zM38 28h1v1h-1zM68 28h1v1h-1zM70 28h1v1h-1zM64 29h1v1h-1zM32 30h1v1h-1zM67 30h2v1h-2zM10 31h2v1h-2zM19 31h1v1h-1zM34 31h1v1h-1zM28 32h1v1h-1zM30 32h2v1h-2zM0 33h2v1h-2zM11 33h2v1h-2zM54 33h1v1h-1zM4 34h1v1h-1zM6 34h1v1h-1zM12 34h1v1h-1zM69 36h1v1h-1zM12 37h1v1h-1zM26 37h1v1h-1zM40 37h1v1h-1zM70 37h1v1h-1zM9 38h1v1h-1zM12 38h1v1h-1zM26 38h1v1h-1zM52 38h1v1h-1zM55 39h1v1h-1zM50 40h1v1h-1zM42 41h1v1h-1zM2 43h1v1h-1zM1 44h1v1h-1zM34 44h1v1h-1zM14 45h1v1h-1zM33 45h2v1h-2zM16 46h1v1h-1zM7 47h1v1h-1zM6 48h1v1h-1zM15 48h2v1h-2zM27 48h1v1h-1zM64 48h1v1h-1zM67 49h1v1h-1zM0 50h1v1h-1zM54 50h1v1h-1zM69 50h1v1h-1zM71 50h1v1h-1zM11 51h1v1h-1zM31 51h1v1h-1zM54 51h1v1h-1zM68 52h1v1h-1zM54 53h2v1h-2zM65 53h1v1h-1zM61 54h1v1h-1zM6 55h1v1h-1zM8 55h1v1h-1zM23 55h1v1h-1zM44 55h1v1h-1zM56 55h1v1h-1zM63 55h1v1h-1zM9 56h1v1h-1zM23 56h1v1h-1zM37 57h1v1h-1zM21 58h1v1h-1zM65 58h1v1h-1zM33 59h2v1h-2zM47 59h1v1h-1zM56 59h1v1h-1zM20 60h1v1h-1zM37 60h1v1h-1zM57 60h1v1h-1zM66 61h1v1h-1zM71 61h1v1h-1zM66 62h1v1h-1zM35 63h1v1h-1zM59 63h1v1h-1zM24 64h1v1h-1zM58 64h1v1h-1zM68 64h1v1h-1zM14 65h1v1h-1zM23 65h1v1h-1zM37 65h1v1h-1zM58 66h1v1h-1zM10 69h1v1h-1zM28 69h1v1h-1zM34 69h1v1h-1zM58 69h1v1h-1zM25 70h1v1h-1zM27 70h1v1h-1zM38 70h1v1h-1zM57 70h1v1h-1zM59 70h1v1h-1zM21 71h1v1h-1zM26 71h1v1h-1zM38 71h1v1h-1z"/><path fill="#e8cac0" d="M40 0h1v1h-1zM23 3h1v1h-1zM58 5h1v1h-1zM21 7h1v1h-1zM19 8h1v1h-1zM70 9h1v1h-1zM56 10h1v1h-1zM68 11h1v1h-1zM56 12h1v1h-1zM37 13h1v1h-1zM38 15h1v1h-1zM61 15h1v1h-1zM34 18h1v1h-1zM71 19h1v1h-1zM57 22h1v1h-1zM34 27h1v1h-1zM37 27h1v1h-1zM67 27h1v1h-1zM56 31h1v1h-1zM56 32h1v1h-1zM56 33h1v1h-1zM35 34h1v1h-1zM58 34h1v1h-1zM17 35h1v1h-1zM29 35h1v1h-1zM40 39h1v1h-1zM59 39h1v1h-1zM37 41h1v1h-1zM16 42h1v1h-1zM36 42h1v1h-1zM7 43h1v1h-1zM69 44h1v1h-1zM7 45h1v1h-1zM65 45h1v1h-1zM63 51h1v1h-1zM36 54h1v1h-1zM1 55h1v1h-1zM4 55h1v1h-1zM0 59h1v1h-1zM2 59h1v1h-1zM4 59h1v1h-1zM21 60h1v1h-1zM26 64h1v1h-1zM24 68h1v1h-1zM8 71h1v1h-1z"/><path fill="#edded9" d="M41 0h1v1h-1zM18 1h1v1h-1zM35 1h1v1h-1zM46 1h1v1h-1zM39 2h1v1h-1zM9 3h1v1h-1zM34 3h1v1h-1zM11 4h2v1h-2zM30 5h1v1h-1zM54 5h1v1h-1zM49 7h1v1h-1zM33 9h1v1h-1zM23 10h1v1h-1zM68 12h1v1h-1zM55 13h1v1h-1zM16 14h1v1h-1zM67 15h1v1h-1zM33 17h1v1h-1zM66 18h2v1h-2zM30 20h1v1h-1zM33 23h1v1h-1zM38 23h1v1h-1zM31 25h1v1h-1zM41 25h1v1h-1zM70 25h1v1h-1zM38 26h1v1h-1zM32 28h1v1h-1zM37 29h1v1h-1zM6 30h1v1h-1zM28 30h1v1h-1zM46 30h1v1h-1zM54 30h1v1h-1zM59 30h1v1h-1zM62 32h1v1h-1zM17 33h1v1h-1zM48 33h1v1h-1zM31 34h1v1h-1zM4 35h1v1h-1zM25 35h1v1h-1zM43 35h1v1h-1zM50 36h1v1h-1zM59 37h1v1h-1zM8 38h1v1h-1zM51 38h1v1h-1zM16 39h1v1h-1zM38 40h1v1h-1zM8 42h1v1h-1zM11 42h1v1h-1zM32 45h1v1h-1zM70 45h1v1h-1zM3 46h1v1h-1zM61 48h1v1h-1zM70 48h1v1h-1zM8 49h1v1h-1zM2 53h1v1h-1zM9 54h1v1h-1zM38 54h1v1h-1zM27 58h1v1h-1zM7 59h1v1h-1zM37 59h1v1h-1zM38 60h1v1h-1zM67 60h1v1h-1zM21 61h1v1h-1zM37 62h1v1h-1zM68 62h1v1h-1zM22 63h1v1h-1zM57 63h1v1h-1zM9 64h1v1h-1zM59 66h1v1h-1zM29 67h1v1h-1zM59 67h1v1h-1zM18 69h1v1h-1zM11 71h1v1h-1z"/><path fill="#f2ede8" d="M46 0h1v1h-1zM20 1h1v1h-1zM14 4h1v1h-1zM47 7h1v1h-1zM33 8h1v1h-1zM46 11h1v1h-1zM60 25h1v1h-1zM71 25h1v1h-1zM3 33h1v1h-1zM43 40h1v1h-1zM69 48h1v1h-1zM58 57h1v1h-1zM12 63h1v1h-1z"/><path fill="#f7f2ed" d="M47 0h1v1h-1zM15 1h1v1h-1zM31 1h1v1h-1zM40 2h1v1h-1zM37 5h1v1h-1zM42 5h1v1h-1zM50 7h1v1h-1zM40 12h1v1h-1zM71 24h1v1h-1zM13 30h1v1h-1zM66 34h1v1h-1zM61 39h1v1h-1zM56 40h1v1h-1zM61 41h1v1h-1zM32 47h1v1h-1zM67 52h1v1h-1zM10 65h1v1h-1zM25 67h1v1h-1z"/><path fill="#fcf7fc" d="M48 0h1v1h-1zM14 3h1v1h-1zM43 4h1v1h-1zM1 5h1v1h-1zM12 5h1v1h-1zM15 5h1v1h-1zM45 6h1v1h-1zM47 6h1v1h-1zM17 7h1v1h-1zM6 11h1v1h-1zM43 11h1v1h-1zM23 17h1v1h-1zM17 20h1v1h-1zM71 23h1v1h-1zM30 25h1v1h-1zM24 28h1v1h-1zM60 28h1v1h-1zM17 30h1v1h-1zM60 30h1v1h-1zM13 33h1v1h-1zM34 33h1v1h-1zM33 35h1v1h-1zM31 37h1v1h-1zM42 37h1v1h-1zM27 41h1v1h-1zM51 41h1v1h-1zM6 45h1v1h-1zM33 49h1v1h-1zM66 49h1v1h-1zM6 51h1v1h-1zM56 51h1v1h-1zM63 52h1v1h-1zM66 52h1v1h-1zM51 54h1v1h-1zM64 54h1v1h-1zM59 58h1v1h-1zM23 62h1v1h-1zM47 62h1v1h-1zM27 64h1v1h-1zM20 65h1v1h-1zM26 65h1v1h-1zM39 65h1v1h-1zM57 65h1v1h-1zM60 65h1v1h-1zM54 69h1v1h-1zM9 70h1v1h-1z"/><path fill="#e8cac5" d="M50 0h1v1h-1zM23 1h1v1h-1zM10 3h1v1h-1zM18 3h1v1h-1zM23 4h1v1h-1zM35 6h1v1h-1zM49 6h1v1h-1zM55 6h2v1h-2zM69 6h1v1h-1zM32 7h1v1h-1zM68 7h1v1h-1zM22 8h1v1h-1zM21 9h1v1h-1zM17 12h1v1h-1zM54 12h1v1h-1zM70 12h1v1h-1zM33 15h1v1h-1zM65 15h1v1h-1zM38 16h1v1h-1zM65 16h1v1h-1zM30 19h1v1h-1zM70 19h1v1h-1zM32 21h3v1h-3zM71 21h1v1h-1zM34 22h1v1h-1zM68 29h1v1h-1zM33 32h1v1h-1zM55 33h1v1h-1zM35 35h1v1h-1zM39 38h1v1h-1zM50 39h1v1h-1zM34 42h1v1h-1zM4 44h1v1h-1zM4 46h1v1h-1zM37 47h1v1h-1zM5 48h1v1h-1zM1 50h1v1h-1zM27 50h1v1h-1zM62 50h1v1h-1zM28 53h1v1h-1zM1 54h1v1h-1zM18 54h1v1h-1zM3 55h1v1h-1zM10 55h1v1h-1zM66 56h1v1h-1zM68 61h1v1h-1zM10 64h1v1h-1zM23 66h1v1h-1zM38 66h1v1h-1zM21 70h1v1h-1z"/><path fill="#c57561" d="M51 0h1v1h-1zM55 0h1v1h-1zM28 1h1v1h-1zM28 2h1v1h-1zM51 2h1v1h-1zM54 2h1v1h-1zM28 5h1v1h-1zM25 6h1v1h-1zM27 7h1v1h-1zM64 9h1v1h-1zM28 10h1v1h-1zM31 11h1v1h-1zM57 11h1v1h-1zM60 14h1v1h-1zM50 19h2v1h-2zM46 20h1v1h-1zM52 20h1v1h-1zM52 21h1v1h-1zM39 23h1v1h-1zM52 26h1v1h-1zM39 27h1v1h-1zM53 27h1v1h-1zM42 28h1v1h-1zM43 29h1v1h-1zM45 34h1v1h-1zM30 39h2v1h-2zM33 39h1v1h-1zM32 40h1v1h-1zM34 40h1v1h-1zM10 41h1v1h-1zM12 41h1v1h-1zM32 41h1v1h-1zM21 42h1v1h-1zM61 43h1v1h-1zM67 43h1v1h-1zM64 44h1v1h-1zM24 49h1v1h-1zM13 53h1v1h-1zM15 55h1v1h-1zM16 56h1v1h-1zM9 57h1v1h-1zM62 57h1v1h-1zM30 59h1v1h-1zM30 61h1v1h-1zM14 62h1v1h-1zM3 63h1v1h-1zM2 67h1v1h-1zM8 68h1v1h-1z"/><path fill="#bb6652" d="M52 0h1v1h-1zM71 0h1v1h-1zM63 1h1v1h-1zM70 1h1v1h-1zM69 2h1v1h-1zM68 3h1v1h-1zM67 4h1v1h-1zM69 4h1v1h-1zM29 5h1v1h-1zM66 5h1v1h-1zM65 6h1v1h-1zM64 7h1v1h-1zM57 8h1v1h-1zM32 9h1v1h-1zM57 9h1v1h-1zM63 9h1v1h-1zM25 10h1v1h-1zM60 11h1v1h-1zM28 12h1v1h-1zM58 13h1v1h-1zM20 14h1v1h-1zM23 14h1v1h-1zM62 14h2v1h-2zM52 18h2v1h-2zM52 19h2v1h-2zM51 20h1v1h-1zM50 21h1v1h-1zM52 24h1v1h-1zM46 25h1v1h-1zM43 28h1v1h-1zM41 30h1v1h-1zM36 31h1v1h-1zM39 31h1v1h-1zM39 32h2v1h-2zM38 33h1v1h-1zM40 35h1v1h-1zM35 36h1v1h-1zM34 37h1v1h-1zM33 38h1v1h-1zM32 39h1v1h-1zM10 40h1v1h-1zM31 40h1v1h-1zM9 41h1v1h-1zM30 41h1v1h-1zM27 43h1v1h-1zM59 43h1v1h-1zM27 44h2v1h-2zM67 47h1v1h-1zM21 48h1v1h-1zM23 48h1v1h-1zM20 50h1v1h-1zM23 50h1v1h-1zM20 51h1v1h-1zM57 51h1v1h-1zM19 52h1v1h-1zM18 53h1v1h-1zM17 54h1v1h-1zM16 55h1v1h-1zM14 56h2v1h-2zM62 58h1v1h-1zM11 60h1v1h-1zM10 61h1v1h-1zM31 61h1v1h-1zM9 62h1v1h-1zM30 62h1v1h-1zM6 65h1v1h-1zM5 66h1v1h-1zM4 67h1v1h-1zM3 68h1v1h-1zM2 69h1v1h-1z"/><path fill="#c07057" d="M53 0h1v1h-1zM27 3h1v1h-1zM62 5h1v1h-1zM26 6h1v1h-1zM60 6h1v1h-1zM64 6h1v1h-1zM65 7h1v1h-1zM59 8h1v1h-1zM63 12h1v1h-1zM41 29h1v1h-1zM37 36h1v1h-1zM57 50h1v1h-1zM13 56h1v1h-1zM3 67h1v1h-1zM4 68h1v1h-1z"/><path fill="#ca7a66" d="M56 0h1v1h-1zM56 1h1v1h-1zM62 2h1v1h-1zM69 3h1v1h-1zM25 5h1v1h-1zM27 14h1v1h-1zM45 15h1v1h-1zM51 15h1v1h-1zM59 16h1v1h-1zM51 17h1v1h-1zM46 19h1v1h-1zM54 20h1v1h-1zM56 20h1v1h-1zM41 23h1v1h-1zM44 24h1v1h-1zM53 26h1v1h-1zM56 26h1v1h-1zM47 27h1v1h-1zM51 29h1v1h-1zM47 34h1v1h-1zM20 42h1v1h-1zM25 42h1v1h-1zM31 42h1v1h-1zM32 43h1v1h-1zM30 44h1v1h-1zM57 44h1v1h-1zM23 45h1v1h-1zM29 46h1v1h-1zM19 47h1v1h-1zM59 49h1v1h-1zM12 52h1v1h-1zM60 57h1v1h-1zM9 59h1v1h-1zM12 62h1v1h-1zM1 64h1v1h-1zM2 68h1v1h-1z"/><path fill="#ca7f6b" d="M57 0h1v1h-1zM26 1h1v1h-1zM55 1h1v1h-1zM56 3h1v1h-1zM59 3h1v1h-1zM29 10h1v1h-1zM20 12h1v1h-1zM28 14h1v1h-1zM47 15h1v1h-1zM41 22h1v1h-1zM42 24h1v1h-1zM56 24h1v1h-1zM47 29h1v1h-1zM19 35h1v1h-1zM21 35h1v1h-1zM13 40h1v1h-1zM18 42h2v1h-2zM22 42h1v1h-1zM61 42h1v1h-1zM24 43h1v1h-1zM26 43h1v1h-1zM31 43h1v1h-1zM57 43h1v1h-1zM0 45h1v1h-1zM20 45h1v1h-1zM28 45h1v1h-1zM59 45h1v1h-1zM18 46h1v1h-1zM1 47h1v1h-1zM28 47h1v1h-1zM36 50h1v1h-1zM13 51h1v1h-1zM15 51h2v1h-2zM59 51h1v1h-1zM14 53h1v1h-1zM31 58h1v1h-1zM61 58h1v1h-1zM62 59h1v1h-1zM1 61h1v1h-1zM1 62h1v1h-1zM3 64h1v1h-1zM7 68h1v1h-1z"/><path fill="#e3c0b6" d="M58 0h1v1h-1zM20 2h1v1h-1zM51 4h1v1h-1zM32 5h1v1h-1zM31 6h1v1h-1zM58 6h1v1h-1zM71 6h1v1h-1zM69 7h1v1h-1zM69 8h1v1h-1zM13 11h1v1h-1zM69 11h1v1h-1zM48 12h2v1h-2zM65 13h1v1h-1zM55 14h1v1h-1zM71 14h1v1h-1zM68 17h1v1h-1zM64 18h1v1h-1zM67 19h1v1h-1zM37 20h1v1h-1zM35 24h1v1h-1zM37 25h1v1h-1zM36 27h1v1h-1zM36 28h1v1h-1zM71 29h1v1h-1zM37 30h1v1h-1zM23 32h1v1h-1zM54 32h1v1h-1zM21 33h3v1h-3zM46 33h1v1h-1zM28 34h1v1h-1zM41 34h1v1h-1zM51 34h1v1h-1zM47 36h1v1h-1zM8 37h1v1h-1zM59 40h1v1h-1zM10 42h1v1h-1zM3 43h1v1h-1zM13 43h1v1h-1zM35 43h1v1h-1zM37 43h1v1h-1zM71 43h1v1h-1zM5 46h1v1h-1zM5 47h1v1h-1zM58 47h1v1h-1zM60 47h2v1h-2zM64 47h1v1h-1zM3 48h1v1h-1zM7 48h1v1h-1zM38 48h1v1h-1zM5 49h1v1h-1zM38 49h1v1h-1zM38 50h1v1h-1zM2 51h1v1h-1zM36 52h1v1h-1zM7 53h1v1h-1zM18 55h1v1h-1zM67 55h1v1h-1zM20 56h1v1h-1zM8 58h1v1h-1zM5 60h1v1h-1zM16 60h1v1h-1zM11 64h1v1h-1zM18 64h1v1h-1zM23 64h1v1h-1zM22 66h1v1h-1zM23 68h1v1h-1zM26 68h1v1h-1zM20 69h1v1h-1zM7 71h1v1h-1z"/><path fill="#cf8475" d="M60 0h1v1h-1z"/><path fill="#ca7f66" d="M62 0h1v1h-1zM24 2h1v1h-1zM63 2h1v1h-1zM70 4h2v1h-2zM24 5h1v1h-1zM23 12h1v1h-1zM37 14h1v1h-1zM57 16h1v1h-1zM40 17h1v1h-1zM49 19h1v1h-1zM43 21h1v1h-1zM52 22h1v1h-1zM50 28h1v1h-1zM53 29h1v1h-1zM57 34h1v1h-1zM57 47h1v1h-1zM68 47h1v1h-1zM18 50h1v1h-1z"/><path fill="#b6614d" d="M63 0h1v1h-1zM25 7h2v1h-2zM61 10h1v1h-1zM63 10h1v1h-1zM53 15h1v1h-1zM56 18h1v1h-1zM44 22h1v1h-1zM53 24h1v1h-1zM43 27h1v1h-1zM49 27h1v1h-1zM44 28h1v1h-1zM13 39h1v1h-1zM14 40h1v1h-1zM34 41h1v1h-1zM24 47h1v1h-1zM57 49h1v1h-1zM14 51h1v1h-1zM13 52h1v1h-1zM17 52h1v1h-1zM14 54h2v1h-2zM17 56h1v1h-1zM31 57h1v1h-1zM32 58h1v1h-1zM1 67h1v1h-1z"/><path fill="#d49384" d="M65 0h1v1h-1zM59 1h1v1h-1zM27 5h1v1h-1zM18 12h1v1h-1zM49 15h1v1h-1zM50 17h1v1h-1zM54 21h1v1h-1zM56 22h1v1h-1zM39 24h1v1h-1zM45 25h1v1h-1zM41 26h1v1h-1zM46 26h1v1h-1zM51 26h1v1h-1zM52 28h1v1h-1zM45 30h1v1h-1zM47 32h1v1h-1zM13 41h1v1h-1zM18 44h1v1h-1zM67 45h1v1h-1zM59 47h1v1h-1zM24 50h1v1h-1zM59 53h1v1h-1zM19 58h1v1h-1zM30 58h1v1h-1zM4 71h1v1h-1z"/><path fill="#edf2f7" d="M0 1h1v1h-1zM13 2h1v1h-1zM6 3h1v1h-1zM4 4h1v1h-1zM8 6h1v1h-1zM41 6h1v1h-1zM41 7h1v1h-1zM43 7h1v1h-1zM40 8h1v1h-1zM38 9h1v1h-1zM47 9h1v1h-1zM4 11h1v1h-1zM33 12h1v1h-1zM35 13h1v1h-1zM16 15h1v1h-1zM25 16h1v1h-1zM16 17h1v1h-1zM22 17h1v1h-1zM11 19h1v1h-1zM14 19h1v1h-1zM16 19h1v1h-1zM13 21h1v1h-1zM63 21h1v1h-1zM66 21h1v1h-1zM24 22h1v1h-1zM6 23h1v1h-1zM24 24h1v1h-1zM62 24h1v1h-1zM7 25h1v1h-1zM2 27h1v1h-1zM24 27h1v1h-1zM27 28h1v1h-1zM63 28h1v1h-1zM64 30h2v1h-2zM14 31h1v1h-1zM63 31h1v1h-1zM69 31h1v1h-1zM5 32h1v1h-1zM34 32h1v1h-1zM62 33h1v1h-1zM14 34h1v1h-1zM30 34h1v1h-1zM32 34h1v1h-1zM11 35h1v1h-1zM3 37h1v1h-1zM39 37h1v1h-1zM14 38h1v1h-1zM67 38h1v1h-1zM20 40h1v1h-1zM8 41h1v1h-1zM54 43h1v1h-1zM54 44h1v1h-1zM55 46h1v1h-1zM41 48h1v1h-1zM45 48h2v1h-2zM65 48h1v1h-1zM53 49h1v1h-1zM11 50h1v1h-1zM34 50h1v1h-1zM40 50h1v1h-1zM56 50h1v1h-1zM32 54h1v1h-1zM52 55h1v1h-1zM33 57h1v1h-1zM52 57h1v1h-1zM48 58h1v1h-1zM69 58h1v1h-1zM29 60h1v1h-1zM52 60h1v1h-1zM45 61h1v1h-1zM64 61h1v1h-1zM45 62h1v1h-1zM43 63h1v1h-1zM15 64h1v1h-1zM12 65h1v1h-1zM48 65h1v1h-1zM58 65h1v1h-1zM65 65h1v1h-1zM68 65h2v1h-2zM34 68h1v1h-1zM54 68h1v1h-1zM15 69h1v1h-1zM44 69h1v1h-1zM66 70h1v1h-1zM70 71h1v1h-1z"/><path fill="#dee3f2" d="M3 1h1v1h-1zM6 1h1v1h-1zM8 1h1v1h-1zM0 2h1v1h-1zM8 4h1v1h-1zM13 7h1v1h-1zM37 8h1v1h-1zM41 9h1v1h-1zM39 10h1v1h-1zM37 11h1v1h-1zM15 15h1v1h-1zM17 15h1v1h-1zM21 15h1v1h-1zM2 17h1v1h-1zM6 17h1v1h-1zM27 17h1v1h-1zM16 18h1v1h-1zM27 18h1v1h-1zM29 18h1v1h-1zM2 19h1v1h-1zM8 19h1v1h-1zM10 19h1v1h-1zM27 19h2v1h-2zM12 20h1v1h-1zM23 20h1v1h-1zM29 20h1v1h-1zM6 21h1v1h-1zM9 21h1v1h-1zM15 21h1v1h-1zM8 22h1v1h-1zM15 23h1v1h-1zM21 23h1v1h-1zM63 23h1v1h-1zM6 24h1v1h-1zM21 24h1v1h-1zM23 24h1v1h-1zM27 24h1v1h-1zM2 25h1v1h-1zM29 25h1v1h-1zM0 27h1v1h-1zM4 27h1v1h-1zM10 27h1v1h-1zM23 27h1v1h-1zM28 27h1v1h-1zM4 28h1v1h-1zM12 28h1v1h-1zM0 29h1v1h-1zM3 29h1v1h-1zM13 29h2v1h-2zM27 29h1v1h-1zM13 32h1v1h-1zM60 34h1v1h-1zM63 34h1v1h-1zM22 36h1v1h-1zM21 37h1v1h-1zM4 38h1v1h-1zM3 39h1v1h-1zM18 39h1v1h-1zM22 39h1v1h-1zM26 39h1v1h-1zM63 39h1v1h-1zM5 40h1v1h-1zM26 40h1v1h-1zM28 40h1v1h-1zM5 41h1v1h-1zM24 41h1v1h-1zM39 42h1v1h-1zM41 42h1v1h-1zM51 42h1v1h-1zM53 42h1v1h-1zM39 43h1v1h-1zM46 43h1v1h-1zM52 43h1v1h-1zM43 44h1v1h-1zM46 44h1v1h-1zM52 44h2v1h-2zM56 44h1v1h-1zM9 45h1v1h-1zM41 45h1v1h-1zM44 45h2v1h-2zM53 45h1v1h-1zM14 46h1v1h-1zM46 46h2v1h-2zM49 46h1v1h-1zM52 46h1v1h-1zM40 47h1v1h-1zM42 47h1v1h-1zM13 48h1v1h-1zM11 49h2v1h-2zM32 49h1v1h-1zM41 50h1v1h-1zM48 50h1v1h-1zM39 51h1v1h-1zM41 51h1v1h-1zM49 51h1v1h-1zM53 51h1v1h-1zM43 52h1v1h-1zM45 52h1v1h-1zM40 53h1v1h-1zM26 55h1v1h-1zM53 55h1v1h-1zM27 56h1v1h-1zM29 56h1v1h-1zM41 56h1v1h-1zM48 56h1v1h-1zM50 56h1v1h-1zM45 57h1v1h-1zM48 57h1v1h-1zM26 58h1v1h-1zM45 58h1v1h-1zM64 58h1v1h-1zM39 59h2v1h-2zM51 59h1v1h-1zM40 61h1v1h-1zM52 61h1v1h-1zM69 61h1v1h-1zM26 62h1v1h-1zM50 62h1v1h-1zM65 62h1v1h-1zM32 63h1v1h-1zM49 63h1v1h-1zM52 63h1v1h-1zM65 63h1v1h-1zM67 63h1v1h-1zM31 64h1v1h-1zM39 64h1v1h-1zM45 64h1v1h-1zM50 65h1v1h-1zM64 65h1v1h-1zM30 66h2v1h-2zM41 66h1v1h-1zM64 66h1v1h-1zM33 67h1v1h-1zM43 67h2v1h-2zM64 67h1v1h-1zM66 67h1v1h-1zM32 68h1v1h-1zM39 68h1v1h-1zM42 68h1v1h-1zM64 68h1v1h-1zM70 68h1v1h-1zM46 69h1v1h-1zM67 69h1v1h-1zM52 70h1v1h-1zM64 70h1v1h-1zM42 71h1v1h-1zM44 71h1v1h-1zM53 71h1v1h-1zM65 71h2v1h-2zM68 71h2v1h-2z"/><path fill="#e3e8f2" d="M5 1h1v1h-1zM4 2h1v1h-1zM12 2h1v1h-1zM1 3h1v1h-1zM5 3h1v1h-1zM6 4h1v1h-1zM2 7h1v1h-1zM44 7h1v1h-1zM1 8h1v1h-1zM5 8h1v1h-1zM43 8h1v1h-1zM6 9h2v1h-2zM36 9h1v1h-1zM44 9h1v1h-1zM8 11h1v1h-1zM0 12h1v1h-1zM8 12h1v1h-1zM3 13h1v1h-1zM6 13h1v1h-1zM7 14h1v1h-1zM26 15h1v1h-1zM2 16h1v1h-1zM13 16h1v1h-1zM23 16h1v1h-1zM27 16h1v1h-1zM9 17h1v1h-1zM6 18h1v1h-1zM14 18h1v1h-1zM23 18h1v1h-1zM13 19h1v1h-1zM26 19h1v1h-1zM16 20h1v1h-1zM26 20h1v1h-1zM7 21h2v1h-2zM10 21h1v1h-1zM7 24h1v1h-1zM13 24h1v1h-1zM10 25h3v1h-3zM12 26h1v1h-1zM1 27h1v1h-1zM12 27h1v1h-1zM14 27h1v1h-1zM62 27h1v1h-1zM2 28h1v1h-1zM7 28h1v1h-1zM9 28h1v1h-1zM13 28h1v1h-1zM1 29h1v1h-1zM8 29h1v1h-1zM23 29h1v1h-1zM26 29h1v1h-1zM8 30h1v1h-1zM2 31h1v1h-1zM4 31h1v1h-1zM60 31h1v1h-1zM1 34h1v1h-1zM62 35h1v1h-1zM28 36h1v1h-1zM62 36h1v1h-1zM68 36h1v1h-1zM1 37h1v1h-1zM27 37h1v1h-1zM63 37h1v1h-1zM21 38h1v1h-1zM5 39h1v1h-1zM19 39h1v1h-1zM2 40h1v1h-1zM23 40h1v1h-1zM7 41h1v1h-1zM40 44h2v1h-2zM56 45h1v1h-1zM13 46h1v1h-1zM39 46h1v1h-1zM41 46h2v1h-2zM51 46h1v1h-1zM51 47h1v1h-1zM31 48h1v1h-1zM35 48h1v1h-1zM53 50h1v1h-1zM67 50h1v1h-1zM34 51h1v1h-1zM33 52h1v1h-1zM46 52h1v1h-1zM51 52h1v1h-1zM35 53h1v1h-1zM45 53h1v1h-1zM27 54h1v1h-1zM30 54h1v1h-1zM27 55h1v1h-1zM51 55h1v1h-1zM26 56h1v1h-1zM46 57h1v1h-1zM53 57h1v1h-1zM50 58h1v1h-1zM52 58h1v1h-1zM55 58h1v1h-1zM69 59h1v1h-1zM45 60h1v1h-1zM70 60h1v1h-1zM47 61h1v1h-1zM50 61h1v1h-1zM44 62h1v1h-1zM54 62h1v1h-1zM16 63h1v1h-1zM39 63h1v1h-1zM50 63h1v1h-1zM60 63h1v1h-1zM46 64h1v1h-1zM50 64h1v1h-1zM55 64h1v1h-1zM62 64h1v1h-1zM65 64h1v1h-1zM40 65h1v1h-1zM53 65h1v1h-1zM62 65h1v1h-1zM67 65h1v1h-1zM32 66h1v1h-1zM39 66h1v1h-1zM61 66h1v1h-1zM70 66h1v1h-1zM15 67h1v1h-1zM39 67h1v1h-1zM51 67h1v1h-1zM55 67h1v1h-1zM60 67h1v1h-1zM69 67h1v1h-1zM40 69h1v1h-1zM43 69h1v1h-1zM51 69h1v1h-1zM53 69h1v1h-1zM13 70h1v1h-1zM17 70h1v1h-1zM37 70h1v1h-1zM42 70h1v1h-1zM44 70h1v1h-1zM33 71h1v1h-1zM35 71h1v1h-1zM59 71h1v1h-1zM64 71h1v1h-1z"/><path fill="#cfd9ed" d="M7 1h1v1h-1zM7 2h1v1h-1zM40 9h1v1h-1zM8 15h1v1h-1zM2 18h1v1h-1zM27 22h1v1h-1zM3 25h1v1h-1zM18 25h2v1h-2zM2 26h1v1h-1zM28 26h1v1h-1zM23 28h1v1h-1zM5 29h1v1h-1zM4 39h1v1h-1zM22 40h1v1h-1zM2 41h1v1h-1zM4 41h1v1h-1zM43 43h1v1h-1zM49 44h1v1h-1zM42 45h1v1h-1zM51 45h2v1h-2zM14 49h1v1h-1zM31 49h1v1h-1zM9 50h1v1h-1zM52 51h1v1h-1zM26 54h1v1h-1zM28 54h1v1h-1zM25 55h1v1h-1zM40 55h1v1h-1zM25 56h1v1h-1zM24 57h1v1h-1zM25 58h1v1h-1zM39 58h1v1h-1zM42 63h1v1h-1zM47 65h1v1h-1zM42 66h1v1h-1zM67 66h1v1h-1zM30 67h1v1h-1zM32 67h1v1h-1zM46 68h1v1h-1zM53 68h1v1h-1zM45 69h1v1h-1zM68 70h1v1h-1z"/><path fill="#d49889" d="M27 1h1v1h-1zM54 3h1v1h-1zM71 5h1v1h-1zM53 7h1v1h-1zM71 8h1v1h-1zM13 9h1v1h-1zM19 9h1v1h-1zM28 9h1v1h-1zM52 14h1v1h-1zM59 17h1v1h-1zM57 19h1v1h-1zM42 30h1v1h-1zM47 33h1v1h-1zM11 41h1v1h-1zM62 43h1v1h-1zM1 45h1v1h-1zM20 48h1v1h-1zM24 48h1v1h-1zM18 49h1v1h-1zM58 49h1v1h-1zM0 52h1v1h-1zM62 52h1v1h-1zM5 53h1v1h-1zM5 56h1v1h-1zM11 57h1v1h-1zM1 60h1v1h-1zM14 60h1v1h-1zM30 60h1v1h-1zM17 61h1v1h-1zM1 63h1v1h-1zM4 63h1v1h-1zM18 66h1v1h-1zM8 67h1v1h-1zM19 71h1v1h-1z"/><path fill="#ca846b" d="M29 1h1v1h-1zM51 1h1v1h-1zM51 16h1v1h-1zM48 17h1v1h-1zM55 20h1v1h-1zM46 21h1v1h-1zM54 23h1v1h-1zM50 25h1v1h-1zM52 27h1v1h-1zM39 29h1v1h-1zM12 54h1v1h-1zM61 57h1v1h-1z"/><path fill="#f2e3de" d="M30 1h1v1h-1zM36 1h1v1h-1zM48 1h1v1h-1zM47 2h1v1h-1zM20 3h1v1h-1zM36 3h1v1h-1zM21 5h1v1h-1zM23 7h1v1h-1zM34 7h1v1h-1zM10 8h1v1h-1zM15 9h1v1h-1zM34 9h1v1h-1zM11 10h1v1h-1zM68 10h1v1h-1zM11 11h1v1h-1zM45 12h1v1h-1zM46 13h1v1h-1zM15 14h1v1h-1zM30 14h1v1h-1zM32 15h1v1h-1zM34 16h1v1h-1zM30 17h1v1h-1zM38 19h1v1h-1zM63 19h1v1h-1zM65 20h1v1h-1zM59 23h1v1h-1zM65 23h1v1h-1zM70 23h1v1h-1zM69 24h1v1h-1zM31 27h1v1h-1zM58 27h1v1h-1zM16 28h1v1h-1zM30 28h1v1h-1zM67 29h1v1h-1zM10 30h2v1h-2zM24 30h1v1h-1zM17 31h1v1h-1zM29 31h2v1h-2zM32 31h1v1h-1zM58 31h1v1h-1zM57 32h2v1h-2zM5 33h1v1h-1zM52 33h1v1h-1zM17 34h1v1h-1zM68 35h1v1h-1zM70 35h1v1h-1zM32 36h1v1h-1zM44 37h1v1h-1zM69 37h1v1h-1zM31 38h1v1h-1zM43 38h1v1h-1zM50 38h1v1h-1zM15 39h1v1h-1zM41 39h1v1h-1zM39 40h1v1h-1zM47 40h1v1h-1zM39 41h1v1h-1zM44 41h1v1h-1zM1 43h1v1h-1zM0 44h1v1h-1zM3 44h1v1h-1zM15 46h1v1h-1zM17 46h1v1h-1zM38 46h1v1h-1zM70 46h1v1h-1zM31 47h1v1h-1zM71 47h1v1h-1zM1 48h1v1h-1zM2 50h1v1h-1zM32 51h1v1h-1zM65 51h1v1h-1zM65 52h1v1h-1zM56 53h1v1h-1zM37 54h1v1h-1zM43 55h1v1h-1zM55 55h1v1h-1zM62 56h1v1h-1zM6 57h1v1h-1zM8 57h1v1h-1zM37 58h1v1h-1zM58 58h1v1h-1zM66 59h1v1h-1zM8 60h1v1h-1zM60 60h2v1h-2zM35 61h1v1h-1zM10 63h1v1h-1zM13 64h2v1h-2zM9 66h1v1h-1zM11 66h1v1h-1zM11 67h1v1h-1zM28 67h1v1h-1zM6 69h1v1h-1zM21 69h1v1h-1zM23 70h1v1h-1zM28 70h1v1h-1zM10 71h1v1h-1zM27 71h1v1h-1z"/><path fill="#e8cfca" d="M33 1h1v1h-1zM15 2h1v1h-1zM34 2h1v1h-1zM13 3h1v1h-1zM19 4h1v1h-1zM37 4h1v1h-1zM66 4h1v1h-1zM14 5h1v1h-1zM22 5h1v1h-1zM67 5h1v1h-1zM22 7h1v1h-1zM21 8h1v1h-1zM23 8h1v1h-1zM31 8h1v1h-1zM17 9h1v1h-1zM35 10h1v1h-1zM70 10h1v1h-1zM15 11h1v1h-1zM48 11h2v1h-2zM70 11h1v1h-1zM12 12h1v1h-1zM71 12h1v1h-1zM48 13h2v1h-2zM66 14h1v1h-1zM37 15h1v1h-1zM38 20h1v1h-1zM38 21h1v1h-1zM60 22h1v1h-1zM57 23h1v1h-1zM60 23h1v1h-1zM64 24h1v1h-1zM38 27h1v1h-1zM33 28h1v1h-1zM35 28h1v1h-1zM32 29h1v1h-1zM23 30h1v1h-1zM18 31h1v1h-1zM57 31h1v1h-1zM50 33h2v1h-2zM5 34h1v1h-1zM26 34h2v1h-2zM56 34h1v1h-1zM67 34h1v1h-1zM34 36h1v1h-1zM7 37h1v1h-1zM35 37h1v1h-1zM57 38h1v1h-1zM58 39h1v1h-1zM58 41h1v1h-1zM33 42h1v1h-1zM8 43h1v1h-1zM9 44h1v1h-1zM14 44h1v1h-1zM37 44h1v1h-1zM31 45h1v1h-1zM2 46h1v1h-1zM64 46h1v1h-1zM16 47h1v1h-1zM38 47h1v1h-1zM70 47h1v1h-1zM3 49h1v1h-1zM17 49h1v1h-1zM27 49h1v1h-1zM6 50h1v1h-1zM8 53h1v1h-1zM38 53h1v1h-1zM22 54h1v1h-1zM62 54h1v1h-1zM2 55h1v1h-1zM2 56h1v1h-1zM7 56h1v1h-1zM18 56h1v1h-1zM60 56h1v1h-1zM1 58h1v1h-1zM18 59h1v1h-1zM3 60h1v1h-1zM36 61h1v1h-1zM36 62h1v1h-1zM18 63h1v1h-1zM21 65h1v1h-1zM28 66h2v1h-2zM26 67h1v1h-1zM22 68h1v1h-1z"/><path fill="#f2ded9" d="M34 1h1v1h-1zM38 3h1v1h-1zM55 5h1v1h-1zM33 7h1v1h-1zM70 20h1v1h-1zM33 22h1v1h-1zM63 24h1v1h-1zM34 29h1v1h-1zM68 33h1v1h-1zM33 37h1v1h-1zM32 38h1v1h-1zM34 38h1v1h-1zM15 40h1v1h-1zM17 47h1v1h-1zM58 54h1v1h-1zM35 62h1v1h-1zM9 68h1v1h-1z"/><path fill="#f2e3e3" d="M38 1h1v1h-1zM41 1h1v1h-1zM42 3h1v1h-1zM44 4h1v1h-1zM18 7h1v1h-1zM30 7h1v1h-1zM35 7h1v1h-1zM30 8h1v1h-1zM46 8h1v1h-1zM45 9h1v1h-1zM50 9h1v1h-1zM67 9h1v1h-1zM50 11h1v1h-1zM30 12h1v1h-1zM47 12h1v1h-1zM38 13h1v1h-1zM65 19h1v1h-1zM68 19h1v1h-1zM60 21h1v1h-1zM62 21h1v1h-1zM59 22h1v1h-1zM65 24h1v1h-1zM62 26h1v1h-1zM31 29h1v1h-1zM69 29h1v1h-1zM34 30h1v1h-1zM24 33h1v1h-1zM44 33h1v1h-1zM58 33h1v1h-1zM70 33h1v1h-1zM30 35h1v1h-1zM30 36h1v1h-1zM48 36h1v1h-1zM56 36h1v1h-1zM41 37h1v1h-1zM49 37h2v1h-2zM16 40h1v1h-1zM41 41h1v1h-1zM7 44h1v1h-1zM38 45h1v1h-1zM8 47h1v1h-1zM63 48h1v1h-1zM55 50h1v1h-1zM38 51h1v1h-1zM4 53h1v1h-1zM68 53h1v1h-1zM5 55h1v1h-1zM69 55h1v1h-1zM55 56h1v1h-1zM57 57h1v1h-1zM38 59h1v1h-1zM57 59h1v1h-1zM33 61h1v1h-1zM21 62h1v1h-1zM24 63h1v1h-1zM34 64h1v1h-1zM57 64h1v1h-1zM13 65h1v1h-1zM24 66h1v1h-1zM18 67h1v1h-1zM38 67h1v1h-1zM24 70h1v1h-1z"/><path fill="#c06b57" d="M52 1h1v1h-1zM57 1h1v1h-1zM57 2h1v1h-1zM28 6h1v1h-1zM62 6h1v1h-1zM36 14h1v1h-1zM44 15h1v1h-1zM57 15h1v1h-1zM53 17h1v1h-1zM54 18h1v1h-1zM40 19h1v1h-1zM56 27h1v1h-1zM52 31h1v1h-1zM57 35h1v1h-1zM36 36h1v1h-1zM10 39h1v1h-1zM30 40h1v1h-1zM33 40h1v1h-1zM31 41h1v1h-1zM67 42h1v1h-1zM65 43h1v1h-1zM68 43h1v1h-1zM23 47h1v1h-1zM17 51h1v1h-1zM23 52h1v1h-1zM13 54h1v1h-1zM10 58h1v1h-1zM13 61h1v1h-1zM32 61h1v1h-1z"/><path fill="#deaca2" d="M58 1h1v1h-1zM32 3h1v1h-1zM58 3h1v1h-1zM31 4h1v1h-1zM53 4h1v1h-1zM59 5h1v1h-1zM69 5h1v1h-1zM56 7h1v1h-1zM18 9h1v1h-1zM51 9h1v1h-1zM52 10h1v1h-1zM18 13h3v1h-3zM46 15h1v1h-1zM64 15h1v1h-1zM41 19h1v1h-1zM61 19h1v1h-1zM35 20h1v1h-1zM62 20h1v1h-1zM35 22h1v1h-1zM36 23h1v1h-1zM52 25h1v1h-1zM56 25h1v1h-1zM35 26h1v1h-1zM48 30h1v1h-1zM52 30h1v1h-1zM48 35h1v1h-1zM45 36h1v1h-1zM14 43h1v1h-1zM37 45h1v1h-1zM63 45h1v1h-1zM7 49h1v1h-1zM58 51h1v1h-1zM58 52h1v1h-1zM58 53h1v1h-1zM62 53h1v1h-1zM3 54h1v1h-1zM3 58h1v1h-1zM18 58h1v1h-1zM67 58h1v1h-1zM3 61h1v1h-1zM7 62h2v1h-2zM22 64h1v1h-1z"/><path fill="#d49d8e" d="M60 1h1v1h-1zM27 2h1v1h-1zM67 2h1v1h-1zM58 4h1v1h-1zM57 6h1v1h-1zM20 8h1v1h-1zM70 8h1v1h-1zM27 9h1v1h-1zM54 11h1v1h-1zM65 11h1v1h-1zM27 12h1v1h-1zM18 14h1v1h-1zM49 14h1v1h-1zM54 14h1v1h-1zM65 14h1v1h-1zM43 15h1v1h-1zM43 16h1v1h-1zM39 17h1v1h-1zM60 17h1v1h-1zM41 18h1v1h-1zM51 28h1v1h-1zM53 28h1v1h-1zM55 28h2v1h-2zM53 30h1v1h-1zM43 31h1v1h-1zM18 35h1v1h-1zM36 41h1v1h-1zM26 44h1v1h-1zM59 44h1v1h-1zM62 44h1v1h-1zM3 45h1v1h-1zM27 45h1v1h-1zM25 49h1v1h-1zM4 51h1v1h-1zM26 52h1v1h-1zM37 52h1v1h-1zM57 53h1v1h-1zM20 67h1v1h-1zM3 70h2v1h-2z"/><path fill="#d49d89" d="M61 1h1v1h-1zM59 7h1v1h-1zM58 8h1v1h-1zM64 12h1v1h-1zM63 13h1v1h-1zM37 40h1v1h-1zM15 43h1v1h-1zM0 54h1v1h-1zM2 62h1v1h-1z"/><path fill="#cf8e7a" d="M62 1h1v1h-1zM55 4h1v1h-1zM57 5h1v1h-1zM32 11h1v1h-1zM37 12h1v1h-1zM50 16h1v1h-1zM42 17h1v1h-1zM55 21h1v1h-1zM44 26h1v1h-1zM45 27h1v1h-1zM54 29h1v1h-1zM20 34h1v1h-1zM59 34h1v1h-1zM22 35h1v1h-1zM14 39h1v1h-1zM66 42h1v1h-1zM32 44h1v1h-1zM67 44h1v1h-1zM68 45h1v1h-1zM36 49h1v1h-1zM14 52h1v1h-1zM16 53h1v1h-1zM14 55h1v1h-1zM32 57h1v1h-1zM11 59h1v1h-1zM60 59h1v1h-1zM12 60h1v1h-1zM4 64h1v1h-1zM4 66h1v1h-1zM5 67h1v1h-1zM7 67h1v1h-1zM1 69h1v1h-1zM2 70h1v1h-1z"/><path fill="#d9a293" d="M65 1h1v1h-1zM30 3h1v1h-1zM64 5h1v1h-1zM53 8h1v1h-1zM65 9h1v1h-1zM59 11h1v1h-1zM52 12h1v1h-1zM60 12h1v1h-1zM70 14h1v1h-1zM41 16h1v1h-1zM43 17h1v1h-1zM59 19h1v1h-1zM41 20h1v1h-1zM44 25h1v1h-1zM51 25h1v1h-1zM53 25h1v1h-1zM46 27h1v1h-1zM54 28h1v1h-1zM36 29h1v1h-1zM51 30h1v1h-1zM22 32h1v1h-1zM44 32h1v1h-1zM19 33h1v1h-1zM9 39h1v1h-1zM14 42h2v1h-2zM71 42h1v1h-1zM5 43h1v1h-1zM10 43h1v1h-1zM5 44h1v1h-1zM22 44h1v1h-1zM19 48h1v1h-1zM59 54h1v1h-1zM0 55h1v1h-1zM5 59h1v1h-1zM61 59h1v1h-1zM7 60h1v1h-1zM7 61h1v1h-1zM16 61h1v1h-1zM32 62h1v1h-1z"/><path fill="#d9ac9d" d="M68 1h1v1h-1zM22 4h1v1h-1zM53 11h1v1h-1zM58 11h1v1h-1zM29 13h1v1h-1zM60 13h1v1h-1zM46 16h1v1h-1zM69 17h1v1h-1zM60 18h1v1h-1zM37 22h1v1h-1zM43 24h1v1h-1zM43 25h1v1h-1zM55 25h1v1h-1zM35 27h1v1h-1zM46 28h2v1h-2zM35 29h1v1h-1zM22 30h1v1h-1zM39 30h1v1h-1zM36 32h1v1h-1zM41 32h1v1h-1zM49 34h1v1h-1zM39 35h1v1h-1zM57 36h1v1h-1zM11 39h1v1h-1zM58 42h1v1h-1zM66 43h1v1h-1zM19 44h1v1h-1zM24 44h1v1h-1zM4 45h1v1h-1zM58 46h1v1h-1zM27 47h1v1h-1zM66 47h1v1h-1zM18 48h1v1h-1zM25 52h1v1h-1zM59 55h1v1h-1zM5 58h1v1h-1zM32 60h1v1h-1z"/><path fill="#e3e8f7" d="M1 2h1v1h-1zM12 16h1v1h-1zM23 22h1v1h-1zM15 28h1v1h-1zM61 40h1v1h-1zM49 48h1v1h-1zM43 56h1v1h-1zM39 57h1v1h-1zM55 59h1v1h-1zM69 70h1v1h-1z"/><path fill="#d4d9f2" d="M8 2h1v1h-1zM40 10h1v1h-1zM7 15h1v1h-1zM28 15h1v1h-1zM29 17h1v1h-1zM8 18h1v1h-1zM28 18h1v1h-1zM2 20h1v1h-1zM28 20h1v1h-1zM2 22h1v1h-1zM21 22h1v1h-1zM22 23h1v1h-1zM0 25h1v1h-1zM11 26h1v1h-1zM13 27h1v1h-1zM29 27h1v1h-1zM20 28h1v1h-1zM9 29h1v1h-1zM22 29h1v1h-1zM21 36h1v1h-1zM21 39h1v1h-1zM24 39h1v1h-1zM63 40h1v1h-1zM21 41h2v1h-2zM64 41h2v1h-2zM51 43h1v1h-1zM53 43h1v1h-1zM49 45h1v1h-1zM44 46h2v1h-2zM48 47h1v1h-1zM10 48h1v1h-1zM30 49h1v1h-1zM48 49h1v1h-1zM14 50h1v1h-1zM30 50h1v1h-1zM32 50h1v1h-1zM49 50h1v1h-1zM40 51h1v1h-1zM44 51h1v1h-1zM51 51h1v1h-1zM35 52h1v1h-1zM42 52h1v1h-1zM42 53h1v1h-1zM25 54h1v1h-1zM53 63h1v1h-1zM40 64h1v1h-1zM43 64h1v1h-1zM16 66h1v1h-1zM53 66h1v1h-1zM49 69h1v1h-1zM53 70h1v1h-1zM46 71h1v1h-1z"/><path fill="#f2e8e3" d="M18 2h1v1h-1zM48 3h1v1h-1zM7 5h1v1h-1zM18 5h1v1h-1zM36 5h1v1h-1zM1 6h1v1h-1zM22 6h1v1h-1zM32 6h1v1h-1zM21 10h1v1h-1zM49 10h1v1h-1zM66 10h1v1h-1zM66 12h1v1h-1zM71 13h1v1h-1zM31 14h1v1h-1zM32 17h1v1h-1zM65 18h1v1h-1zM59 21h1v1h-1zM61 22h1v1h-1zM58 23h1v1h-1zM16 25h1v1h-1zM65 26h1v1h-1zM6 28h1v1h-1zM67 28h1v1h-1zM28 31h1v1h-1zM35 31h1v1h-1zM71 31h1v1h-1zM16 32h1v1h-1zM16 33h1v1h-1zM27 33h1v1h-1zM16 35h1v1h-1zM44 35h1v1h-1zM66 35h1v1h-1zM40 36h1v1h-1zM53 37h1v1h-1zM56 38h1v1h-1zM59 38h1v1h-1zM42 39h1v1h-1zM38 44h1v1h-1zM71 44h1v1h-1zM17 45h1v1h-1zM69 45h1v1h-1zM17 48h1v1h-1zM2 49h1v1h-1zM64 49h1v1h-1zM61 50h1v1h-1zM28 52h1v1h-1zM54 52h1v1h-1zM23 54h1v1h-1zM66 54h1v1h-1zM36 55h1v1h-1zM38 55h1v1h-1zM46 55h1v1h-1zM54 56h1v1h-1zM36 57h1v1h-1zM35 60h2v1h-2zM37 61h1v1h-1zM28 64h1v1h-1zM66 64h1v1h-1zM27 67h1v1h-1zM28 68h1v1h-1zM37 68h1v1h-1zM22 69h1v1h-1z"/><path fill="#ca7a61" d="M29 2h1v1h-1z"/><path fill="#edd9cf" d="M35 2h1v1h-1zM46 2h1v1h-1zM52 5h1v1h-1zM49 9h1v1h-1zM62 22h1v1h-1zM69 25h1v1h-1zM29 33h1v1h-1zM52 37h1v1h-1zM38 42h1v1h-1zM1 51h1v1h-1zM20 70h1v1h-1z"/><path fill="#e8c5c0" d="M48 2h1v1h-1zM51 6h1v1h-1zM53 6h1v1h-1zM66 6h1v1h-1zM68 6h1v1h-1zM51 7h1v1h-1zM32 8h1v1h-1zM18 10h1v1h-1zM51 11h1v1h-1zM67 11h1v1h-1zM37 19h1v1h-1zM60 20h1v1h-1zM36 22h1v1h-1zM69 23h1v1h-1zM30 27h1v1h-1zM55 30h1v1h-1zM52 34h1v1h-1zM42 35h1v1h-1zM49 35h1v1h-1zM30 38h1v1h-1zM34 43h1v1h-1zM16 44h1v1h-1zM36 45h1v1h-1zM64 45h1v1h-1zM65 47h1v1h-1zM4 48h1v1h-1zM3 53h1v1h-1zM61 53h1v1h-1zM10 54h1v1h-1zM59 56h1v1h-1zM20 59h1v1h-1zM23 67h1v1h-1zM18 68h1v1h-1z"/><path fill="#c5755c" d="M53 2h1v1h-1zM70 3h1v1h-1zM57 10h1v1h-1zM61 14h1v1h-1zM43 23h1v1h-1zM40 24h1v1h-1zM48 28h1v1h-1zM47 31h2v1h-2zM30 42h1v1h-1zM25 43h1v1h-1zM28 46h1v1h-1zM59 50h1v1h-1zM6 64h1v1h-1zM7 65h1v1h-1z"/><path fill="#bb6b57" d="M55 2h1v1h-1zM65 3h1v1h-1zM29 6h1v1h-1zM63 6h1v1h-1zM65 8h1v1h-1zM60 10h1v1h-1zM61 11h1v1h-1zM22 13h1v1h-1zM26 13h1v1h-1zM52 17h1v1h-1zM57 17h1v1h-1zM54 19h1v1h-1zM40 28h1v1h-1zM19 34h1v1h-1zM65 42h1v1h-1zM19 45h1v1h-1zM21 45h1v1h-1zM23 51h1v1h-1zM10 57h1v1h-1zM0 61h1v1h-1zM14 61h1v1h-1z"/><path fill="#cf8e7f" d="M56 2h1v1h-1zM61 2h1v1h-1zM59 6h1v1h-1zM64 10h1v1h-1zM30 11h1v1h-1zM65 12h1v1h-1zM24 13h1v1h-1zM59 15h1v1h-1zM47 17h1v1h-1zM50 20h1v1h-1zM51 21h1v1h-1zM54 24h1v1h-1zM25 50h1v1h-1zM10 60h1v1h-1zM11 61h1v1h-1z"/><path fill="#d9a28e" d="M65 2h1v1h-1zM23 31h1v1h-1zM21 44h1v1h-1zM12 53h1v1h-1z"/><path fill="#e8d4ca" d="M66 2h1v1h-1zM50 13h1v1h-1z"/><path fill="#deb6ac" d="M68 2h1v1h-1zM21 3h2v1h-2zM32 4h1v1h-1zM54 4h1v1h-1zM20 7h1v1h-1zM67 7h1v1h-1zM70 7h1v1h-1zM18 8h1v1h-1zM54 8h1v1h-1zM66 8h1v1h-1zM14 9h1v1h-1zM69 9h1v1h-1zM13 10h1v1h-1zM53 10h2v1h-2zM58 10h1v1h-1zM19 11h1v1h-1zM53 12h1v1h-1zM36 13h1v1h-1zM61 13h1v1h-1zM17 14h1v1h-1zM70 15h1v1h-1zM37 16h1v1h-1zM58 16h1v1h-1zM36 17h1v1h-1zM61 17h1v1h-1zM63 17h1v1h-1zM59 18h1v1h-1zM61 18h1v1h-1zM39 19h1v1h-1zM30 21h1v1h-1zM35 21h1v1h-1zM37 24h1v1h-1zM41 24h1v1h-1zM39 28h1v1h-1zM47 30h1v1h-1zM54 31h1v1h-1zM50 32h1v1h-1zM52 32h1v1h-1zM55 34h1v1h-1zM23 35h1v1h-1zM54 35h1v1h-1zM58 35h1v1h-1zM38 36h1v1h-1zM37 37h1v1h-1zM40 40h1v1h-1zM57 40h1v1h-1zM50 41h1v1h-1zM35 42h1v1h-1zM23 43h1v1h-1zM66 45h1v1h-1zM36 46h2v1h-2zM36 48h1v1h-1zM58 48h1v1h-1zM3 50h2v1h-2zM5 51h1v1h-1zM26 51h1v1h-1zM5 52h1v1h-1zM60 52h1v1h-1zM26 53h1v1h-1zM4 54h1v1h-1zM20 55h1v1h-1zM3 56h1v1h-1zM3 57h1v1h-1zM66 57h1v1h-1zM3 62h1v1h-1zM19 66h2v1h-2zM21 67h1v1h-1zM36 67h1v1h-1zM21 68h1v1h-1z"/><path fill="#a74d39" d="M24 3h2v1h-2zM64 4h1v1h-1zM27 8h1v1h-1zM60 8h1v1h-1zM26 12h1v1h-1zM57 12h1v1h-1zM26 14h1v1h-1zM59 14h1v1h-1zM54 16h1v1h-1zM55 17h1v1h-1zM42 20h1v1h-1zM40 21h1v1h-1zM45 21h1v1h-1zM49 21h1v1h-1zM40 22h1v1h-1zM50 22h1v1h-1zM45 23h1v1h-1zM48 26h1v1h-1zM50 26h1v1h-1zM36 35h1v1h-1zM29 42h1v1h-1zM63 44h1v1h-1zM22 45h1v1h-1zM22 51h1v1h-1zM21 53h1v1h-1zM12 57h1v1h-1zM14 59h1v1h-1zM17 59h1v1h-1zM7 64h1v1h-1z"/><path fill="#ac5243" d="M26 3h1v1h-1zM61 3h1v1h-1zM26 4h1v1h-1zM42 29h1v1h-1zM25 45h1v1h-1zM21 46h1v1h-1zM26 46h1v1h-1z"/><path fill="#933425" d="M28 3h1v1h-1zM24 4h1v1h-1zM62 9h1v1h-1zM21 14h1v1h-1zM55 16h1v1h-1zM42 19h1v1h-1zM47 20h1v1h-1zM35 40h1v1h-1zM21 51h1v1h-1z"/><path fill="#98392a" d="M29 3h1v1h-1zM25 4h1v1h-1zM60 4h1v1h-1zM40 23h1v1h-1zM47 23h1v1h-1zM48 24h1v1h-1zM40 29h1v1h-1zM35 41h1v1h-1zM28 43h1v1h-1zM21 49h1v1h-1zM22 50h1v1h-1zM14 57h1v1h-1zM0 66h1v1h-1z"/><path fill="#d9a298" d="M31 3h1v1h-1zM52 9h1v1h-1zM62 19h1v1h-1zM37 32h1v1h-1zM48 32h1v1h-1zM39 34h1v1h-1zM25 51h1v1h-1zM2 61h1v1h-1z"/><path fill="#deb1a2" d="M51 3h1v1h-1zM56 4h1v1h-1zM28 13h1v1h-1zM69 13h1v1h-1zM58 15h1v1h-1zM39 16h1v1h-1zM46 17h1v1h-1zM37 18h1v1h-1zM39 20h1v1h-1zM54 25h1v1h-1zM50 30h1v1h-1zM51 32h1v1h-1zM53 34h1v1h-1zM36 40h1v1h-1zM58 43h1v1h-1zM2 45h1v1h-1zM26 48h1v1h-1zM26 50h1v1h-1zM29 50h1v1h-1zM67 54h1v1h-1zM67 56h1v1h-1zM68 59h1v1h-1zM17 62h1v1h-1zM0 65h1v1h-1zM3 65h1v1h-1zM6 68h1v1h-1z"/><path fill="#d9a79d" d="M55 3h1v1h-1zM19 10h1v1h-1zM31 10h1v1h-1zM35 16h2v1h-2zM37 21h1v1h-1zM43 30h1v1h-1zM21 32h1v1h-1zM23 34h1v1h-1zM50 34h1v1h-1zM28 35h1v1h-1zM55 35h1v1h-1zM59 36h1v1h-1zM36 39h1v1h-1zM36 43h1v1h-1zM13 44h1v1h-1zM37 48h1v1h-1zM28 49h1v1h-1zM3 52h1v1h-1zM61 52h1v1h-1zM5 54h1v1h-1zM68 54h1v1h-1zM1 56h1v1h-1zM19 68h1v1h-1zM3 69h1v1h-1z"/><path fill="#9d432f" d="M60 3h1v1h-1zM26 9h1v1h-1zM21 12h1v1h-1zM25 14h1v1h-1zM15 59h1v1h-1zM0 68h1v1h-1z"/><path fill="#9d3e2a" d="M62 3h1v1h-1zM28 4h1v1h-1zM63 4h1v1h-1zM26 8h1v1h-1zM29 8h1v1h-1zM60 9h1v1h-1zM62 11h1v1h-1zM44 18h1v1h-1zM45 19h1v1h-1zM63 42h1v1h-1zM1 66h1v1h-1z"/><path fill="#932f20" d="M63 3h1v1h-1zM61 8h1v1h-1zM40 31h1v1h-1zM13 58h1v1h-1zM15 58h1v1h-1zM17 58h1v1h-1z"/><path fill="#b15c48" d="M64 3h1v1h-1zM27 4h1v1h-1zM24 7h1v1h-1zM60 7h2v1h-2zM24 10h1v1h-1zM24 12h1v1h-1zM54 17h1v1h-1zM44 21h1v1h-1zM47 21h1v1h-1zM43 22h1v1h-1zM45 22h1v1h-1zM50 24h1v1h-1zM49 26h1v1h-1zM50 27h1v1h-1zM49 28h1v1h-1zM37 34h1v1h-1zM33 41h1v1h-1zM24 45h1v1h-1zM22 46h1v1h-1zM21 47h1v1h-1zM26 47h1v1h-1zM22 53h1v1h-1zM8 63h1v1h-1zM0 67h1v1h-1z"/><path fill="#e3c5bb" d="M67 3h1v1h-1zM20 4h1v1h-1zM68 4h1v1h-1zM19 6h2v1h-2zM51 8h1v1h-1zM67 8h1v1h-1zM18 11h1v1h-1zM50 12h1v1h-1zM51 13h1v1h-1zM53 13h1v1h-1zM71 17h1v1h-1zM58 18h1v1h-1zM36 20h1v1h-1zM58 20h1v1h-1zM36 21h1v1h-1zM32 22h1v1h-1zM39 25h1v1h-1zM46 32h1v1h-1zM20 33h1v1h-1zM50 35h2v1h-2zM52 36h1v1h-1zM49 39h1v1h-1zM40 41h1v1h-1zM0 42h1v1h-1zM17 42h1v1h-1zM27 51h1v1h-1zM36 51h2v1h-2zM71 52h1v1h-1zM60 53h1v1h-1zM19 55h1v1h-1zM4 56h1v1h-1zM8 56h1v1h-1zM5 57h1v1h-1zM7 57h1v1h-1zM3 59h1v1h-1zM34 61h1v1h-1zM15 62h1v1h-1zM29 71h1v1h-1z"/><path fill="#d9e3f2" d="M3 4h1v1h-1zM21 21h1v1h-1zM21 25h1v1h-1zM2 32h1v1h-1zM26 41h1v1h-1zM44 47h1v1h-1zM49 47h1v1h-1zM34 49h1v1h-1zM50 50h1v1h-1zM44 52h1v1h-1zM39 69h1v1h-1zM51 71h1v1h-1z"/><path fill="#983425" d="M29 4h1v1h-1zM45 24h1v1h-1zM47 26h1v1h-1z"/><path fill="#d4937f" d="M52 4h1v1h-1zM59 10h1v1h-1zM61 12h1v1h-1zM23 13h1v1h-1zM52 16h1v1h-1zM55 19h1v1h-1zM15 53h1v1h-1zM0 63h1v1h-1zM6 63h1v1h-1zM8 65h1v1h-1z"/><path fill="#b15748" d="M61 4h1v1h-1zM44 16h1v1h-1zM45 20h1v1h-1zM55 27h1v1h-1z"/><path fill="#9d3e2f" d="M62 4h1v1h-1zM45 18h1v1h-1zM47 22h1v1h-1zM49 24h1v1h-1zM44 27h1v1h-1zM22 52h1v1h-1z"/><path fill="#cf8470" d="M26 5h1v1h-1zM29 9h1v1h-1zM32 10h1v1h-1zM40 18h1v1h-1zM41 28h1v1h-1zM53 31h1v1h-1zM18 34h1v1h-1zM47 35h1v1h-1zM62 42h1v1h-1zM57 45h1v1h-1zM20 47h1v1h-1z"/><path fill="#b66652" d="M63 5h1v1h-1zM25 11h1v1h-1zM19 12h1v1h-1zM59 12h1v1h-1zM43 19h1v1h-1zM42 21h1v1h-1zM50 29h1v1h-1zM59 52h1v1h-1zM9 61h1v1h-1zM10 62h1v1h-1zM1 68h1v1h-1z"/><path fill="#e8c5bb" d="M52 6h1v1h-1zM19 7h1v1h-1zM69 10h1v1h-1zM51 12h1v1h-1zM33 20h1v1h-1zM59 20h1v1h-1zM36 24h1v1h-1zM38 31h1v1h-1zM28 33h1v1h-1zM40 33h1v1h-1zM57 37h1v1h-1zM3 42h1v1h-1zM38 43h1v1h-1zM35 44h1v1h-1zM70 44h1v1h-1zM4 47h1v1h-1zM38 52h1v1h-1zM7 58h1v1h-1zM4 60h1v1h-1zM16 62h1v1h-1zM59 64h1v1h-1z"/><path fill="#f2f7f7" d="M9 7h1v1h-1zM3 11h1v1h-1zM3 12h1v1h-1zM15 16h1v1h-1zM24 16h1v1h-1zM12 31h1v1h-1zM71 32h1v1h-1zM31 33h1v1h-1zM5 38h1v1h-1zM55 47h1v1h-1zM39 50h1v1h-1zM33 66h1v1h-1z"/><path fill="#ac5743" d="M28 7h2v1h-2zM42 23h1v1h-1zM42 27h1v1h-1zM44 29h1v1h-1zM48 29h1v1h-1zM36 34h1v1h-1zM37 35h1v1h-1zM64 42h1v1h-1zM64 43h1v1h-1zM16 59h1v1h-1zM0 70h1v1h-1zM0 71h2v1h-2z"/><path fill="#deac9d" d="M52 7h1v1h-1zM62 45h1v1h-1zM66 46h1v1h-1zM58 50h1v1h-1zM0 58h1v1h-1zM15 61h1v1h-1zM4 65h1v1h-1zM6 67h1v1h-1z"/><path fill="#a24334" d="M62 7h2v1h-2zM64 8h1v1h-1zM55 15h1v1h-1zM56 16h1v1h-1zM42 18h1v1h-1zM49 22h1v1h-1zM28 42h1v1h-1zM29 43h1v1h-1zM24 46h1v1h-1zM25 47h1v1h-1zM22 49h1v1h-1z"/><path fill="#a74839" d="M24 8h1v1h-1zM45 26h1v1h-1z"/><path fill="#a2432f" d="M25 8h1v1h-1zM28 8h1v1h-1zM63 43h1v1h-1z"/><path fill="#deb1a7" d="M52 8h1v1h-1zM56 8h1v1h-1zM38 12h1v1h-1zM63 15h1v1h-1zM71 16h1v1h-1zM35 17h1v1h-1zM37 17h1v1h-1zM37 23h1v1h-1zM42 25h1v1h-1zM36 26h1v1h-1zM46 29h1v1h-1zM49 30h1v1h-1zM42 32h1v1h-1zM18 33h1v1h-1zM59 33h1v1h-1zM48 34h1v1h-1zM54 34h1v1h-1zM57 41h1v1h-1zM17 43h1v1h-1zM69 43h2v1h-2zM5 45h1v1h-1zM60 45h1v1h-1zM29 48h1v1h-1zM59 48h1v1h-1zM8 50h1v1h-1zM24 52h1v1h-1zM25 53h1v1h-1zM57 56h1v1h-1zM69 56h1v1h-1zM0 57h1v1h-1zM11 58h1v1h-1zM19 59h1v1h-1zM13 60h1v1h-1zM4 62h2v1h-2zM2 63h1v1h-1zM21 63h1v1h-1zM1 65h1v1h-1zM7 70h1v1h-1z"/><path fill="#edd9d9" d="M55 8h1v1h-1zM63 16h1v1h-1zM34 26h1v1h-1zM25 34h1v1h-1zM33 36h1v1h-1zM54 36h1v1h-1zM45 37h1v1h-1zM35 38h1v1h-1zM29 51h1v1h-1zM26 66h1v1h-1z"/><path fill="#8e2a1b" d="M62 8h2v1h-2zM22 14h1v1h-1zM47 18h1v1h-1zM47 19h1v1h-1zM15 57h1v1h-1zM17 57h1v1h-1z"/><path fill="#e3b6ac" d="M12 9h1v1h-1zM38 14h1v1h-1zM71 15h1v1h-1zM57 33h1v1h-1zM16 43h1v1h-1zM16 50h1v1h-1zM37 53h1v1h-1zM21 55h1v1h-1zM68 55h1v1h-1z"/><path fill="#ac523e" d="M24 9h1v1h-1zM61 9h1v1h-1zM62 10h1v1h-1zM26 11h1v1h-1zM25 12h1v1h-1zM48 22h1v1h-1zM49 23h1v1h-1zM40 27h1v1h-1zM21 50h1v1h-1zM16 58h1v1h-1z"/><path fill="#933420" d="M25 9h1v1h-1zM57 14h1v1h-1zM13 57h1v1h-1zM14 58h1v1h-1z"/><path fill="#deb6a7" d="M56 9h1v1h-1zM27 10h1v1h-1zM14 11h1v1h-1zM55 12h1v1h-1zM27 13h1v1h-1zM62 15h1v1h-1zM39 26h1v1h-1zM45 32h1v1h-1zM46 35h1v1h-1zM37 38h2v1h-2zM69 42h1v1h-1zM58 44h1v1h-1zM61 44h1v1h-1zM5 50h1v1h-1zM4 52h1v1h-1zM24 53h1v1h-1zM57 55h1v1h-1zM0 56h1v1h-1zM19 56h1v1h-1zM67 59h1v1h-1zM21 66h1v1h-1zM19 67h1v1h-1z"/><path fill="#b15743" d="M26 10h1v1h-1zM48 21h1v1h-1zM44 23h1v1h-1zM50 23h1v1h-1zM48 27h1v1h-1zM12 59h1v1h-1zM1 70h1v1h-1z"/><path fill="#e3bbb6" d="M65 10h1v1h-1zM9 42h1v1h-1z"/><path fill="#b65c48" d="M24 11h1v1h-1z"/><path fill="#cfd4ed" d="M40 11h1v1h-1zM2 15h1v1h-1zM27 15h1v1h-1zM7 16h1v1h-1zM7 18h1v1h-1zM8 20h1v1h-1zM21 20h1v1h-1zM28 24h2v1h-2zM4 25h1v1h-1zM29 26h1v1h-1zM5 27h1v1h-1zM9 27h1v1h-1zM27 27h1v1h-1zM0 36h1v1h-1zM40 45h1v1h-1zM45 51h1v1h-1zM48 53h1v1h-1zM40 54h1v1h-1zM40 58h1v1h-1zM46 63h1v1h-1zM51 63h1v1h-1zM30 64h1v1h-1zM47 64h1v1h-1zM53 64h1v1h-1zM44 66h1v1h-1zM52 66h1v1h-1zM46 67h1v1h-1zM63 70h1v1h-1z"/><path fill="#cf897a" d="M64 11h1v1h-1zM39 22h1v1h-1zM41 27h1v1h-1zM23 42h1v1h-1zM26 42h2v1h-2zM29 44h1v1h-1zM29 45h1v1h-1z"/><path fill="#a24834" d="M22 12h1v1h-1zM24 14h1v1h-1zM54 15h1v1h-1zM56 17h1v1h-1zM44 19h1v1h-1zM48 23h1v1h-1zM35 39h1v1h-1zM26 45h1v1h-1zM25 46h1v1h-1zM22 47h1v1h-1zM12 58h1v1h-1zM13 59h1v1h-1z"/><path fill="#f7f2f7" d="M13 13h1v1h-1zM66 17h1v1h-1zM19 40h1v1h-1z"/><path fill="#edd4ca" d="M44 13h1v1h-1zM31 15h1v1h-1zM68 16h1v1h-1zM64 19h1v1h-1zM34 20h1v1h-1zM38 25h1v1h-1zM7 42h1v1h-1zM11 44h1v1h-1zM23 44h1v1h-1zM30 45h1v1h-1zM60 46h1v1h-1zM66 58h1v1h-1zM34 63h1v1h-1zM6 70h1v1h-1zM6 71h1v1h-1z"/><path fill="#bb6b52" d="M57 13h1v1h-1zM19 14h1v1h-1zM58 14h1v1h-1zM53 16h1v1h-1zM43 18h1v1h-1zM55 18h1v1h-1zM51 24h1v1h-1zM52 29h1v1h-1zM57 52h1v1h-1z"/><path fill="#e3bbac" d="M51 14h1v1h-1zM35 15h1v1h-1zM39 18h1v1h-1zM57 20h1v1h-1zM53 32h1v1h-1zM4 42h1v1h-1zM17 44h1v1h-1zM25 44h1v1h-1zM27 46h1v1h-1zM25 48h1v1h-1zM0 51h1v1h-1zM4 58h1v1h-1zM15 60h1v1h-1zM20 71h1v1h-1z"/><path fill="#bbc5e8" d="M0 15h2v1h-2zM3 15h1v1h-1zM4 18h1v1h-1zM3 19h1v1h-1zM5 20h1v1h-1zM20 20h1v1h-1zM29 21h1v1h-1zM3 22h1v1h-1zM18 22h1v1h-1zM28 22h1v1h-1zM19 23h2v1h-2zM3 24h1v1h-1zM18 24h1v1h-1zM3 26h1v1h-1zM18 29h1v1h-1zM0 40h1v1h-1zM0 41h2v1h-2zM42 42h1v1h-1zM44 42h1v1h-1zM50 42h1v1h-1zM49 43h1v1h-1zM45 68h1v1h-1zM47 68h1v1h-1zM49 68h1v1h-1z"/><path fill="#b6c5e8" d="M5 15h1v1h-1zM20 15h1v1h-1zM0 16h1v1h-1zM19 16h1v1h-1zM1 18h1v1h-1zM19 21h1v1h-1zM28 21h1v1h-1zM5 22h1v1h-1zM19 22h1v1h-1zM3 23h1v1h-1zM28 23h2v1h-2zM0 26h1v1h-1zM18 27h1v1h-1zM20 27h1v1h-1zM19 29h1v1h-1zM48 42h1v1h-1zM48 43h1v1h-1zM50 43h1v1h-1zM44 44h1v1h-1zM49 66h1v1h-1zM48 68h1v1h-1zM45 71h1v1h-1z"/><path fill="#acbbe3" d="M19 15h1v1h-1zM5 16h1v1h-1zM5 19h1v1h-1zM47 43h1v1h-1z"/><path fill="#d4d9ed" d="M29 15h1v1h-1zM21 19h1v1h-1zM21 29h1v1h-1zM1 31h1v1h-1zM3 40h1v1h-1zM40 42h1v1h-1zM53 46h1v1h-1zM53 47h1v1h-1zM47 51h1v1h-1zM50 52h1v1h-1zM44 53h1v1h-1zM29 55h1v1h-1zM63 64h1v1h-1zM31 68h1v1h-1zM40 70h1v1h-1z"/><path fill="#cf937f" d="M50 15h1v1h-1zM56 21h1v1h-1zM44 31h1v1h-1zM36 37h1v1h-1zM0 47h1v1h-1zM12 51h1v1h-1zM18 51h1v1h-1zM17 53h1v1h-1zM20 53h1v1h-1z"/><path fill="#983925" d="M56 15h1v1h-1zM42 22h1v1h-1zM47 24h1v1h-1zM49 29h1v1h-1zM21 52h1v1h-1z"/><path fill="#c5cfed" d="M3 16h1v1h-1zM3 17h1v1h-1zM18 17h1v1h-1zM1 19h1v1h-1zM19 20h1v1h-1zM0 21h1v1h-1zM27 21h1v1h-1zM20 22h1v1h-1zM1 23h1v1h-1zM27 23h1v1h-1zM1 24h1v1h-1zM14 26h1v1h-1zM0 39h1v1h-1zM45 44h1v1h-1zM47 44h2v1h-2zM50 44h1v1h-1zM14 48h1v1h-1zM40 52h1v1h-1zM67 68h1v1h-1zM47 70h2v1h-2zM50 71h1v1h-1z"/><path fill="#b1c0e3" d="M4 16h1v1h-1zM5 18h1v1h-1zM0 24h1v1h-1zM45 42h1v1h-1zM47 71h1v1h-1z"/><path fill="#c0cae8" d="M18 16h1v1h-1zM20 16h1v1h-1zM4 17h1v1h-1zM20 18h1v1h-1zM0 19h1v1h-1zM18 19h1v1h-1zM1 21h1v1h-1zM3 21h1v1h-1zM0 23h1v1h-1zM19 26h1v1h-1zM20 29h1v1h-1zM50 68h1v1h-1zM50 70h1v1h-1zM48 71h1v1h-1z"/><path fill="#d4def2" d="M28 16h2v1h-2zM22 18h1v1h-1zM2 21h1v1h-1zM2 23h1v1h-1zM14 25h1v1h-1zM29 29h1v1h-1zM1 36h1v1h-1zM23 36h1v1h-1zM0 38h1v1h-1zM21 40h1v1h-1zM24 40h1v1h-1zM25 41h1v1h-1zM9 48h1v1h-1zM9 49h2v1h-2zM10 50h1v1h-1zM12 50h1v1h-1zM31 50h1v1h-1zM49 52h1v1h-1zM47 53h1v1h-1zM49 53h1v1h-1zM51 53h1v1h-1zM40 57h1v1h-1zM47 57h1v1h-1zM25 59h1v1h-1zM40 63h1v1h-1zM64 63h1v1h-1zM32 64h1v1h-1zM51 66h1v1h-1zM65 66h1v1h-1zM68 67h1v1h-1zM51 68h1v1h-1zM48 69h1v1h-1zM50 69h1v1h-1z"/><path fill="#d99d8e" d="M69 16h1v1h-1zM46 34h1v1h-1z"/><path fill="#c0caed" d="M1 17h1v1h-1zM19 17h2v1h-2zM0 18h1v1h-1zM0 20h1v1h-1zM4 21h1v1h-1zM18 21h1v1h-1zM20 21h1v1h-1zM1 26h1v1h-1zM4 26h1v1h-1zM1 39h1v1h-1zM44 43h1v1h-1zM44 64h1v1h-1zM45 67h1v1h-1zM50 67h1v1h-1zM45 70h1v1h-1z"/><path fill="#b6c0e8" d="M5 17h1v1h-1zM5 21h1v1h-1zM4 22h1v1h-1zM50 66h1v1h-1zM49 67h1v1h-1z"/><path fill="#b1c0e8" d="M3 18h1v1h-1zM20 19h1v1h-1zM0 22h1v1h-1zM5 23h1v1h-1zM18 23h1v1h-1zM4 24h2v1h-2zM20 24h1v1h-1zM45 43h1v1h-1zM47 66h2v1h-2zM47 67h1v1h-1zM49 71h1v1h-1z"/><path fill="#bbcae8" d="M18 18h1v1h-1zM4 19h1v1h-1zM3 20h1v1h-1zM18 20h1v1h-1zM14 24h1v1h-1zM5 26h1v1h-1zM19 27h1v1h-1zM42 43h1v1h-1zM45 66h1v1h-1z"/><path fill="#a7b6e3" d="M19 18h1v1h-1zM19 19h1v1h-1zM19 24h1v1h-1z"/><path fill="#a74d3e" d="M44 20h1v1h-1z"/><path fill="#cacfed" d="M22 21h1v1h-1zM50 49h1v1h-1zM40 56h1v1h-1z"/><path fill="#9dacde" d="M29 22h1v1h-1zM49 42h1v1h-1z"/><path fill="#b1bbe3" d="M20 26h1v1h-1zM47 42h1v1h-1z"/><path fill="#a7523e" d="M16 57h1v1h-1z"/><path fill="#a24839" d="M7 63h1v1h-1zM8 64h1v1h-1z"/></g><line x1="394.7" y1="341.5" x2="216.2" y2="518.8" stroke="#9b3522" stroke-width="0.6" opacity="0.45"/><path d="M217.69 339.00V333.56H218.68V339.00M216.70 339.00V331.68H218.18V333.56M219.67 339.00V333.05H220.66V339.00M217.44 331.68V330.93H220.17V333.05M221.65 339.00V332.70H222.65V339.00M222.15 332.70V331.65H223.64V339.00M218.80 330.93V328.15H222.89V331.65M226.61 339.00V333.43H227.60V339.00M225.62 339.00V332.04H227.11V333.43M226.36 332.04V331.56H228.60V339.00M224.63 339.00V329.45H227.48V331.56M220.85 328.15V327.11H226.05V329.45M231.57 339.00V333.22H232.56V339.00M233.55 339.00V332.94H234.55V339.00M232.07 333.22V331.37H234.05V332.94M230.58 339.00V331.07H233.06V331.37M229.59 339.00V330.77H231.82V331.07M236.53 339.00V332.46H237.52V339.00M235.54 339.00V332.08H237.02V332.46M238.51 339.00V332.43H239.50V339.00M239.01 332.43V331.74H240.50V339.00M236.28 332.08V330.61H239.75V331.74M241.49 339.00V332.15H242.48V339.00M241.98 332.15V330.80H243.47V339.00M238.02 330.61V330.31H242.73V330.80M244.46 339.00V332.71H245.45V339.00M240.37 330.31V329.84H244.96V332.71M230.70 330.77V326.30H242.67V329.84M223.45 327.11V326.00H236.68V326.30M246.45 339.00V333.05H247.44V339.00M248.43 339.00V332.35H249.42V339.00M246.94 333.05V331.82H248.92V332.35M247.93 331.82V329.81H250.41V339.00M252.40 339.00V332.51H253.39V339.00M251.40 339.00V331.43H252.89V332.51M254.38 339.00V333.48H255.37V339.00M256.36 339.00V332.97H257.35V339.00M254.88 333.48V331.04H256.86V332.97M252.15 331.43V330.74H255.87V331.04M249.17 329.81V328.76H254.01V330.74M258.35 339.00V332.08H259.34V339.00M260.33 339.00V333.27H261.32V339.00M260.82 333.27V331.42H262.31V339.00M258.84 332.08V330.56H261.57V331.42M263.30 339.00V332.92H264.30V339.00M263.80 332.92V331.70H265.29V339.00M264.54 331.70V330.58H266.28V339.00M267.27 339.00V333.24H268.26V339.00M265.41 330.58V330.28H267.77V333.24M260.21 330.56V327.80H266.59V330.28M269.25 339.00V332.36H270.25V339.00M269.75 332.36V331.93H271.24V339.00M272.23 339.00V332.34H273.22V339.00M272.72 332.34V331.73H274.21V339.00M270.49 331.93V329.74H273.47V331.73M263.40 327.80V325.63H271.98V329.74M251.59 328.76V323.62H267.69V325.63M276.20 339.00V333.44H277.19V339.00M275.20 339.00V331.02H276.69V333.44M278.18 339.00V333.68H279.17V339.00M278.68 333.68V330.85H280.16V339.00M282.15 339.00V332.67H283.14V339.00M281.15 339.00V331.10H282.64V332.67M279.42 330.85V329.53H281.90V331.10M275.95 331.02V328.47H280.66V329.53M285.12 339.00V333.20H286.11V339.00M284.13 339.00V331.99H285.62V333.20M278.30 328.47V328.17H284.87V331.99M281.59 328.17V327.43H287.10V339.00M259.64 323.62V322.40H284.35V327.43M229.60 326.00V319.30H277.30V322.40M289.09 339.00V332.28H290.08V339.00M288.10 339.00V331.73H289.58V332.28M292.06 339.00V333.24H293.05V339.00M291.07 339.00V331.84H292.56V333.24M294.05 339.00V333.04H295.04V339.00M291.81 331.84V330.36H294.54V333.04M288.84 331.73V330.06H293.18V330.36M291.01 330.06V329.22H296.03V339.00M297.02 339.00V333.55H298.01V339.00M297.52 333.55V331.73H299.00V339.00M300.00 339.00V333.49H300.99V339.00M298.26 331.73V329.25H300.49V333.49M302.97 339.00V332.15H303.96V339.00M301.98 339.00V331.85H303.47V332.15M304.95 339.00V333.30H305.95V339.00M302.72 331.85V330.63H305.45V333.30M299.38 329.25V328.81H304.09V330.63M293.52 329.22V319.50H301.73V328.81M306.94 339.00V332.69H307.93V339.00M308.92 339.00V332.79H309.91V339.00M311.90 339.00V332.51H312.89V339.00M310.90 339.00V331.87H312.39V332.51M311.65 331.87V331.07H313.88V339.00M312.76 331.07V330.77H314.87V339.00M313.82 330.77V330.47H315.86V339.00M316.85 339.00V332.59H317.85V339.00M314.84 330.47V330.04H317.35V332.59M309.42 332.79V329.74H316.09V330.04M307.43 332.69V328.85H312.76V329.74M318.84 339.00V333.01H319.83V339.00M320.82 339.00V332.58H321.81V339.00M319.33 333.01V331.69H321.32V332.58M322.80 339.00V332.95H323.80V339.00M325.78 339.00V332.75H326.77V339.00M324.79 339.00V332.45H326.27V332.75M323.30 332.95V330.29H325.53V332.45M328.75 339.00V332.41H329.75V339.00M327.76 339.00V332.11H329.25V332.41M324.42 330.29V329.99H328.51V332.11M320.32 331.69V329.69H326.46V329.99M310.09 328.85V326.27H323.39V329.69M332.72 339.00V333.50H333.71V339.00M334.70 339.00V332.69H335.70V339.00M336.69 339.00V333.10H337.68V339.00M335.20 332.69V331.09H337.18V333.10M333.22 333.50V330.79H336.19V331.09M338.67 339.00V332.77H339.66V339.00M334.70 330.79V330.49H339.17V332.77M331.73 339.00V330.19H336.94V330.49M330.74 339.00V329.89H334.33V330.19M341.65 339.00V333.30H342.64V339.00M342.14 333.30V331.44H343.63V339.00M340.65 339.00V331.14H342.89V331.44M344.62 339.00V333.51H345.61V339.00M341.77 331.14V330.84H345.12V333.51M346.60 339.00V332.50H347.60V339.00M343.44 330.84V329.60H347.10V332.50M349.58 339.00V332.50H350.57V339.00M348.59 339.00V332.20H350.07V332.50M349.33 332.20V331.74H351.56V339.00M345.27 329.60V329.30H350.45V331.74M332.53 329.89V326.15H347.86V329.30M316.74 326.27V321.20H340.20V326.15M352.55 339.00V333.36H353.55V339.00M355.53 339.00V333.15H356.52V339.00M354.54 339.00V331.97H356.02V333.15M357.51 339.00V332.34H358.50V339.00M355.28 331.97V331.19H358.01V332.34M353.05 333.36V330.49H356.64V331.19M359.50 339.00V333.39H360.49V339.00M359.99 333.39V331.63H361.48V339.00M362.47 339.00V332.94H363.46V339.00M362.97 332.94V331.46H364.45V339.00M360.74 331.63V329.71H363.71V331.46M365.45 339.00V333.47H366.44V339.00M365.94 333.47V331.56H367.43V339.00M362.22 329.71V329.17H366.69V331.56M354.85 330.49V326.42H364.45V329.17M370.40 339.00V333.47H371.40V339.00M369.41 339.00V332.41H370.90V333.47M368.42 339.00V330.24H370.16V332.41M373.38 339.00V333.67H374.37V339.00M372.39 339.00V331.51H373.88V333.67M369.29 330.24V329.47H373.13V331.51M375.36 339.00V333.12H376.35V339.00M375.86 333.12V330.99H377.35V339.00M378.34 339.00V333.38H379.33V339.00M378.83 333.38V331.48H380.32V339.00M376.60 330.99V329.55H379.58V331.48M371.21 329.47V329.17H378.09V329.55M381.31 339.00V332.51H382.30V339.00M374.65 329.17V326.41H381.81V332.51M383.30 339.00V332.81H384.29V339.00M386.27 339.00V333.63H387.26V339.00M388.25 339.00V333.22H389.25V339.00M386.77 333.63V331.38H388.75V333.22M385.28 339.00V329.62H387.76V331.38M390.24 339.00V332.41H391.23V339.00M392.22 339.00V333.46H393.21V339.00M390.73 332.41V331.51H392.72V333.46M391.73 331.51V331.06H394.20V339.00M386.52 329.62V329.14H392.96V331.06M383.79 332.81V327.40H389.74V329.14M378.23 326.41V324.30H386.77V327.40M359.65 326.42V321.90H382.50V324.30M331.80 321.20V318.60H369.10V321.90M298.10 319.50V317.60H350.00V318.60M259.60 319.30V312.80H323.90V317.60" fill="none" stroke="#1f1f17" stroke-width="0.7"/><rect x="216.2" y="333.3" width="178.50" height="5.7" fill="#1f1f17"/><polygon points="216.2,333.5 216.2,326.8 218.2,330.4 219.9,329.9 222.2,325.9 223.4,324.6 225.3,324.2 226.8,324.4 229.1,331.4 231.0,325.5 233.0,329.7 234.8,328.8 237.4,325.3 239.6,327.8 240.6,328.9 242.4,327.8 243.6,331.2 245.4,330.5 246.7,329.7 248.5,326.9 249.6,331.2 251.6,325.5 253.6,331.2 255.1,328.4 257.0,329.8 259.3,325.2 261.4,324.0 262.9,330.0 265.0,326.5 267.6,331.8 269.7,327.1 270.7,325.0 272.5,327.7 274.4,325.8 276.8,327.8 278.1,325.2 280.6,330.0 283.0,331.6 285.0,330.0 286.3,328.2 287.6,331.0 289.7,330.4 291.2,327.8 292.4,332.3 294.5,329.3 296.9,329.9 299.0,327.3 300.8,327.8 302.8,327.8 304.3,326.2 305.9,328.7 308.2,330.6 309.9,330.7 311.7,331.0 312.9,328.0 314.4,332.4 315.6,330.6 317.9,332.2 319.8,331.3 321.9,330.4 323.8,331.8 325.7,331.9 327.6,326.9 329.6,331.6 331.0,327.9 333.3,331.0 335.7,326.5 336.9,329.5 339.4,325.7 341.2,331.5 343.3,327.7 345.5,331.6 346.6,325.2 348.8,331.6 349.8,327.3 351.1,324.8 352.8,326.2 354.5,327.8 355.7,328.2 357.2,329.8 358.8,332.4 360.1,328.0 362.1,330.5 363.8,326.8 365.3,330.7 367.6,327.1 369.1,324.9 370.2,325.4 372.3,324.7 373.6,328.0 375.1,329.0 376.7,328.4 378.1,326.3 380.2,324.8 382.6,324.1 384.4,326.9 386.9,327.4 389.0,332.1 390.5,332.5 391.6,325.4 392.6,329.3 394.3,331.2 394.7,331.5 394.7,333.5" fill="#1f1f17" opacity="0.42"/><polygon points="216.2,333.5 216.2,327.4 217.9,332.1 219.8,331.0 221.3,333.0 222.6,332.7 224.5,332.1 225.4,330.0 227.4,332.9 228.7,332.5 230.8,332.4 232.8,326.7 234.2,331.6 235.7,329.4 237.7,329.9 238.8,329.4 240.6,330.7 242.5,328.1 244.4,329.3 246.5,331.5 247.9,329.0 249.2,329.2 251.0,331.0 252.5,330.0 253.6,330.8 255.3,329.0 256.6,331.6 258.2,332.6 259.1,329.9 260.4,330.3 262.5,331.4 264.7,330.6 266.7,331.5 267.9,332.4 268.8,329.9 270.2,332.8 271.4,331.3 272.4,328.5 274.5,330.0 276.0,329.2 277.5,332.9 278.6,329.8 280.6,331.3 282.3,331.8 283.8,329.9 284.6,329.2 285.4,330.4 287.4,332.0 288.8,329.4 289.8,329.2 290.6,332.4 292.6,332.5 294.2,331.0 295.3,328.9 296.6,330.8 297.5,329.5 299.4,333.0 300.8,327.2 301.9,332.0 303.7,332.8 305.0,329.4 306.2,330.8 308.3,327.7 309.9,329.1 311.1,330.9 312.7,327.1 314.8,331.7 317.0,329.3 317.9,330.0 319.4,332.9 321.1,330.9 322.4,332.1 323.3,332.0 325.1,330.1 326.5,331.5 328.0,329.1 328.9,331.0 330.7,329.9 332.4,330.3 334.4,330.3 335.5,331.5 337.2,329.1 339.4,328.6 340.6,332.4 342.2,328.6 344.3,331.2 345.3,330.2 346.3,330.4 348.1,329.2 349.3,329.6 350.4,332.2 352.0,331.5 354.1,331.3 355.8,332.3 357.1,332.2 359.3,327.1 361.4,332.9 362.9,327.7 364.7,333.0 366.2,328.6 367.7,331.5 368.6,329.7 370.2,328.9 371.5,332.1 373.5,329.3 375.5,327.8 376.4,330.0 378.3,329.3 380.2,330.5 381.7,331.6 382.9,331.8 384.5,332.7 385.4,330.3 386.5,332.8 387.4,330.3 389.1,329.2 391.2,331.4 392.9,330.9 393.8,332.1 394.7,331.5 394.7,333.5" fill="#1f1f17" opacity="0.72"/><path d="M213.40 517.32H207.75V516.34H213.40M213.40 518.31H205.80V516.83H207.75M213.40 515.35H207.22V514.37H213.40M205.80 517.57H205.02V514.86H207.22M213.40 513.38H206.85V512.40H213.40M206.85 512.89H205.77V511.41H213.40M205.02 516.21H202.14V512.15H205.77M213.40 508.46H207.61V507.47H213.40M213.40 509.44H206.18V507.96H207.61M206.18 508.70H205.67V506.49H213.40M213.40 510.43H203.49V507.60H205.67M202.14 514.18H201.05V509.01H203.49M213.40 503.53H207.40V502.55H213.40M213.40 501.56H207.11V500.58H213.40M207.40 503.04H205.48V501.07H207.11M213.40 504.52H205.17V502.05H205.48M213.40 505.50H204.86V503.29H205.17M213.40 498.61H206.62V497.62H213.40M213.40 499.59H206.22V498.11H206.62M213.40 496.64H206.58V495.65H213.40M206.58 496.14H205.86V494.67H213.40M206.22 498.85H204.69V495.41H205.86M213.40 493.68H206.29V492.70H213.40M206.29 493.19H204.89V491.71H213.40M204.69 497.13H204.38V492.45H204.89M213.40 490.73H206.87V489.74H213.40M204.38 494.79H203.89V490.23H206.87M204.86 504.39H200.22V492.51H203.89M201.05 511.60H199.90V498.45H200.22M213.40 488.76H207.22V487.77H213.40M213.40 486.79H206.49V485.80H213.40M207.22 488.26H205.94V486.29H206.49M205.94 487.28H203.86V484.82H213.40M213.40 482.85H206.66V481.86H213.40M213.40 483.83H205.54V482.35H206.66M213.40 480.88H207.67V479.89H213.40M213.40 478.91H207.14V477.92H213.40M207.67 480.38H205.13V478.41H207.14M205.54 483.09H204.82V479.40H205.13M203.86 486.05H202.77V481.25H204.82M213.40 476.94H206.21V475.95H213.40M213.40 474.97H207.46V473.98H213.40M207.46 474.47H205.53V473.00H213.40M206.21 476.44H204.64V473.74H205.53M213.40 472.01H207.08V471.03H213.40M207.08 471.52H205.82V470.04H213.40M205.82 470.78H204.66V469.06H213.40M213.40 468.07H207.42V467.09H213.40M204.66 469.92H204.35V467.58H207.42M204.64 475.09H201.77V468.75H204.35M213.40 466.10H206.51V465.12H213.40M206.51 465.61H206.07V464.13H213.40M213.40 463.15H206.49V462.16H213.40M206.49 462.65H205.86V461.18H213.40M206.07 464.87H203.79V461.92H205.86M201.77 471.92H199.52V463.39H203.79M202.77 483.65H197.43V467.66H199.52M213.40 459.21H207.63V458.22H213.40M213.40 460.19H205.11V458.71H207.63M213.40 457.24H207.88V456.25H213.40M207.88 456.74H204.93V455.27H213.40M213.40 453.30H206.83V452.31H213.40M213.40 454.28H205.20V452.80H206.83M204.93 456.01H203.57V453.54H205.20M205.11 459.45H202.47V454.77H203.57M213.40 450.34H207.38V449.36H213.40M213.40 451.33H206.12V449.85H207.38M202.47 457.11H202.16V450.59H206.12M202.16 453.85H201.39V448.37H213.40M197.43 475.65H196.17V451.11H201.39M199.90 505.49H192.95V458.11H196.17M213.40 446.40H206.42V445.42H213.40M213.40 447.39H205.85V445.91H206.42M213.40 443.45H207.42V442.46H213.40M213.40 444.43H205.97V442.95H207.42M213.40 441.48H207.22V440.49H213.40M205.97 443.69H204.43V440.99H207.22M205.85 446.65H204.12V442.34H204.43M204.12 444.49H203.24V439.51H213.40M213.40 438.52H207.74V437.54H213.40M207.74 438.03H205.85V436.55H213.40M213.40 435.57H207.68V434.58H213.40M205.85 437.29H203.28V435.07H207.68M213.40 432.61H206.29V431.63H213.40M213.40 433.60H205.98V432.12H206.29M213.40 430.64H207.48V429.66H213.40M205.98 432.86H204.71V430.15H207.48M203.28 436.18H202.82V431.50H204.71M203.24 442.00H193.16V433.84H202.82M213.40 428.67H206.85V427.69H213.40M213.40 426.70H206.96V425.72H213.40M213.40 423.75H206.66V422.76H213.40M213.40 424.73H206.00V423.25H206.66M206.00 423.99H205.17V421.78H213.40M205.17 422.89H204.86V420.79H213.40M204.86 421.84H204.55V419.81H213.40M213.40 418.82H206.74V417.84H213.40M204.55 420.82H204.10V418.33H206.74M206.96 426.21H203.79V419.58H204.10M206.85 428.18H202.87V422.89H203.79M213.40 416.85H207.18V415.87H213.40M213.40 414.88H206.73V413.90H213.40M207.18 416.36H205.81V414.39H206.73M213.40 412.91H207.12V411.93H213.40M213.40 409.96H206.91V408.97H213.40M213.40 410.94H206.60V409.46H206.91M207.12 412.42H204.36V410.20H206.60M213.40 407.00H206.56V406.02H213.40M213.40 407.99H206.25V406.51H206.56M204.36 411.31H204.05V407.25H206.25M205.81 415.38H203.74V409.28H204.05M202.87 425.54H200.18V412.33H203.74M213.40 403.06H207.69V402.08H213.40M213.40 401.09H206.85V400.11H213.40M213.40 399.12H207.27V398.14H213.40M206.85 400.60H205.18V398.63H207.27M207.69 402.57H204.87V399.61H205.18M213.40 397.15H206.93V396.17H213.40M204.87 401.09H204.56V396.66H206.93M213.40 404.05H204.25V398.88H204.56M213.40 405.03H203.94V401.46H204.25M213.40 394.20H207.49V393.21H213.40M207.49 393.70H205.55V392.23H213.40M213.40 395.18H205.24V392.97H205.55M213.40 391.24H207.70V390.26H213.40M205.24 394.07H204.93V390.75H207.70M213.40 389.27H206.65V388.29H213.40M204.93 392.41H203.65V388.78H206.65M213.40 386.32H206.65V385.33H213.40M213.40 387.30H206.34V385.82H206.65M206.34 386.56H205.86V384.35H213.40M203.65 390.60H203.33V385.46H205.86M203.94 403.25H200.05V388.03H203.33M200.18 418.93H194.92V395.64H200.05M213.40 383.36H207.54V382.38H213.40M213.40 380.41H207.32V379.42H213.40M213.40 381.39H206.10V379.92H207.32M213.40 378.44H206.48V377.45H213.40M206.10 380.65H205.29V377.94H206.48M207.54 382.87H204.57V379.30H205.29M213.40 376.47H207.58V375.48H213.40M207.58 375.97H205.75V374.50H213.40M213.40 373.51H207.11V372.53H213.40M207.11 373.02H205.57V371.54H213.40M205.75 375.24H203.76V372.28H205.57M213.40 370.56H207.66V369.57H213.40M207.66 370.06H205.68V368.59H213.40M203.76 373.76H203.19V369.33H205.68M204.57 381.08H200.34V371.54H203.19M213.40 365.63H207.66V364.65H213.40M213.40 366.62H206.56V365.14H207.66M213.40 367.60H204.30V365.88H206.56M213.40 362.68H207.87V361.69H213.40M213.40 363.66H205.63V362.19H207.87M204.30 366.74H203.51V362.92H205.63M213.40 360.71H207.30V359.72H213.40M207.30 360.21H205.08V358.74H213.40M213.40 357.75H207.57V356.77H213.40M207.57 357.26H205.60V355.78H213.40M205.08 359.48H203.59V356.52H205.60M203.51 364.83H203.20V358.00H203.59M213.40 354.80H206.67V353.81H213.40M203.20 361.42H200.33V354.31H206.67M213.40 352.83H206.98V351.84H213.40M213.40 349.87H207.82V348.89H213.40M213.40 347.90H207.40V346.92H213.40M207.82 349.38H205.49V347.41H207.40M213.40 350.86H203.66V348.39H205.49M213.40 345.93H206.55V344.95H213.40M213.40 343.96H207.65V342.98H213.40M206.55 345.44H205.62V343.47H207.65M205.62 344.45H205.16V341.99H213.40M203.66 349.63H203.16V343.22H205.16M206.98 352.34H201.36V346.42H203.16M200.33 357.86H198.14V349.38H201.36M200.34 376.31H195.65V353.62H198.14M194.92 403.97H192.22V366.92H195.65M193.16 437.45H191.18V385.90H192.22M192.95 475.69H186.20V411.82H191.18" fill="none" stroke="#1f1f17" stroke-width="0.7"/><rect x="207.80" y="341.5" width="5.6" height="177.30" fill="#1f1f17"/><polygon points="207.9,518.8 201.6,518.8 206.5,517.1 205.3,515.2 207.4,513.7 207.1,512.4 206.4,510.5 204.3,509.7 207.2,507.7 206.9,506.4 206.7,504.3 200.9,502.4 206.0,500.9 203.6,499.5 204.1,497.5 203.7,496.4 205.0,494.5 202.3,492.7 203.5,490.8 205.9,488.7 203.2,487.3 203.5,486.0 205.3,484.2 204.3,482.7 205.1,481.6 203.2,480.0 205.9,478.7 207.0,477.1 204.2,476.2 204.6,474.9 205.7,472.8 204.9,470.6 205.8,468.6 206.7,467.5 204.2,466.6 207.2,465.1 205.6,464.0 202.7,462.9 204.3,460.9 203.4,459.4 207.3,457.9 204.1,456.8 205.6,454.8 206.1,453.2 204.2,451.7 203.4,450.8 204.7,450.0 206.3,448.0 203.6,446.7 203.5,445.7 206.8,444.9 206.9,442.9 205.3,441.3 203.2,440.2 205.1,438.9 203.8,438.0 207.3,436.2 201.4,434.7 206.3,433.7 207.2,431.9 203.6,430.6 205.1,429.4 201.9,427.3 203.4,425.8 205.2,424.6 201.2,423.0 206.1,420.8 203.5,418.6 204.2,417.8 207.3,416.3 205.2,414.6 206.4,413.3 206.4,412.4 204.4,410.7 205.8,409.2 203.4,407.8 205.3,406.9 204.1,405.1 204.6,403.4 204.5,401.4 205.8,400.3 203.4,398.6 202.8,396.5 206.8,395.2 202.8,393.7 205.5,391.6 204.5,390.6 204.7,389.5 203.4,387.8 203.9,386.5 206.6,385.5 205.8,383.9 205.6,381.8 206.7,380.2 206.6,378.8 201.2,376.7 207.3,374.6 201.9,373.1 207.3,371.3 202.8,369.8 205.8,368.4 204.0,367.4 203.2,365.9 206.4,364.5 203.5,362.6 201.9,360.6 204.3,359.7 203.6,357.8 204.8,355.9 206.0,354.4 206.1,353.3 207.1,351.6 204.6,350.7 207.1,349.6 204.6,348.8 203.4,347.1 205.7,345.0 205.2,343.2 206.5,342.3 205.8,341.5 207.9,341.5" fill="#1f1f17" opacity="0.72"/><polygon points="207.9,518.8 200.9,518.8 204.7,516.8 204.2,515.1 200.0,512.9 198.6,511.6 198.2,509.8 198.4,508.3 205.8,506.0 199.6,504.1 204.0,502.1 203.0,500.3 199.4,497.7 202.0,495.6 203.2,494.5 202.0,492.7 205.5,491.6 204.8,489.8 204.0,488.5 201.1,486.7 205.5,485.6 199.6,483.6 205.5,481.7 202.6,480.1 204.0,478.3 199.3,476.0 198.1,473.9 204.2,472.4 200.7,470.4 206.2,467.8 201.3,465.6 199.1,464.7 201.8,462.9 199.9,461.0 201.9,458.6 199.3,457.3 204.2,454.8 205.9,452.4 204.3,450.5 202.4,449.1 205.3,447.9 204.7,445.8 202.0,444.3 206.7,443.1 203.5,441.0 204.1,438.6 201.5,436.5 201.9,434.8 202.0,432.8 200.3,431.3 202.9,429.7 204.9,427.4 205.0,425.8 205.3,423.9 202.2,422.7 206.7,421.3 204.9,420.1 206.5,417.7 205.6,415.9 204.7,413.8 206.1,412.0 206.2,410.1 201.0,408.2 205.9,406.2 202.0,404.7 205.3,402.5 200.7,400.1 203.8,398.9 199.8,396.4 205.8,394.6 201.8,392.6 206.0,390.3 199.3,389.3 205.9,387.1 201.5,386.1 198.9,384.8 200.4,383.2 202.0,381.5 202.4,380.2 204.0,378.8 206.8,377.2 202.2,375.9 204.8,373.9 201.0,372.2 205.0,370.7 201.3,368.4 199.0,367.0 199.5,365.8 198.8,363.8 202.2,362.5 203.2,360.9 202.6,359.4 200.5,358.0 198.8,355.9 198.2,353.5 201.1,351.7 201.6,349.2 206.5,347.2 206.8,345.7 199.5,344.6 203.6,343.6 205.5,341.9 205.8,341.5 207.9,341.5" fill="#1f1f17" opacity="0.42"/><rect x="403.2" y="342.0" width="7.6" height="176.7" fill="#dc9470"/><rect x="403.2" y="351.3" width="7.6" height="0.90" fill="#a3acd9"/><rect x="403.2" y="353.4" width="7.6" height="1.50" fill="#a3acd9"/><rect x="403.2" y="373.6" width="7.6" height="2.50" fill="#a3acd9"/><rect x="403.2" y="407.2" width="7.6" height="1.40" fill="#a3acd9"/><rect x="403.2" y="418.5" width="7.6" height="9.50" fill="#a3acd9"/><rect x="403.2" y="430.5" width="7.6" height="1.00" fill="#a3acd9"/><rect x="403.2" y="434" width="7.6" height="7.00" fill="#a3acd9"/><rect x="403.2" y="443" width="7.6" height="2.50" fill="#a3acd9"/><rect x="403.2" y="447" width="7.6" height="1.00" fill="#a3acd9"/><rect x="403.2" y="450.5" width="7.6" height="2.10" fill="#a3acd9"/><rect x="403.2" y="455.5" width="7.6" height="63.20" fill="#a3acd9"/><rect x="403.2" y="473.0" width="7.6" height="1.0" fill="#dc9470"/><rect x="411.3" y="342.0" width="6.8" height="176.7" fill="#f3eff5"/><rect x="411.3" y="343.50" width="6.8" height="1.6" fill="rgb(170, 160, 195)"/><rect x="411.3" y="350.70" width="6.8" height="1.6" fill="rgb(203, 196, 218)"/><rect x="411.3" y="355.90" width="6.8" height="1.6" fill="rgb(131, 118, 169)"/><rect x="411.3" y="359.00" width="6.8" height="1.6" fill="rgb(183, 175, 204)"/><rect x="411.3" y="361.70" width="6.8" height="1.6" fill="rgb(177, 168, 200)"/><rect x="411.3" y="364.20" width="6.8" height="1.6" fill="rgb(203, 196, 218)"/><rect x="411.3" y="367.70" width="6.8" height="1.6" fill="rgb(203, 196, 218)"/><rect x="411.3" y="370.70" width="6.8" height="1.6" fill="rgb(183, 175, 204)"/><rect x="411.3" y="374.20" width="6.8" height="1.6" fill="rgb(210, 203, 222)"/><rect x="411.3" y="378.20" width="6.8" height="1.6" fill="rgb(203, 196, 218)"/><rect x="411.3" y="381.20" width="6.8" height="1.6" fill="rgb(183, 175, 204)"/><rect x="411.3" y="385.20" width="6.8" height="1.6" fill="rgb(210, 203, 222)"/><rect x="411.3" y="389.70" width="6.8" height="1.6" fill="rgb(190, 182, 209)"/><rect x="411.3" y="393.70" width="6.8" height="1.6" fill="rgb(183, 175, 204)"/><rect x="411.3" y="396.70" width="6.8" height="1.6" fill="rgb(203, 196, 218)"/><rect x="411.3" y="400.20" width="6.8" height="1.6" fill="rgb(203, 196, 218)"/><rect x="411.3" y="404.20" width="6.8" height="1.6" fill="rgb(203, 196, 218)"/><rect x="411.3" y="407.20" width="6.8" height="1.6" fill="rgb(210, 203, 222)"/><rect x="411.3" y="411.10" width="6.8" height="1.6" fill="rgb(137, 125, 173)"/><rect x="411.3" y="413.70" width="6.8" height="1.6" fill="rgb(183, 175, 204)"/><rect x="411.3" y="416.20" width="6.8" height="1.6" fill="rgb(203, 196, 218)"/><rect x="411.3" y="420.70" width="6.8" height="1.6" fill="rgb(203, 196, 218)"/><rect x="411.3" y="423.20" width="6.8" height="1.6" fill="rgb(210, 203, 222)"/><rect x="411.3" y="426.20" width="6.8" height="1.6" fill="rgb(203, 196, 218)"/><rect x="411.3" y="429.50" width="6.8" height="1.6" fill="rgb(177, 168, 200)"/><rect x="411.3" y="433.50" width="6.8" height="1.6" fill="rgb(177, 168, 200)"/><rect x="411.3" y="437.70" width="6.8" height="1.6" fill="rgb(163, 153, 191)"/><rect x="411.3" y="441.50" width="6.8" height="1.6" fill="rgb(203, 196, 218)"/><rect x="411.3" y="443.70" width="6.8" height="1.6" fill="rgb(183, 175, 204)"/><rect x="411.3" y="446.20" width="6.8" height="1.6" fill="rgb(210, 203, 222)"/><rect x="411.3" y="451.20" width="6.8" height="1.6" fill="rgb(210, 203, 222)"/><rect x="411.3" y="454.20" width="6.8" height="1.6" fill="rgb(203, 196, 218)"/><rect x="411.3" y="457.20" width="6.8" height="1.6" fill="rgb(210, 203, 222)"/><rect x="411.3" y="460.70" width="6.8" height="1.6" fill="rgb(183, 175, 204)"/><rect x="411.3" y="463.90" width="6.8" height="1.6" fill="rgb(163, 153, 191)"/><rect x="411.3" y="468.20" width="6.8" height="1.6" fill="rgb(216, 210, 227)"/><rect x="411.3" y="476.20" width="6.8" height="1.6" fill="rgb(223, 217, 231)"/><rect x="411.3" y="478.70" width="6.8" height="1.6" fill="rgb(131, 118, 169)"/><rect x="411.3" y="482.60" width="6.8" height="1.6" fill="rgb(137, 125, 173)"/><rect x="411.3" y="486.20" width="6.8" height="1.6" fill="rgb(210, 203, 222)"/><rect x="411.3" y="489.70" width="6.8" height="1.6" fill="rgb(157, 146, 186)"/><rect x="411.3" y="492.60" width="6.8" height="1.6" fill="rgb(177, 168, 200)"/><rect x="411.3" y="496.20" width="6.8" height="1.6" fill="rgb(216, 210, 227)"/><rect x="411.3" y="498.80" width="6.8" height="1.6" fill="rgb(203, 196, 218)"/><rect x="411.3" y="501.50" width="6.8" height="1.6" fill="rgb(196, 189, 213)"/><rect x="411.3" y="503.70" width="6.8" height="1.6" fill="rgb(210, 203, 222)"/><rect x="411.3" y="508.20" width="6.8" height="1.6" fill="rgb(196, 189, 213)"/><rect x="411.3" y="511.70" width="6.8" height="1.6" fill="rgb(183, 175, 204)"/><rect x="411.3" y="514.70" width="6.8" height="1.6" fill="rgb(203, 196, 218)"/><text x="430.00" y="356.90" font-size="5.0" text-anchor="start" fill="#231f20" >Spearman</text><text x="430.00" y="362.70" font-size="5.1" text-anchor="start" fill="#231f20" >correlation</text><rect x="429.6" y="368.1" width="9.8" height="46.5" fill="url(#spear)"/><path d="M429.6 371.0h1.6M437.8 371.0h1.6" stroke="#fff" stroke-width="0.7"/><text x="441.90" y="372.80" font-size="5.0" text-anchor="start" fill="#231f20" >1</text><path d="M429.6 381.4h1.6M437.8 381.4h1.6" stroke="#fff" stroke-width="0.7"/><text x="441.90" y="383.20" font-size="5.0" text-anchor="start" fill="#231f20" >0.5</text><path d="M429.6 391.9h1.6M437.8 391.9h1.6" stroke="#fff" stroke-width="0.7"/><text x="441.90" y="393.70" font-size="5.0" text-anchor="start" fill="#231f20" >0</text><path d="M429.6 401.3h1.6M437.8 401.3h1.6" stroke="#fff" stroke-width="0.7"/><text x="441.90" y="403.10" font-size="5.0" text-anchor="start" fill="#231f20" >−0.5</text><path d="M429.6 412.1h1.6M437.8 412.1h1.6" stroke="#fff" stroke-width="0.7"/><text x="441.90" y="413.90" font-size="5.0" text-anchor="start" fill="#231f20" >−1</text><text x="430.00" y="424.80" font-size="5.0" text-anchor="start" fill="#231f20" >Lineage</text><rect x="429.6" y="428.3" width="9.1" height="8.3" fill="#dc9470"/><rect x="429.6" y="437.8" width="9.1" height="7.9" fill="#a3acd9"/><text x="442.00" y="435.40" font-size="5.2" text-anchor="start" fill="#231f20" >Myeloid</text><text x="442.00" y="444.30" font-size="5.3" text-anchor="start" fill="#231f20" >Lymphoid</text><text x="430.00" y="456.50" font-size="4.8" text-anchor="start" fill="#231f20" >LTA log2 KO / WT</text><rect x="429.6" y="467.0" width="9.8" height="39.6" fill="url(#ltag)"/><text x="441.90" y="465.10" font-size="5.0" text-anchor="start" fill="#231f20" >0</text><path d="M429.6 473.4h1.6M437.8 473.4h1.6" stroke="#fff" stroke-width="0.7"/><text x="441.90" y="475.20" font-size="5.0" text-anchor="start" fill="#231f20" >−2</text><path d="M429.6 482.8h1.6M437.8 482.8h1.6" stroke="#fff" stroke-width="0.7"/><text x="441.90" y="484.60" font-size="5.0" text-anchor="start" fill="#231f20" >−4</text><path d="M429.6 493.6h1.6M437.8 493.6h1.6" stroke="#fff" stroke-width="0.7"/><text x="441.90" y="495.40" font-size="5.0" text-anchor="start" fill="#231f20" >−6</text><path d="M429.6 503.0h1.6M437.8 503.0h1.6" stroke="#fff" stroke-width="0.7"/><text x="441.90" y="504.80" font-size="5.0" text-anchor="start" fill="#231f20" >−8</text>
<rect x="0" y="0" width="520" height="1.2" fill="#111"/>
<rect x="0" y="0" width="1.5" height="664" fill="#454545"/>
<rect x="518.8" y="0" width="1.2" height="664" fill="#111"/>
<rect x="0" y="662" width="520" height="2" fill="#3a3a3a"/>
</svg></body></html>
